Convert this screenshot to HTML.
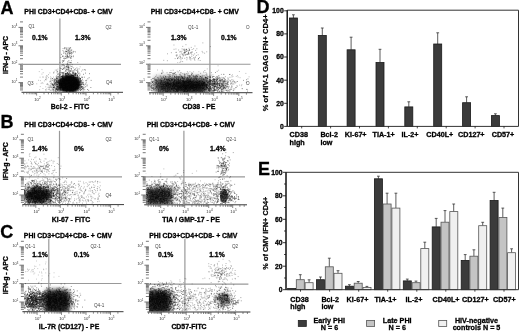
<!DOCTYPE html>
<html><head><meta charset="utf-8"><style>
html,body{margin:0;padding:0;background:#fff;}
svg{display:block;filter:blur(0.3px);}
</style></head><body>
<svg width="520" height="332" viewBox="0 0 520 332">
<defs><filter id="b1" x="-50%" y="-50%" width="200%" height="200%"><feGaussianBlur stdDeviation="1"/></filter>
<filter id="b2" x="-50%" y="-50%" width="200%" height="200%"><feGaussianBlur stdDeviation="2"/></filter>
<filter id="b3" x="-50%" y="-50%" width="200%" height="200%"><feGaussianBlur stdDeviation="3"/></filter></defs>
<g font-family="Liberation Sans, sans-serif">
<text x="68.5" y="13.6" font-size="6.9" font-weight="bold" text-anchor="middle" fill="#000"  stroke="#000" stroke-width="0.3">PHI CD3+CD4+CD8- + CMV</text>
<path d="M20.0 89.9h3M20.0 88.1h3M20.0 86.7h3M20.0 85.5h3M20.0 84.4h3M20.0 83.4h3M20.0 77.1h3M20.0 73.8h3M20.0 71.5h3M20.0 69.7h3M20.0 68.3h3M20.0 67.1h3M20.0 66.0h3M20.0 65.0h3M20.0 58.7h3M20.0 55.4h3M20.0 53.1h3M20.0 51.3h3M20.0 49.9h3M20.0 48.7h3M20.0 47.6h3M20.0 46.6h3M20.0 40.3h3M20.0 37.0h3M20.0 34.7h3M20.0 32.9h3M20.0 31.5h3M20.0 30.3h3M20.0 29.2h3M20.0 28.2h3M20.0 21.9h3M18.5 82.6h4.5M18.5 64.2h4.5M18.5 45.8h4.5M18.5 27.4h4.5" stroke="#555" stroke-width="0.8" fill="none"/>
<text x="17.3" y="82.8" font-size="3.8" font-weight="normal" text-anchor="end" fill="#333" >10<tspan font-size="2.8" dy="-1.7">1</tspan></text>
<text x="17.3" y="64.4" font-size="3.8" font-weight="normal" text-anchor="end" fill="#333" >10<tspan font-size="2.8" dy="-1.7">2</tspan></text>
<text x="17.3" y="46.0" font-size="3.8" font-weight="normal" text-anchor="end" fill="#333" >10<tspan font-size="2.8" dy="-1.7">3</tspan></text>
<text x="17.3" y="27.6" font-size="3.8" font-weight="normal" text-anchor="end" fill="#333" >10<tspan font-size="2.8" dy="-1.7">4</tspan></text>
<line x1="21.5" y1="92.3" x2="123" y2="92.3" stroke="#222" stroke-width="0.9"/>
<path d="M23.7 92.3v2M26.8 92.3v2M29.2 92.3v2M31.1 92.3v2M32.8 92.3v2M34.2 92.3v2M35.5 92.3v2M44.0 92.3v2M48.4 92.3v2M51.5 92.3v2M53.9 92.3v2M55.8 92.3v2M57.5 92.3v2M58.9 92.3v2M60.2 92.3v2M68.7 92.3v2M73.1 92.3v2M76.2 92.3v2M78.6 92.3v2M80.5 92.3v2M82.2 92.3v2M83.6 92.3v2M84.9 92.3v2M93.4 92.3v2M97.8 92.3v2M100.9 92.3v2M103.3 92.3v2M105.2 92.3v2M106.9 92.3v2M108.3 92.3v2M109.6 92.3v2M118.1 92.3v2M36.6 92.3v3.2M61.3 92.3v3.2M86.0 92.3v3.2M110.7 92.3v3.2" stroke="#555" stroke-width="0.7" fill="none"/>
<text x="37.4" y="100.6" font-size="4.2" font-weight="normal" text-anchor="middle" fill="#333" >10<tspan font-size="3" dy="-1.9">2</tspan></text>
<text x="62.1" y="100.6" font-size="4.2" font-weight="normal" text-anchor="middle" fill="#333" >10<tspan font-size="3" dy="-1.9">3</tspan></text>
<text x="86.8" y="100.6" font-size="4.2" font-weight="normal" text-anchor="middle" fill="#333" >10<tspan font-size="3" dy="-1.9">4</tspan></text>
<text x="111.5" y="100.6" font-size="4.2" font-weight="normal" text-anchor="middle" fill="#333" >10<tspan font-size="3" dy="-1.9">5</tspan></text>
<line x1="59.9" y1="18.5" x2="59.9" y2="92.3" stroke="#999" stroke-width="1.2"/>
<line x1="21.5" y1="64.4" x2="121" y2="64.4" stroke="#999" stroke-width="1.1"/>
<clipPath id="cp400"><rect x="23.0" y="18.5" width="98.0" height="73.3"/></clipPath><g clip-path="url(#cp400)">
<ellipse cx="69.5" cy="84" rx="11" ry="9.5" fill="#000" fill-opacity="0.97" filter="url(#b1)"/>
<path d="M67.7 86.8h.9M67.9 82.3h.9M63.0 82.8h.9M77.3 86.3h.9M76.8 85.4h.9M72.3 85.0h.9M57.8 88.7h.9M73.0 86.7h.9M57.7 74.4h.9M63.3 81.4h.9M71.6 83.7h.9M73.1 80.5h.9M71.7 86.2h.9M73.4 90.6h.9M65.2 79.9h.9M67.1 83.4h.9M73.9 85.4h.9M66.4 78.7h.9M65.9 90.7h.9M63.8 85.3h.9M72.5 75.8h.9M69.8 91.2h.9M55.4 82.2h.9M68.8 79.5h.9M73.0 83.7h.9M59.2 88.6h.9M74.2 89.2h.9M79.6 86.0h.9M70.3 76.9h.9M73.8 80.6h.9M66.3 77.0h.9M62.7 81.1h.9M78.5 72.8h.9M59.3 85.3h.9M79.6 87.2h.9M56.2 70.1h.9M72.0 80.0h.9M61.7 89.4h.9M77.2 84.9h.9M71.2 86.4h.9M80.7 87.4h.9M73.1 87.0h.9M58.5 91.0h.9M76.2 86.9h.9M55.7 80.5h.9M75.4 74.0h.9M68.2 89.6h.9M73.4 83.2h.9M71.8 87.6h.9M70.3 90.3h.9M64.9 81.7h.9M76.8 84.1h.9M63.3 89.2h.9M79.8 81.6h.9M59.8 83.3h.9M68.5 82.4h.9M79.3 78.4h.9M78.3 77.0h.9M64.0 87.5h.9M77.4 88.7h.9M71.9 84.8h.9M70.6 87.2h.9M68.3 85.5h.9M73.5 84.0h.9M74.8 87.1h.9M83.6 85.8h.9M66.5 82.0h.9M69.4 89.1h.9M67.1 86.1h.9M82.4 69.9h.9M61.6 85.3h.9M72.3 85.3h.9M66.5 87.6h.9M71.5 81.1h.9M86.5 86.0h.9M65.6 83.5h.9M67.9 83.7h.9M50.4 81.3h.9M76.6 77.6h.9M69.0 89.2h.9M57.6 82.1h.9M67.1 87.4h.9M77.1 69.2h.9M77.1 76.0h.9M74.3 75.8h.9M70.7 90.6h.9M68.5 85.1h.9M75.1 84.8h.9M76.8 82.4h.9M88.7 77.7h.9M75.9 82.5h.9M70.4 87.9h.9M71.1 87.5h.9M58.8 75.7h.9M73.8 78.7h.9M62.3 75.9h.9M78.4 88.1h.9M79.8 78.8h.9M69.5 77.7h.9M76.4 83.0h.9M68.8 80.7h.9M72.3 86.3h.9M80.0 78.4h.9M79.7 83.0h.9M64.3 89.6h.9M70.3 84.7h.9M79.5 82.6h.9M53.4 81.9h.9M56.5 88.5h.9M71.7 80.6h.9M69.4 88.6h.9M70.1 91.3h.9M69.1 89.7h.9M64.8 88.8h.9M56.4 78.0h.9M55.8 89.9h.9M60.9 83.9h.9M68.2 83.8h.9M65.4 85.3h.9M82.0 84.2h.9M73.2 89.5h.9M68.1 77.1h.9M65.6 89.9h.9M58.0 80.7h.9M76.6 88.4h.9M69.6 88.4h.9M70.7 77.5h.9M58.6 80.5h.9M76.0 80.9h.9M63.2 79.8h.9M58.8 83.4h.9M61.2 86.0h.9M53.0 85.8h.9M65.0 73.3h.9M74.6 82.5h.9M53.9 79.2h.9M71.5 81.5h.9M75.0 88.1h.9M74.2 85.8h.9M78.8 87.6h.9M72.7 72.5h.9M75.8 91.2h.9M67.4 81.4h.9M83.1 74.3h.9M63.0 87.8h.9M82.7 83.3h.9M73.4 89.0h.9M63.2 83.5h.9M71.5 88.5h.9M69.3 82.9h.9M62.4 82.0h.9M75.7 84.6h.9M63.5 79.4h.9M88.2 90.3h.9M74.0 69.7h.9M73.9 86.6h.9M81.3 86.4h.9M69.0 86.9h.9M55.9 89.7h.9M71.8 80.1h.9M59.7 80.3h.9M71.5 85.0h.9M66.7 78.6h.9M84.3 89.7h.9M61.1 76.6h.9M81.4 89.4h.9M82.2 88.5h.9M63.4 85.4h.9M54.4 79.9h.9M69.1 86.9h.9M64.4 83.3h.9M72.7 86.1h.9M74.0 85.1h.9M67.2 88.3h.9M69.8 79.5h.9M65.1 84.0h.9M68.7 84.9h.9M69.5 85.0h.9M68.6 77.1h.9M72.4 89.8h.9M72.5 83.0h.9M72.6 78.7h.9M56.2 84.3h.9M63.0 88.1h.9M61.9 69.5h.9M66.8 76.5h.9M64.2 86.9h.9M73.0 85.0h.9M79.9 87.9h.9M69.4 87.3h.9M81.1 89.3h.9M76.7 78.0h.9M68.5 88.0h.9M67.4 89.9h.9M73.7 89.0h.9M78.2 82.8h.9M67.1 88.8h.9M76.4 84.0h.9M61.3 85.0h.9M72.0 90.2h.9M75.0 84.1h.9M75.5 87.0h.9M70.9 84.3h.9M67.8 87.8h.9M62.1 80.5h.9M69.5 75.9h.9M66.4 73.0h.9M64.7 87.1h.9M73.5 83.7h.9M67.9 76.2h.9M82.3 86.8h.9M77.2 79.1h.9M68.2 74.0h.9M75.0 89.1h.9M56.2 83.7h.9M73.9 74.3h.9M56.7 78.1h.9M65.1 76.3h.9M69.7 85.4h.9M73.9 87.9h.9M80.0 90.4h.9M60.3 81.2h.9M62.1 78.1h.9M68.9 84.0h.9M72.9 75.3h.9M60.8 83.9h.9M68.1 82.3h.9M69.1 79.8h.9M74.4 85.9h.9M68.9 80.3h.9M68.3 69.0h.9M62.6 84.2h.9M59.0 85.1h.9M70.5 76.4h.9M67.7 82.3h.9M72.7 87.4h.9M69.2 79.3h.9M68.5 83.6h.9M74.6 85.6h.9M64.4 76.6h.9M66.9 79.9h.9M61.7 83.4h.9M66.1 84.6h.9M73.2 81.7h.9M85.8 82.2h.9M77.2 84.7h.9M77.3 70.9h.9M64.2 85.4h.9M71.8 91.0h.9M74.9 89.2h.9M73.1 83.1h.9M73.1 78.1h.9M77.8 78.4h.9M67.9 84.1h.9M77.6 84.1h.9M63.8 85.4h.9M73.6 87.9h.9M81.2 84.1h.9M71.4 81.6h.9M79.4 80.1h.9M74.2 81.4h.9M64.6 88.0h.9M78.8 83.9h.9M64.8 88.5h.9M69.2 85.7h.9M80.2 90.2h.9M69.5 88.3h.9M65.0 83.8h.9M79.1 77.3h.9M59.0 75.1h.9M77.7 81.5h.9M69.1 82.3h.9M68.7 78.0h.9M69.7 76.1h.9M69.0 85.7h.9M72.8 82.7h.9M63.2 84.9h.9M74.9 83.4h.9M66.2 80.1h.9M62.9 82.1h.9M71.6 86.8h.9M64.6 84.1h.9M89.1 73.7h.9M65.8 84.9h.9M70.6 86.2h.9M67.8 86.0h.9M69.9 88.2h.9M56.3 79.1h.9M69.5 78.3h.9M62.2 87.5h.9M65.0 87.5h.9M74.7 85.7h.9M73.1 83.4h.9M59.6 83.8h.9M72.7 81.1h.9M68.8 88.1h.9M63.4 87.5h.9M82.5 80.9h.9M70.5 83.2h.9M80.3 85.7h.9M75.8 80.2h.9M69.4 83.9h.9M75.8 74.4h.9M74.7 83.3h.9M72.6 86.0h.9M59.0 82.8h.9M79.9 80.8h.9M62.3 76.5h.9M61.0 85.8h.9M81.3 86.4h.9M65.9 80.3h.9M73.2 87.0h.9M62.4 77.6h.9M71.5 85.4h.9M60.4 82.9h.9M65.7 86.5h.9M68.7 83.5h.9M67.0 89.8h.9M79.2 82.0h.9M75.4 79.8h.9M70.0 88.1h.9M80.1 81.9h.9M69.0 85.1h.9M59.0 84.1h.9M64.8 86.0h.9M61.6 73.1h.9M69.8 85.4h.9M65.7 88.9h.9M67.6 80.7h.9M72.8 75.4h.9M64.8 83.9h.9M75.4 83.1h.9M71.7 80.4h.9M65.0 84.1h.9M70.7 89.6h.9M60.8 72.4h.9M73.7 88.4h.9M70.9 85.4h.9M76.0 86.0h.9M81.1 77.2h.9M66.9 65.1h.9M75.2 82.0h.9M69.5 82.6h.9M66.0 79.4h.9M65.1 87.5h.9M69.8 84.4h.9M68.3 89.0h.9M73.0 83.2h.9M74.2 83.2h.9M72.8 78.7h.9M77.1 85.9h.9M71.8 88.9h.9M70.9 83.2h.9M58.7 89.3h.9M69.7 82.4h.9M72.0 84.4h.9M74.2 82.0h.9M69.2 72.2h.9M66.5 87.7h.9M78.9 82.0h.9M67.2 88.0h.9M81.2 84.2h.9M78.1 80.1h.9M71.0 83.6h.9M70.3 90.2h.9M86.2 80.3h.9M65.5 86.7h.9M62.1 86.7h.9M73.5 82.5h.9M73.2 75.5h.9M74.8 75.5h.9M64.6 80.9h.9M66.7 88.7h.9M70.1 81.8h.9M69.5 86.0h.9M78.2 85.5h.9M85.0 73.1h.9M69.2 86.3h.9M76.3 87.7h.9M67.6 78.2h.9M70.2 89.7h.9M61.9 78.4h.9M69.3 73.3h.9M67.7 81.6h.9M72.7 80.1h.9M63.3 81.8h.9M69.2 80.3h.9M69.6 88.1h.9M64.0 81.7h.9M64.4 83.8h.9M73.2 76.5h.9M72.7 83.9h.9M56.7 85.6h.9M77.9 73.7h.9M75.2 85.2h.9M72.8 86.4h.9M78.6 82.8h.9M75.6 81.7h.9M74.6 79.5h.9M72.6 83.1h.9M61.5 79.7h.9M70.9 89.2h.9M72.5 86.9h.9M69.2 91.4h.9M66.8 81.0h.9M75.7 84.3h.9M67.6 80.8h.9M67.7 87.4h.9M72.0 77.3h.9M72.5 85.0h.9M62.5 88.3h.9M67.5 82.2h.9M75.1 91.3h.9M64.7 86.4h.9M66.0 90.6h.9M65.0 88.5h.9M85.0 70.0h.9M66.5 86.8h.9M68.8 80.3h.9M84.6 84.4h.9M58.0 88.7h.9M57.4 90.3h.9M65.5 84.8h.9M78.3 84.6h.9M59.8 74.7h.9M77.8 88.1h.9M63.8 88.7h.9M73.0 87.6h.9M53.7 82.3h.9M75.8 88.0h.9M75.7 70.5h.9M70.7 86.7h.9M87.4 78.8h.9M67.2 84.2h.9M75.7 81.6h.9M77.5 79.7h.9M71.4 81.1h.9M70.6 80.2h.9M58.3 90.0h.9M71.6 80.9h.9M70.9 89.4h.9M62.7 83.4h.9M73.3 86.9h.9M67.2 72.4h.9M78.2 85.8h.9M69.6 82.5h.9M71.3 81.7h.9M62.3 79.9h.9M65.3 80.6h.9M61.4 87.5h.9M60.3 87.6h.9M62.4 85.9h.9M79.1 85.1h.9M64.4 84.3h.9M70.5 74.5h.9M65.2 84.9h.9M66.2 84.4h.9M74.6 88.2h.9M75.8 87.2h.9M67.5 83.9h.9M67.6 82.3h.9M68.2 74.5h.9M67.2 83.9h.9M62.7 83.9h.9M73.1 83.1h.9M84.0 69.7h.9M68.1 74.0h.9M52.0 84.7h.9M73.1 82.3h.9M73.4 71.7h.9M75.5 86.0h.9M69.7 80.8h.9M74.0 81.3h.9M71.1 81.2h.9M53.8 83.8h.9M70.9 88.1h.9M63.4 83.8h.9M73.8 84.8h.9M63.1 73.4h.9M76.0 88.5h.9M65.2 80.1h.9M75.7 79.0h.9M56.8 78.5h.9M64.7 80.0h.9M71.1 79.9h.9M78.7 83.6h.9M61.9 91.2h.9M65.4 85.2h.9M69.4 82.3h.9M71.8 80.2h.9M56.6 71.9h.9M60.6 79.8h.9M69.3 84.3h.9M73.4 84.7h.9M63.9 80.1h.9M54.7 83.1h.9M72.9 86.9h.9M68.7 83.0h.9M76.1 84.1h.9M74.7 87.2h.9M71.0 91.2h.9M65.5 82.0h.9M63.8 79.6h.9M69.7 87.1h.9M77.7 88.4h.9M77.9 77.1h.9M65.0 86.5h.9M79.5 84.6h.9M63.5 82.1h.9M64.9 79.3h.9M80.0 80.6h.9M77.8 85.8h.9M65.2 86.3h.9M80.9 87.4h.9M78.3 84.5h.9M73.1 82.9h.9M72.5 91.2h.9M59.5 83.7h.9M71.2 80.9h.9M67.3 88.3h.9M83.5 87.5h.9M71.8 75.5h.9M83.0 84.4h.9M69.3 77.8h.9M69.1 78.0h.9M70.0 86.6h.9M69.7 85.5h.9M64.9 74.0h.9M68.2 79.8h.9M62.4 82.0h.9M71.5 77.5h.9M74.3 83.2h.9M70.4 83.3h.9M69.2 88.0h.9M68.9 70.8h.9M69.3 79.1h.9M74.1 80.6h.9M62.2 77.8h.9M59.6 70.8h.9M56.4 86.0h.9M65.0 73.7h.9M59.1 87.4h.9M64.1 82.0h.9M71.8 91.5h.9M83.1 89.7h.9M70.5 85.0h.9M67.3 86.5h.9M71.5 84.3h.9M66.0 76.7h.9M65.8 75.5h.9M78.1 87.0h.9M75.7 73.5h.9M82.4 88.5h.9M83.9 77.2h.9M73.2 86.3h.9M70.9 84.9h.9M76.9 75.8h.9M60.8 76.3h.9M65.6 80.7h.9M72.1 85.5h.9M69.7 80.3h.9M66.4 89.2h.9M74.8 84.6h.9M65.3 87.6h.9M77.6 82.5h.9M75.3 77.9h.9M76.6 85.1h.9M58.4 87.7h.9M63.3 91.1h.9M64.7 83.1h.9M71.5 82.2h.9M71.3 81.0h.9M74.2 84.0h.9M71.0 68.9h.9M77.6 84.2h.9M57.0 84.5h.9M72.8 89.9h.9M68.5 87.7h.9M66.9 77.9h.9M77.2 89.0h.9M80.3 88.7h.9M65.5 74.9h.9M64.9 80.3h.9M63.8 87.2h.9M71.8 82.5h.9M70.7 83.2h.9M71.0 88.1h.9M76.2 80.2h.9M70.3 90.1h.9M58.0 82.2h.9M69.7 76.1h.9M65.9 88.0h.9M63.5 76.3h.9M73.1 89.2h.9M70.9 76.8h.9M75.0 88.4h.9M73.4 81.3h.9M71.6 88.3h.9M65.6 73.9h.9M71.8 86.6h.9M69.6 88.9h.9M65.4 83.5h.9M67.4 87.1h.9M80.7 82.6h.9M75.0 87.2h.9M81.9 83.0h.9M68.7 78.2h.9M72.8 91.4h.9M73.2 86.3h.9M68.1 84.9h.9M59.5 89.8h.9M66.6 77.9h.9M64.2 79.5h.9M75.5 89.8h.9M60.0 89.1h.9M75.7 80.8h.9M59.1 79.9h.9M65.1 85.9h.9M67.0 72.8h.9M71.1 75.6h.9M75.8 77.4h.9M64.6 79.3h.9M65.7 91.1h.9M75.5 87.3h.9M71.7 75.5h.9M65.9 81.0h.9M62.7 86.8h.9M64.3 80.1h.9M62.2 72.7h.9M73.7 91.3h.9M70.7 78.6h.9M50.6 85.0h.9M78.0 85.6h.9M77.4 81.6h.9M76.9 88.3h.9M58.7 81.8h.9M59.5 83.4h.9M73.5 78.1h.9M55.1 91.1h.9M60.2 89.8h.9M68.0 85.5h.9M68.4 89.5h.9M76.8 84.5h.9M60.0 88.1h.9M66.2 87.5h.9M77.5 81.5h.9M65.7 86.4h.9M77.8 90.9h.9M73.1 76.7h.9M60.7 85.4h.9M63.5 90.3h.9M74.9 74.8h.9M63.8 84.9h.9M66.0 83.2h.9M72.8 79.5h.9M72.8 80.5h.9M65.7 87.0h.9M65.5 85.6h.9M80.7 84.1h.9M68.5 88.0h.9M66.9 90.0h.9M60.5 87.4h.9M65.9 79.6h.9M81.9 79.3h.9M81.8 87.6h.9M79.7 78.6h.9M68.7 83.3h.9M86.7 85.0h.9M66.5 80.5h.9M72.6 85.8h.9M67.2 86.6h.9M79.7 78.5h.9M60.0 78.0h.9M62.2 73.8h.9M72.7 73.8h.9M58.2 82.3h.9M56.1 88.3h.9M64.3 82.5h.9M69.9 87.0h.9M67.1 84.1h.9M65.7 84.6h.9M61.3 84.3h.9M56.0 81.3h.9M82.9 84.4h.9M60.7 85.4h.9M62.7 74.9h.9M64.3 88.1h.9M72.2 83.5h.9M63.0 78.1h.9M78.9 85.3h.9M62.8 72.4h.9M61.5 83.6h.9M71.0 83.1h.9M67.6 76.4h.9M64.2 88.7h.9M57.6 82.5h.9M71.3 89.7h.9M61.6 87.3h.9M72.2 79.9h.9M72.8 79.1h.9M63.9 83.9h.9M50.5 83.4h.9M62.5 76.0h.9M66.5 88.2h.9M66.7 91.0h.9M61.4 76.8h.9M80.4 86.2h.9M76.1 79.5h.9M75.1 85.4h.9M74.0 84.1h.9M77.9 80.4h.9M62.8 75.9h.9M77.6 79.9h.9M62.2 78.8h.9M66.4 77.0h.9M67.5 80.6h.9M65.6 78.7h.9M69.8 81.5h.9M70.3 85.4h.9M71.9 72.0h.9M65.8 79.6h.9M74.9 75.3h.9M64.5 82.4h.9M67.1 89.5h.9M66.4 89.3h.9M59.2 74.0h.9M78.0 86.4h.9M72.9 84.7h.9M72.9 77.3h.9M76.1 81.1h.9M76.4 84.5h.9M55.7 76.9h.9M77.4 83.2h.9M66.7 85.3h.9M66.5 81.0h.9M70.2 84.8h.9M80.1 84.3h.9M81.5 89.8h.9M70.4 84.8h.9M68.5 80.0h.9M69.0 80.5h.9M81.0 86.9h.9M66.4 73.5h.9M69.1 81.7h.9M61.9 77.7h.9M53.7 87.1h.9M69.3 83.2h.9M79.6 84.7h.9M70.7 82.0h.9M67.1 84.2h.9M63.3 89.3h.9M59.7 87.1h.9M62.9 90.0h.9M64.5 79.8h.9M60.2 90.4h.9M81.0 80.7h.9M64.2 82.1h.9M87.1 89.5h.9M65.7 74.1h.9M64.8 90.5h.9M82.6 82.5h.9M64.7 81.2h.9M56.3 89.0h.9M61.9 89.8h.9M57.5 77.0h.9M71.5 79.8h.9M75.0 84.0h.9M61.3 87.4h.9M75.4 73.5h.9M82.3 86.7h.9M74.8 73.8h.9M64.5 82.1h.9M77.0 76.0h.9M63.3 72.8h.9M67.8 85.9h.9M57.7 80.7h.9M74.1 82.3h.9M61.3 78.8h.9M64.9 84.8h.9M71.5 78.1h.9M80.3 89.2h.9M70.2 80.0h.9M56.4 78.4h.9M75.9 79.6h.9M60.3 85.1h.9M71.2 87.3h.9M63.6 89.4h.9M62.6 87.8h.9M70.8 85.3h.9M76.3 83.9h.9M77.3 88.8h.9M70.4 80.9h.9M64.2 81.1h.9M68.1 83.9h.9M90.4 87.5h.9M74.9 79.3h.9M64.5 82.2h.9M70.8 78.3h.9M80.8 80.9h.9M77.0 71.2h.9M69.5 85.5h.9M70.8 87.3h.9M71.5 84.9h.9M56.3 80.1h.9M53.1 87.5h.9M71.7 82.9h.9M63.8 80.8h.9M69.1 91.1h.9M58.4 73.4h.9M66.1 79.2h.9M65.6 85.0h.9M90.7 80.4h.9M69.8 85.5h.9M69.3 89.1h.9M81.9 77.2h.9M70.6 82.5h.9M72.0 75.6h.9M57.2 71.3h.9M73.2 85.1h.9M70.0 71.0h.9M66.9 79.8h.9M59.6 79.0h.9M74.4 87.0h.9M69.3 86.8h.9M65.3 84.4h.9M69.8 87.0h.9M69.0 83.2h.9M68.6 80.5h.9M85.1 86.8h.9M79.3 75.4h.9M74.4 88.6h.9M82.7 91.2h.9M74.9 77.5h.9M63.4 85.5h.9M73.0 78.4h.9M66.8 81.8h.9M69.9 85.8h.9M67.5 77.2h.9M68.8 89.6h.9M72.6 87.6h.9M72.9 79.8h.9M73.5 89.6h.9M83.4 88.1h.9M67.1 80.7h.9M63.8 84.6h.9M69.3 87.7h.9M85.4 83.8h.9M74.2 86.6h.9M71.4 82.9h.9M68.6 79.5h.9M70.7 83.9h.9M71.7 79.3h.9M69.8 84.3h.9M73.7 78.2h.9M72.4 89.4h.9M73.7 82.0h.9M66.1 82.7h.9M68.4 80.5h.9M72.1 85.1h.9M63.1 79.9h.9M68.8 87.7h.9M61.1 78.4h.9M73.0 77.3h.9M70.3 85.9h.9M68.7 78.4h.9M69.1 82.2h.9M71.9 79.4h.9M77.1 74.8h.9M68.3 84.0h.9M76.2 80.7h.9M73.3 80.9h.9M66.7 86.4h.9M63.0 89.4h.9M78.0 84.2h.9M61.6 86.2h.9M77.5 90.0h.9M75.2 73.9h.9M60.9 90.2h.9M82.7 88.2h.9M77.3 82.2h.9M60.9 83.4h.9M68.1 83.7h.9M74.4 83.2h.9M70.8 86.3h.9M72.6 84.5h.9M68.0 80.6h.9M78.9 84.8h.9M61.9 80.9h.9M68.5 81.5h.9M77.1 77.6h.9M72.9 84.8h.9M61.3 84.3h.9M68.8 86.8h.9M66.3 85.7h.9M57.8 78.0h.9M75.0 89.7h.9M69.4 80.7h.9M77.1 72.5h.9M63.9 87.7h.9M74.1 78.3h.9M70.6 79.1h.9M69.9 89.0h.9M51.4 90.1h.9M74.7 72.6h.9M74.9 74.2h.9M77.5 86.2h.9M85.3 80.6h.9M69.5 89.8h.9M65.0 80.1h.9M66.9 83.6h.9M61.9 86.7h.9M73.3 84.4h.9M81.4 82.2h.9M78.6 81.0h.9M74.8 73.4h.9M70.9 83.0h.9M66.0 80.6h.9M67.1 80.0h.9M54.1 80.7h.9M65.7 81.1h.9M62.1 83.3h.9M75.0 82.6h.9M66.1 91.5h.9M76.3 89.1h.9M77.6 82.2h.9M68.6 90.1h.9M65.6 83.3h.9M72.1 86.1h.9M67.6 89.4h.9M68.3 88.0h.9M77.0 87.6h.9M74.6 77.6h.9M60.3 80.6h.9M60.9 85.7h.9M63.5 80.0h.9M67.6 87.8h.9M71.0 90.5h.9M62.6 88.9h.9M76.0 84.4h.9M72.8 80.9h.9M61.9 81.8h.9M70.9 85.7h.9M74.7 79.7h.9M75.9 86.1h.9M58.9 87.3h.9M73.4 86.5h.9M80.6 81.7h.9M73.1 88.1h.9M63.2 90.6h.9M59.3 76.8h.9M73.2 78.0h.9M68.7 75.0h.9M70.0 77.8h.9M71.9 75.6h.9M72.6 82.5h.9M69.9 83.6h.9M70.4 76.7h.9M51.5 84.2h.9M62.9 81.5h.9M72.5 73.1h.9M64.2 80.6h.9M62.1 85.8h.9M68.5 79.5h.9M62.6 88.4h.9M64.9 87.2h.9M72.6 73.6h.9M61.9 84.0h.9M71.9 88.3h.9M75.1 89.7h.9M66.9 82.8h.9M74.9 81.7h.9M76.9 75.3h.9M74.1 83.0h.9M55.7 89.4h.9M71.7 84.1h.9M62.0 81.4h.9M80.1 79.5h.9M45.2 79.3h.9M61.1 83.3h.9M66.7 79.0h.9M63.6 89.8h.9M65.7 78.0h.9M75.0 87.1h.9M62.2 88.1h.9M56.6 78.9h.9M77.4 82.6h.9M60.4 86.8h.9M75.9 83.9h.9M56.9 82.1h.9M72.4 88.2h.9M82.5 82.6h.9M66.1 83.8h.9M77.9 78.8h.9M78.6 68.9h.9M75.1 80.3h.9M72.7 87.8h.9M61.2 83.5h.9M71.2 87.2h.9M63.0 78.5h.9M68.2 82.8h.9" stroke="#000" stroke-opacity="0.5" stroke-width="0.9" fill="none"/>
<path d="M58.3 86.0h.9M64.5 89.3h.9M73.5 80.1h.9M72.7 72.8h.9M65.9 76.3h.9M59.7 80.1h.9M67.1 89.3h.9M46.2 75.6h.9M62.0 77.0h.9M70.7 82.6h.9M68.2 76.9h.9M71.2 82.3h.9M56.0 78.3h.9M59.1 72.3h.9M69.0 80.4h.9M68.7 74.3h.9M66.7 74.1h.9M70.5 84.5h.9M79.4 88.2h.9M62.8 77.0h.9M61.9 82.0h.9M80.9 84.6h.9M53.7 71.8h.9M59.6 83.3h.9M68.0 81.9h.9M79.6 74.6h.9M70.2 74.9h.9M54.8 70.1h.9M52.1 80.4h.9M68.3 86.5h.9M67.1 75.5h.9M56.5 81.1h.9M68.2 84.0h.9M65.4 83.2h.9M73.3 79.0h.9M65.0 78.8h.9M61.7 78.6h.9M66.0 81.4h.9M76.7 88.5h.9M65.1 83.9h.9M69.9 85.0h.9M68.1 81.7h.9M65.0 74.9h.9M73.7 88.4h.9M72.3 82.8h.9M69.7 77.1h.9M56.4 84.3h.9M69.3 76.4h.9M61.7 88.3h.9M56.3 91.5h.9M63.3 79.9h.9M64.7 81.0h.9M66.6 75.1h.9M75.0 74.9h.9M64.7 83.6h.9M64.5 77.2h.9M70.3 77.6h.9M59.9 79.3h.9M66.6 91.1h.9M60.9 86.3h.9M62.9 77.7h.9M65.9 81.8h.9M73.6 91.4h.9M63.9 88.6h.9M74.5 85.3h.9M63.1 85.9h.9M67.3 82.3h.9M66.3 84.3h.9M75.2 87.4h.9M66.7 86.5h.9M77.4 73.9h.9M77.6 71.3h.9M71.5 83.9h.9M77.6 81.8h.9M64.9 74.8h.9M59.9 85.0h.9M66.5 75.3h.9M71.5 75.0h.9M65.2 77.0h.9M78.8 89.5h.9M67.0 69.8h.9M69.8 80.5h.9M70.3 83.7h.9M65.9 86.0h.9M73.4 81.4h.9M65.4 76.9h.9M72.5 72.9h.9M67.0 75.1h.9M58.9 83.9h.9M67.8 80.2h.9M73.7 70.3h.9M67.6 81.9h.9M73.4 72.9h.9M72.7 81.4h.9M76.8 87.4h.9M68.0 77.2h.9M65.8 73.9h.9M67.8 67.8h.9M67.5 82.8h.9M74.4 77.7h.9M77.0 75.8h.9M67.1 67.8h.9M63.1 74.9h.9M77.5 83.4h.9M61.0 83.4h.9M71.1 78.5h.9M68.1 78.1h.9M64.6 68.7h.9M67.4 88.2h.9M77.1 78.2h.9M63.3 78.7h.9M73.7 82.2h.9M64.3 82.3h.9M66.7 83.3h.9M65.4 70.7h.9M68.4 84.8h.9M61.0 79.3h.9M73.6 77.6h.9M73.3 86.5h.9M62.0 90.3h.9M57.5 76.7h.9M72.7 88.4h.9M62.1 75.8h.9M69.2 67.8h.9M72.0 83.5h.9M65.2 83.4h.9M72.9 82.0h.9M71.3 89.6h.9M65.0 81.0h.9M64.7 86.5h.9M65.4 83.0h.9M68.9 80.4h.9M78.8 79.5h.9M76.9 85.2h.9M76.3 79.0h.9M73.8 84.8h.9M64.1 81.7h.9M67.2 79.8h.9M76.2 75.5h.9M57.4 69.1h.9M65.2 76.0h.9M68.1 83.6h.9M79.0 81.9h.9M70.9 75.4h.9M71.6 88.5h.9M76.4 67.7h.9M73.6 89.9h.9M73.2 70.6h.9M66.1 83.7h.9M70.6 74.9h.9M62.4 86.0h.9M59.6 89.0h.9M68.1 81.9h.9M59.7 76.3h.9M72.3 70.8h.9M81.0 71.2h.9M60.4 80.3h.9M71.0 84.6h.9M65.7 78.7h.9M66.5 76.4h.9M51.9 86.0h.9M69.6 81.0h.9M64.1 81.6h.9M67.9 79.5h.9M74.9 69.2h.9M69.6 73.3h.9M66.0 89.4h.9M61.2 79.4h.9M64.3 85.9h.9M61.9 69.5h.9M71.2 77.8h.9M66.0 86.7h.9M62.5 77.7h.9M68.9 82.6h.9M64.8 86.5h.9M82.0 77.4h.9M79.7 66.8h.9M76.8 77.9h.9M68.9 77.9h.9M64.0 72.0h.9M65.5 88.1h.9M75.1 77.8h.9M64.7 75.6h.9M60.5 91.3h.9M72.1 80.7h.9M64.9 73.6h.9M76.2 84.9h.9M62.1 86.2h.9M61.1 84.0h.9M62.0 77.4h.9M71.1 82.7h.9M74.3 74.8h.9M77.9 88.4h.9M67.9 82.9h.9M63.1 79.0h.9M59.8 80.6h.9M69.2 88.4h.9M73.9 85.1h.9M65.7 78.6h.9M65.9 81.4h.9M56.0 84.8h.9M58.2 76.8h.9M68.1 76.8h.9M78.4 79.4h.9M77.8 87.3h.9M64.9 82.5h.9M76.1 77.9h.9M68.6 76.5h.9M68.4 77.8h.9M68.5 86.3h.9M76.7 80.8h.9M69.3 85.3h.9M66.2 73.4h.9M74.9 74.2h.9M73.8 74.0h.9M79.4 73.5h.9M73.3 89.4h.9M62.0 89.3h.9M62.9 69.0h.9M72.5 84.4h.9M66.7 64.2h.9M67.7 78.1h.9M65.6 78.2h.9M56.8 76.5h.9M79.2 89.7h.9M65.7 75.6h.9M70.5 86.6h.9M72.5 72.7h.9M69.0 80.9h.9M77.0 87.5h.9M71.3 87.6h.9M65.5 89.6h.9M65.3 82.5h.9M73.7 74.3h.9M63.6 69.0h.9M69.0 79.7h.9M66.0 83.1h.9M54.8 79.9h.9M68.5 78.3h.9M73.0 90.9h.9M65.2 74.1h.9M64.2 80.6h.9M71.7 74.6h.9M74.2 73.6h.9M73.2 82.7h.9M66.4 79.0h.9M71.0 85.4h.9M59.6 81.7h.9M63.4 83.9h.9M76.5 80.3h.9" stroke="#000" stroke-opacity="0.3" stroke-width="0.9" fill="none"/>
<path d="M57.5 86.9h.9M45.2 89.7h.9M60.4 86.8h.9M56.3 82.5h.9M46.9 83.8h.9M59.2 85.9h.9M50.8 82.8h.9M63.4 79.8h.9M53.7 80.7h.9M55.6 89.1h.9M60.6 76.3h.9M64.3 83.2h.9M57.6 80.0h.9M55.2 82.5h.9M53.6 84.4h.9M61.8 87.7h.9M53.7 86.6h.9M58.1 89.7h.9M56.6 88.2h.9M67.1 86.5h.9M53.3 87.6h.9M54.5 84.2h.9M58.8 87.6h.9M56.8 90.1h.9M57.2 79.7h.9M61.8 84.3h.9M63.2 82.9h.9M60.5 87.5h.9M46.3 78.8h.9M49.8 90.4h.9M62.7 88.4h.9M60.9 83.6h.9M58.0 87.1h.9M59.8 89.4h.9M57.1 82.6h.9M55.6 88.0h.9M50.8 80.0h.9M56.2 83.3h.9M56.8 73.2h.9M56.5 84.8h.9M61.4 76.5h.9M56.7 88.3h.9M62.6 81.0h.9M60.8 84.4h.9M55.3 81.9h.9M56.2 81.9h.9M62.4 87.8h.9M64.1 88.0h.9M55.3 91.0h.9M55.2 83.8h.9M57.3 86.2h.9M63.2 83.1h.9M59.5 85.9h.9M52.6 80.7h.9M57.0 87.9h.9M59.4 88.3h.9M58.2 83.8h.9M59.8 81.2h.9M52.2 84.4h.9M51.8 83.5h.9M54.8 83.3h.9M57.8 82.1h.9M56.2 77.8h.9M58.6 81.8h.9M59.8 72.4h.9M54.5 87.2h.9M47.4 84.3h.9M58.4 86.5h.9M51.5 87.1h.9M58.6 81.3h.9M61.2 85.8h.9M58.1 83.8h.9M60.4 86.5h.9M62.9 88.2h.9M55.3 84.9h.9M62.0 84.2h.9M59.7 88.5h.9M57.2 74.8h.9M58.6 87.0h.9M58.6 82.3h.9M63.3 85.3h.9M55.3 82.5h.9M59.6 80.7h.9M63.7 91.1h.9M63.9 88.9h.9M63.4 88.4h.9M63.9 83.6h.9M58.6 89.8h.9M57.6 91.3h.9M58.4 89.3h.9M58.4 78.8h.9M60.4 83.1h.9M58.1 76.7h.9M57.2 90.4h.9M48.6 87.0h.9M54.0 82.8h.9M49.8 81.1h.9M59.9 83.6h.9M67.6 73.8h.9M57.7 87.1h.9M67.9 86.7h.9M60.2 87.7h.9M57.2 84.0h.9M56.0 75.9h.9M59.2 85.8h.9M57.5 84.7h.9M54.7 85.9h.9M56.1 87.0h.9M71.7 87.9h.9M61.8 90.0h.9M61.1 90.0h.9M55.8 86.0h.9M54.8 90.7h.9M61.6 83.7h.9M63.4 80.6h.9M57.6 89.1h.9M57.8 87.9h.9M63.2 87.6h.9M53.2 89.5h.9M57.6 86.6h.9M55.5 79.3h.9M52.5 84.3h.9M53.3 72.8h.9M63.0 80.3h.9M54.8 88.6h.9M54.6 89.2h.9M55.9 87.5h.9M58.5 86.0h.9M50.0 78.8h.9M55.6 88.6h.9M58.7 88.4h.9M62.3 78.7h.9M59.2 85.1h.9M56.6 81.8h.9M54.6 81.0h.9M65.5 86.0h.9M61.3 81.2h.9M45.8 77.1h.9M57.8 81.1h.9M56.9 81.1h.9M51.9 84.9h.9M56.2 82.0h.9M54.1 81.5h.9M50.9 87.3h.9M52.9 85.2h.9M58.4 88.7h.9M63.0 83.3h.9M52.6 85.1h.9M59.3 82.6h.9M51.8 87.8h.9M62.5 76.6h.9M58.9 84.9h.9M59.0 83.7h.9M59.9 89.1h.9M61.4 88.8h.9M59.8 80.3h.9M56.2 86.6h.9M56.3 80.9h.9M50.0 87.2h.9M58.1 83.2h.9M56.2 81.7h.9M54.7 85.5h.9M55.2 89.3h.9M57.4 86.6h.9M60.6 87.1h.9M57.3 82.1h.9M56.5 89.3h.9M59.0 84.1h.9M52.2 78.5h.9M59.4 91.0h.9M59.6 79.3h.9M57.1 87.1h.9M54.0 87.7h.9M57.1 81.9h.9M52.6 90.0h.9M59.6 81.7h.9M53.6 90.3h.9M60.6 84.5h.9M65.0 84.6h.9M53.4 91.3h.9M57.2 87.7h.9M58.2 81.1h.9M52.8 85.1h.9M64.2 81.1h.9M64.0 87.1h.9M53.1 87.3h.9M60.5 81.6h.9M48.7 87.7h.9M53.1 88.1h.9M49.6 85.3h.9M54.5 78.8h.9M56.9 86.8h.9M55.6 80.3h.9M58.9 77.5h.9M60.3 88.4h.9M65.3 90.3h.9M59.6 87.3h.9M58.1 79.6h.9M64.4 88.6h.9M56.7 80.4h.9M64.5 88.6h.9M52.8 89.3h.9M66.3 85.9h.9M59.7 84.0h.9M55.3 91.2h.9M71.5 86.6h.9M57.5 89.9h.9M56.7 89.5h.9M61.6 81.1h.9M53.3 85.6h.9M61.6 87.3h.9M63.4 79.3h.9M60.2 83.0h.9M58.4 87.6h.9M53.8 84.9h.9M52.9 87.3h.9M54.3 83.6h.9M59.0 82.8h.9M63.0 82.9h.9M61.7 87.4h.9M53.5 84.9h.9M54.3 84.2h.9M60.0 79.7h.9M47.9 89.3h.9M49.3 89.5h.9M62.5 87.9h.9M57.1 84.8h.9M59.1 84.5h.9M55.7 84.2h.9M63.1 83.0h.9M59.7 80.4h.9M54.9 79.3h.9M57.1 89.3h.9M59.3 83.6h.9M60.7 84.3h.9M59.6 87.3h.9M60.4 74.0h.9M52.3 89.7h.9M57.0 83.3h.9M64.5 88.7h.9M66.3 88.5h.9M57.1 89.5h.9M54.6 83.8h.9M55.6 84.9h.9M61.4 83.7h.9M59.4 83.6h.9M61.8 72.7h.9M57.1 86.8h.9M53.3 90.9h.9M62.2 89.1h.9" stroke="#000" stroke-opacity="0.4" stroke-width="0.9" fill="none"/>
<path d="M66.5 64.3h.9M66.3 66.4h.9M67.8 66.4h.9M77.3 62.6h.9M71.0 66.4h.9M66.2 71.1h.9M67.0 63.9h.9M68.4 67.3h.9M60.0 68.7h.9M63.4 65.5h.9M68.6 69.0h.9M66.0 75.3h.9M68.4 65.9h.9M67.8 67.6h.9M59.6 62.7h.9M62.3 75.0h.9M66.4 67.1h.9M65.1 71.3h.9M67.1 73.8h.9M69.7 73.6h.9M66.6 69.3h.9M65.5 67.4h.9M61.2 66.0h.9M63.8 65.8h.9M71.1 68.9h.9M71.1 70.9h.9M70.1 71.4h.9M65.0 70.7h.9M65.9 66.2h.9M71.0 75.3h.9M63.7 73.9h.9M69.8 65.1h.9M67.9 69.3h.9M68.3 66.8h.9M62.7 68.1h.9M69.9 70.6h.9M69.2 71.7h.9M63.7 67.9h.9M68.1 71.4h.9M67.5 69.7h.9M67.5 75.1h.9M59.6 67.9h.9M75.3 68.8h.9M60.8 68.5h.9M62.2 65.7h.9M67.8 73.8h.9M68.6 70.3h.9M70.4 68.7h.9M64.1 67.7h.9M68.1 67.1h.9M64.7 66.8h.9M61.9 64.5h.9M66.7 66.8h.9M67.1 72.7h.9M68.0 67.9h.9M63.0 64.4h.9M68.3 65.1h.9M68.4 64.4h.9M67.5 67.8h.9M70.4 66.7h.9M65.7 68.8h.9M67.2 73.7h.9M66.1 66.2h.9M65.9 69.6h.9M67.8 70.3h.9M62.3 76.3h.9M73.2 67.9h.9M62.9 68.5h.9M68.4 60.5h.9M67.0 63.0h.9M68.5 72.7h.9M70.5 62.9h.9M71.7 71.1h.9M65.8 69.7h.9M72.1 66.9h.9M66.9 66.1h.9M70.9 60.7h.9M71.8 64.7h.9M70.1 62.5h.9M63.8 66.0h.9" stroke="#000" stroke-opacity="0.4" stroke-width="0.9" fill="none"/>
<path d="M69.9 47.8h.9M69.2 51.6h.9M71.1 52.8h.9M68.9 53.3h.9M72.7 52.6h.9M67.4 61.6h.9M67.7 56.6h.9M65.4 54.8h.9M61.0 54.4h.9M65.6 48.2h.9M63.4 58.4h.9M68.7 48.2h.9M72.7 51.3h.9M66.4 54.9h.9M64.2 47.8h.9M65.3 58.5h.9M70.2 47.9h.9M71.0 54.1h.9M68.9 54.2h.9M68.7 50.1h.9M64.9 51.3h.9M66.4 56.4h.9M64.0 60.1h.9M65.7 51.7h.9M69.5 55.7h.9M66.5 49.9h.9M64.6 47.8h.9M70.8 58.2h.9M72.9 55.9h.9M68.5 56.9h.9M70.2 53.0h.9M68.5 62.3h.9M62.6 48.6h.9M64.7 56.9h.9M70.9 52.7h.9M69.4 53.8h.9M68.4 51.9h.9M67.4 54.0h.9M70.8 62.6h.9M62.3 56.1h.9M67.5 57.7h.9M70.6 57.0h.9M69.8 50.3h.9M62.6 60.4h.9M71.0 50.3h.9M71.2 56.6h.9M60.4 57.5h.9M64.6 58.5h.9M65.5 51.1h.9M63.0 53.2h.9M70.4 51.4h.9M62.1 62.3h.9M72.8 56.7h.9M65.9 49.3h.9M62.8 56.2h.9M71.3 49.9h.9M67.5 52.9h.9M66.8 55.9h.9M73.5 51.5h.9M70.0 58.2h.9M66.7 53.4h.9M63.6 58.2h.9M66.0 51.5h.9M67.7 50.7h.9M64.5 52.9h.9M71.8 53.2h.9M69.0 48.3h.9M61.9 61.0h.9M66.3 48.1h.9M67.2 56.3h.9M62.5 50.6h.9M68.3 50.4h.9M69.8 57.7h.9M68.8 52.3h.9M67.4 51.6h.9M67.1 55.2h.9M66.6 57.8h.9M75.0 51.9h.9M68.5 57.2h.9M69.4 53.1h.9M66.1 57.9h.9M69.3 56.0h.9M65.2 56.4h.9M69.8 53.3h.9M69.4 62.4h.9M62.1 56.3h.9M64.1 48.7h.9M66.8 56.1h.9M67.7 49.5h.9M63.3 51.8h.9M67.5 50.8h.9M63.1 60.8h.9M65.1 53.4h.9M65.9 51.7h.9M67.6 52.8h.9M69.3 49.4h.9M63.2 61.5h.9M67.3 57.0h.9M70.9 56.1h.9M67.6 48.0h.9" stroke="#000" stroke-opacity="0.45" stroke-width="0.9" fill="none"/>
<path d="M39.2 89.7h.9M54.6 87.3h.9M38.8 71.6h.9M42.8 77.1h.9M51.1 78.1h.9M60.7 80.4h.9M46.2 89.0h.9M52.2 78.8h.9M41.7 82.6h.9M42.7 72.7h.9M54.3 88.1h.9M56.6 86.5h.9M36.3 83.8h.9M45.5 77.1h.9M42.5 88.5h.9M53.2 72.9h.9M56.1 91.3h.9M50.2 76.9h.9M62.0 76.3h.9M49.4 72.9h.9M41.5 74.1h.9M57.4 90.9h.9M47.2 76.1h.9M49.6 86.2h.9M39.6 77.2h.9M49.3 88.1h.9M50.5 86.6h.9M41.5 69.4h.9M52.1 78.6h.9M49.2 81.8h.9M53.3 79.5h.9M59.9 84.2h.9M53.6 87.7h.9M57.1 86.4h.9M38.0 80.3h.9M62.7 86.8h.9M53.8 86.7h.9M45.6 80.0h.9M45.6 90.8h.9M53.1 77.1h.9M61.9 86.0h.9M58.2 85.3h.9M47.8 85.0h.9M42.3 77.0h.9M43.9 80.9h.9M40.7 83.4h.9M62.6 83.7h.9M56.1 82.7h.9M52.7 83.8h.9M46.3 84.4h.9M39.8 86.6h.9M48.0 77.6h.9M47.5 87.3h.9M45.3 86.8h.9M42.5 83.3h.9M51.8 88.5h.9M39.9 80.6h.9M61.4 82.3h.9M64.9 79.7h.9M48.1 74.6h.9" stroke="#000" stroke-opacity="0.3" stroke-width="0.9" fill="none"/>
</g>
<text x="28.5" y="27.8" font-size="4.6" font-weight="normal" text-anchor="start" fill="#444" >Q1</text>
<text x="105.5" y="28.5" font-size="4.6" font-weight="normal" text-anchor="start" fill="#444" >Q2</text>
<text x="27.5" y="84.5" font-size="4.6" font-weight="normal" text-anchor="start" fill="#444" >Q3</text>
<text x="106.0" y="84.0" font-size="4.6" font-weight="normal" text-anchor="start" fill="#444" >Q4</text>
<text x="32.0" y="40.0" font-size="6.8" font-weight="bold" text-anchor="start" fill="#000"  stroke="#000" stroke-width="0.3">0.1%</text>
<text x="75.0" y="40.0" font-size="6.8" font-weight="bold" text-anchor="start" fill="#000"  stroke="#000" stroke-width="0.3">1.3%</text>
<text x="70.0" y="108.5" font-size="6.9" font-weight="bold" text-anchor="middle" fill="#000"  stroke="#000" stroke-width="0.3">Bcl-2 - FITC</text>
<text x="8.2" y="55" font-size="6.9" font-weight="bold" text-anchor="middle" stroke="#000" stroke-width="0.3" transform="rotate(-90 8.2 55)">IFN-g - APC</text>
<text x="194.8" y="13.6" font-size="6.9" font-weight="bold" text-anchor="middle" fill="#000"  stroke="#000" stroke-width="0.3">PHI CD3+CD4+CD8- + CMV</text>
<path d="M147.5 89.9h3M147.5 88.1h3M147.5 86.7h3M147.5 85.5h3M147.5 84.4h3M147.5 83.4h3M147.5 77.1h3M147.5 73.8h3M147.5 71.5h3M147.5 69.7h3M147.5 68.3h3M147.5 67.1h3M147.5 66.0h3M147.5 65.0h3M147.5 58.7h3M147.5 55.4h3M147.5 53.1h3M147.5 51.3h3M147.5 49.9h3M147.5 48.7h3M147.5 47.6h3M147.5 46.6h3M147.5 40.3h3M147.5 37.0h3M147.5 34.7h3M147.5 32.9h3M147.5 31.5h3M147.5 30.3h3M147.5 29.2h3M147.5 28.2h3M147.5 21.9h3M146.0 82.6h4.5M146.0 64.2h4.5M146.0 45.8h4.5M146.0 27.4h4.5" stroke="#555" stroke-width="0.8" fill="none"/>
<text x="144.8" y="82.8" font-size="3.8" font-weight="normal" text-anchor="end" fill="#333" >10<tspan font-size="2.8" dy="-1.7">1</tspan></text>
<text x="144.8" y="64.4" font-size="3.8" font-weight="normal" text-anchor="end" fill="#333" >10<tspan font-size="2.8" dy="-1.7">2</tspan></text>
<text x="144.8" y="46.0" font-size="3.8" font-weight="normal" text-anchor="end" fill="#333" >10<tspan font-size="2.8" dy="-1.7">3</tspan></text>
<text x="144.8" y="27.6" font-size="3.8" font-weight="normal" text-anchor="end" fill="#333" >10<tspan font-size="2.8" dy="-1.7">4</tspan></text>
<line x1="149" y1="92.7" x2="252.5" y2="92.7" stroke="#222" stroke-width="0.9"/>
<path d="M150.0 92.7v2M153.2 92.7v2M155.6 92.7v2M157.6 92.7v2M159.3 92.7v2M160.8 92.7v2M162.0 92.7v2M170.8 92.7v2M175.2 92.7v2M178.4 92.7v2M180.8 92.7v2M182.8 92.7v2M184.5 92.7v2M186.0 92.7v2M187.2 92.7v2M196.0 92.7v2M200.4 92.7v2M203.6 92.7v2M206.0 92.7v2M208.0 92.7v2M209.7 92.7v2M211.2 92.7v2M212.4 92.7v2M221.2 92.7v2M225.6 92.7v2M228.8 92.7v2M231.2 92.7v2M233.2 92.7v2M234.9 92.7v2M236.4 92.7v2M237.6 92.7v2M246.4 92.7v2M163.2 92.7v3.2M188.4 92.7v3.2M213.6 92.7v3.2M238.8 92.7v3.2" stroke="#555" stroke-width="0.7" fill="none"/>
<text x="164.0" y="101.0" font-size="4.2" font-weight="normal" text-anchor="middle" fill="#333" >10<tspan font-size="3" dy="-1.9">2</tspan></text>
<text x="189.2" y="101.0" font-size="4.2" font-weight="normal" text-anchor="middle" fill="#333" >10<tspan font-size="3" dy="-1.9">3</tspan></text>
<text x="214.4" y="101.0" font-size="4.2" font-weight="normal" text-anchor="middle" fill="#333" >10<tspan font-size="3" dy="-1.9">4</tspan></text>
<text x="239.6" y="101.0" font-size="4.2" font-weight="normal" text-anchor="middle" fill="#333" >10<tspan font-size="3" dy="-1.9">5</tspan></text>
<line x1="209.9" y1="18.5" x2="209.9" y2="92.7" stroke="#999" stroke-width="1.2"/>
<line x1="149" y1="64.3" x2="250.5" y2="64.3" stroke="#999" stroke-width="1.1"/>
<clipPath id="cp1675"><rect x="150.5" y="18.5" width="100.0" height="73.7"/></clipPath><g clip-path="url(#cp1675)">
<rect x="155" y="78" width="53" height="16" rx="3" fill="#000" fill-opacity="0.8" filter="url(#b3)"/>
<ellipse cx="190" cy="86.5" rx="15" ry="5.5" fill="#000" fill-opacity="0.5" filter="url(#b2)"/>
<path d="M196.9 86.3h.9M222.8 85.8h.9M180.3 78.1h.9M183.5 89.7h.9M198.9 91.1h.9M201.2 84.8h.9M196.3 85.9h.9M192.0 79.8h.9M192.2 86.4h.9M213.7 80.3h.9M150.1 86.4h.9M191.3 86.7h.9M164.1 82.7h.9M188.7 88.7h.9M226.2 86.5h.9M173.7 73.3h.9M205.2 84.3h.9M182.9 80.1h.9M198.8 76.1h.9M187.0 85.6h.9M190.6 91.5h.9M183.1 85.5h.9M201.1 77.3h.9M179.5 85.3h.9M203.0 81.0h.9M200.2 86.9h.9M157.0 77.7h.9M158.0 85.7h.9M188.9 88.6h.9M200.5 82.3h.9M205.2 89.1h.9M193.9 87.4h.9M160.7 86.8h.9M165.5 79.1h.9M178.4 85.7h.9M184.0 83.4h.9M166.1 85.9h.9M171.0 78.0h.9M177.4 79.7h.9M179.4 84.0h.9M187.5 89.9h.9M193.4 75.9h.9M164.2 78.9h.9M193.2 85.5h.9M218.8 83.7h.9M190.8 85.4h.9M209.6 82.0h.9M198.0 83.1h.9M187.1 85.8h.9M185.4 82.7h.9M214.5 83.7h.9M196.9 90.1h.9M211.3 90.4h.9M217.6 77.9h.9M222.1 85.1h.9M151.9 81.8h.9M158.6 84.9h.9M156.8 80.0h.9M190.6 85.8h.9M169.9 83.8h.9M183.1 85.4h.9M184.9 83.9h.9M201.7 77.0h.9M175.6 85.7h.9M177.4 82.2h.9M176.7 86.0h.9M208.6 84.1h.9M179.9 86.8h.9M180.4 75.3h.9M190.1 83.1h.9M174.1 88.1h.9M185.8 82.2h.9M185.3 84.4h.9M193.3 86.1h.9M175.9 78.7h.9M164.2 84.3h.9M163.2 88.8h.9M159.8 76.0h.9M181.3 76.1h.9M215.9 80.0h.9M184.0 83.8h.9M169.4 76.2h.9M157.2 87.8h.9M184.7 89.2h.9M175.2 88.6h.9M202.0 88.0h.9M212.5 84.1h.9M214.3 81.5h.9M216.7 71.3h.9M185.3 81.0h.9M185.0 90.2h.9M198.6 85.5h.9M217.3 77.6h.9M191.2 74.6h.9M191.5 79.1h.9M213.1 90.7h.9M174.6 91.5h.9M169.2 89.6h.9M196.0 84.4h.9M158.0 83.6h.9M166.6 72.8h.9M196.1 86.8h.9M199.7 85.3h.9M172.7 70.2h.9M194.1 89.8h.9M173.8 77.9h.9M184.2 76.6h.9M185.1 88.9h.9M213.7 86.3h.9M188.7 88.7h.9M211.6 83.4h.9M161.7 81.0h.9M161.1 80.6h.9M182.7 86.7h.9M188.0 85.3h.9M178.2 87.1h.9M201.8 88.8h.9M213.5 83.5h.9M188.8 87.1h.9M178.6 89.8h.9M177.4 80.0h.9M183.8 82.8h.9M200.8 83.1h.9M187.3 83.9h.9M191.5 81.8h.9M206.0 77.9h.9M177.7 81.5h.9M197.3 85.2h.9M194.2 83.3h.9M171.4 79.4h.9M178.7 82.3h.9M190.3 86.8h.9M203.6 84.5h.9M170.8 79.7h.9M186.2 86.8h.9M222.0 85.9h.9M165.1 91.1h.9M206.6 91.7h.9M184.8 89.8h.9M175.9 84.6h.9M180.9 89.8h.9M186.3 81.5h.9M189.6 88.3h.9M171.5 88.2h.9M171.5 80.6h.9M189.2 83.8h.9M166.3 76.9h.9M185.4 86.2h.9M176.3 85.9h.9M156.0 87.0h.9M192.9 86.4h.9M173.4 85.4h.9M187.5 90.3h.9M190.2 86.3h.9M171.3 89.3h.9M207.3 82.5h.9M197.1 86.5h.9M184.1 78.6h.9M218.4 75.7h.9M190.8 83.1h.9M206.7 82.9h.9M185.7 88.1h.9M193.7 82.4h.9M197.9 87.0h.9M203.8 82.4h.9M184.1 83.0h.9M169.1 86.3h.9M178.8 86.9h.9M206.7 84.4h.9M186.2 85.7h.9M171.9 80.1h.9M206.2 85.9h.9M183.6 78.8h.9M187.2 90.8h.9M163.2 80.6h.9M214.4 82.2h.9M196.4 81.3h.9M194.9 83.2h.9M188.7 91.7h.9M191.4 83.8h.9M186.1 86.3h.9M175.3 86.0h.9M161.6 89.4h.9M231.1 86.0h.9M187.3 90.7h.9M175.4 82.6h.9M191.4 82.1h.9M206.0 85.0h.9M176.5 89.6h.9M169.4 91.2h.9M203.2 85.7h.9M211.0 85.0h.9M184.0 90.5h.9M157.3 82.0h.9M194.1 87.8h.9M191.1 87.2h.9M160.2 84.1h.9M189.9 83.9h.9M186.1 88.0h.9M167.1 82.2h.9M151.6 90.7h.9M165.1 76.6h.9M199.5 83.9h.9M203.2 83.2h.9M225.0 88.5h.9M187.8 85.6h.9M181.1 89.0h.9M222.6 82.9h.9M164.6 88.0h.9M205.1 77.6h.9M172.0 80.1h.9M195.6 87.5h.9M171.2 79.4h.9M197.8 74.8h.9M197.1 84.2h.9M221.0 89.9h.9M174.1 83.6h.9M179.8 81.4h.9M186.5 89.8h.9M156.7 83.9h.9M213.0 88.7h.9M169.8 81.0h.9M169.0 77.1h.9M206.5 85.3h.9M171.9 77.9h.9M177.8 82.5h.9M217.2 82.7h.9M187.2 90.3h.9M197.5 84.1h.9M196.2 82.9h.9M183.3 80.3h.9M168.2 77.7h.9M194.4 87.5h.9M188.3 88.8h.9M195.0 85.6h.9M168.5 87.9h.9M207.2 88.1h.9M208.3 82.7h.9M166.7 91.1h.9M174.1 86.2h.9M181.4 85.1h.9M180.0 82.4h.9M188.8 75.6h.9M168.1 79.5h.9M171.2 72.5h.9M180.4 88.6h.9M196.2 78.9h.9M207.7 76.7h.9M174.3 83.2h.9M208.4 85.6h.9M182.7 81.1h.9M186.7 85.2h.9M198.6 91.8h.9M198.7 85.1h.9M188.7 84.9h.9M195.6 84.5h.9M173.2 90.2h.9M176.6 89.7h.9M170.4 85.5h.9M192.5 85.7h.9M189.3 86.9h.9M164.1 79.6h.9M182.7 80.5h.9M172.7 85.2h.9M207.0 82.2h.9M195.4 85.9h.9M178.4 80.4h.9M182.2 81.5h.9M195.0 76.4h.9M205.9 88.7h.9M196.2 76.7h.9M186.0 87.2h.9M172.3 79.5h.9M193.0 87.5h.9M177.1 83.8h.9M175.6 82.2h.9M183.9 90.2h.9M155.2 83.3h.9M214.9 86.5h.9M187.9 89.1h.9M166.4 79.1h.9M154.2 77.9h.9M189.6 89.1h.9M177.3 81.7h.9M192.5 88.0h.9M189.8 75.7h.9M174.9 72.7h.9M189.5 80.9h.9M209.5 87.3h.9M190.1 85.8h.9M174.2 84.8h.9M220.4 80.7h.9M172.8 85.8h.9M201.5 89.1h.9M167.1 84.4h.9M180.1 79.0h.9M186.4 82.7h.9M202.0 87.1h.9M170.6 85.4h.9M178.4 81.9h.9M176.0 90.2h.9M177.4 76.7h.9M170.7 88.9h.9M224.8 79.9h.9M178.4 83.4h.9M159.0 87.0h.9M184.1 86.4h.9M226.4 83.7h.9M199.7 89.1h.9M173.3 82.1h.9M213.8 88.5h.9M187.7 79.7h.9M201.3 87.6h.9M199.9 86.3h.9M186.2 82.3h.9M190.7 86.2h.9M197.0 90.3h.9M190.8 82.4h.9M169.6 87.0h.9M195.1 87.6h.9M194.3 84.6h.9M217.0 78.2h.9M172.6 82.5h.9M155.6 86.7h.9M184.0 82.4h.9M212.2 90.7h.9M177.4 88.2h.9M184.3 90.6h.9M195.8 84.8h.9M195.2 81.5h.9M178.3 87.7h.9M154.3 89.6h.9M201.2 80.0h.9M217.2 85.6h.9M153.1 78.4h.9M201.1 83.7h.9M205.4 77.5h.9M183.2 89.7h.9M172.5 88.3h.9M178.4 86.7h.9M162.1 88.8h.9M209.2 79.5h.9M204.4 70.6h.9M180.6 76.7h.9M190.6 81.5h.9M174.6 80.9h.9M190.4 82.7h.9M168.3 83.9h.9M192.5 80.8h.9M205.5 76.9h.9M192.5 83.1h.9M214.0 81.9h.9M172.8 78.5h.9M221.7 88.0h.9M165.0 83.4h.9M192.7 75.1h.9M188.9 89.4h.9M185.0 87.3h.9M183.0 86.0h.9M188.9 81.6h.9M191.4 85.8h.9M184.3 81.7h.9M166.3 86.2h.9M200.2 73.3h.9M175.1 91.6h.9M201.9 81.5h.9M210.0 80.2h.9M176.9 83.9h.9M154.5 80.1h.9M163.3 84.3h.9M151.1 90.2h.9M178.4 82.1h.9M173.3 88.6h.9M213.3 83.0h.9M209.8 86.5h.9M157.5 88.3h.9M177.4 85.9h.9M150.2 83.6h.9M189.3 80.4h.9M189.3 81.7h.9M229.1 74.5h.9M168.0 87.0h.9M174.1 73.8h.9M189.8 89.0h.9M194.2 90.8h.9M156.8 85.0h.9M209.4 85.0h.9M188.4 81.9h.9M205.3 81.6h.9M187.3 74.9h.9M186.1 86.0h.9M223.4 77.7h.9M175.2 84.0h.9M161.7 78.4h.9M162.1 88.1h.9M184.1 89.0h.9M165.0 87.9h.9M176.8 85.4h.9M202.3 85.2h.9M178.5 76.9h.9M186.2 88.8h.9M173.3 84.7h.9M152.2 78.5h.9M192.5 91.3h.9M179.2 76.8h.9M177.9 77.3h.9M190.6 84.3h.9M204.3 83.1h.9M191.2 86.0h.9M193.3 77.8h.9M198.2 89.3h.9M185.4 88.3h.9M195.3 89.4h.9M173.1 82.1h.9M192.0 88.0h.9M195.7 86.7h.9M176.0 90.4h.9M193.8 90.2h.9M172.6 85.6h.9M176.1 83.5h.9M188.6 86.7h.9M170.1 72.5h.9M170.4 87.7h.9M169.2 87.1h.9M178.1 80.4h.9M183.1 84.8h.9M203.0 78.5h.9M168.6 90.6h.9M201.9 82.6h.9M170.4 86.7h.9M158.6 82.5h.9M180.6 72.8h.9M196.1 88.8h.9M205.0 77.9h.9M160.9 81.0h.9M166.6 83.5h.9M188.9 87.3h.9M212.3 79.6h.9M201.6 85.7h.9M162.9 85.7h.9M171.3 90.0h.9M209.5 81.9h.9M168.1 85.6h.9M165.2 89.5h.9M188.3 81.2h.9M172.1 88.6h.9M170.2 84.0h.9M200.5 91.5h.9M197.3 85.4h.9M217.0 88.3h.9M193.2 87.9h.9M198.9 86.4h.9M181.8 77.1h.9M223.9 78.5h.9M221.6 91.1h.9M173.6 86.3h.9M184.5 75.1h.9M178.7 86.5h.9M207.2 79.0h.9M191.3 85.4h.9M187.8 85.7h.9M178.1 78.2h.9M193.6 86.9h.9M196.0 91.2h.9M161.5 73.3h.9M167.7 87.0h.9M184.7 88.6h.9M245.9 82.4h.9M181.8 82.0h.9M189.7 87.6h.9M166.6 91.6h.9M206.8 87.2h.9M182.9 83.8h.9M153.8 88.3h.9M166.5 82.5h.9M203.9 80.4h.9M175.1 89.3h.9M220.3 81.5h.9M206.0 81.7h.9M192.4 87.4h.9M163.4 90.1h.9M219.2 85.3h.9M190.1 79.1h.9M219.0 85.3h.9M160.8 88.8h.9M157.2 81.6h.9M227.0 81.8h.9M172.6 82.1h.9M174.3 87.8h.9M212.7 80.0h.9M193.4 76.0h.9M214.0 84.6h.9M183.0 91.8h.9M169.8 85.3h.9M192.0 84.0h.9M213.9 81.4h.9M204.0 91.8h.9M167.8 82.3h.9M192.4 84.1h.9M186.5 82.7h.9M183.4 87.4h.9M199.2 81.1h.9M182.8 81.2h.9M181.6 77.8h.9M203.1 88.4h.9M182.7 81.6h.9M176.3 81.7h.9M247.5 78.9h.9M162.8 87.9h.9M196.5 77.1h.9M175.6 85.4h.9M184.9 82.2h.9M182.3 83.5h.9M208.6 84.5h.9M184.4 82.4h.9M172.9 81.3h.9M206.2 86.2h.9M216.7 90.1h.9M188.9 84.2h.9M164.1 86.2h.9M179.0 77.1h.9M189.1 87.5h.9M188.8 82.7h.9M193.8 90.4h.9M179.1 87.6h.9M204.5 82.6h.9M188.2 81.3h.9M196.5 83.2h.9M206.8 81.2h.9M217.1 83.4h.9M169.0 80.5h.9M197.6 80.7h.9M219.3 91.4h.9M194.8 77.9h.9M184.5 81.4h.9M150.6 87.1h.9M226.8 82.3h.9M200.4 91.4h.9M166.7 83.3h.9M190.1 87.4h.9M163.2 86.1h.9M183.0 89.8h.9M154.6 82.2h.9M175.4 83.4h.9M198.7 81.9h.9M237.0 81.5h.9M201.0 90.1h.9M203.3 84.0h.9M169.2 83.7h.9M197.6 85.6h.9M196.1 87.9h.9M168.2 80.3h.9M212.4 82.6h.9M169.2 80.3h.9M203.4 79.3h.9M168.5 90.2h.9M187.5 85.3h.9M172.8 83.9h.9M175.5 84.9h.9M199.7 78.6h.9M167.6 74.5h.9M213.6 84.6h.9M184.7 84.7h.9M204.1 86.6h.9M201.2 84.2h.9M182.7 84.7h.9M155.0 80.0h.9M197.7 85.3h.9M168.3 84.6h.9M203.9 83.9h.9M182.7 83.2h.9M210.9 72.7h.9M209.2 90.3h.9M183.6 87.8h.9M166.6 90.5h.9M243.1 80.4h.9M211.5 84.7h.9M178.6 82.6h.9M181.4 78.7h.9M184.7 87.8h.9M190.9 87.4h.9M156.0 80.3h.9M197.0 90.0h.9M163.3 82.1h.9M164.7 88.3h.9M191.5 85.2h.9M172.7 86.7h.9M185.6 81.3h.9M191.3 81.7h.9M203.1 88.1h.9M171.9 87.9h.9M186.3 81.5h.9M167.6 76.7h.9M163.5 86.7h.9M207.9 81.9h.9M188.0 86.7h.9M199.8 87.2h.9M208.3 88.8h.9M170.5 87.0h.9M185.4 87.9h.9M179.3 89.2h.9M210.1 80.8h.9M174.7 86.3h.9M194.3 85.7h.9M200.8 79.1h.9M199.7 90.8h.9M206.1 87.1h.9M180.5 87.0h.9M183.6 77.1h.9M173.5 84.8h.9M175.2 80.3h.9M180.6 83.1h.9M186.3 84.8h.9M188.3 90.0h.9M187.6 87.0h.9M161.8 70.3h.9M177.4 88.4h.9M178.6 81.9h.9M161.4 89.5h.9M175.0 86.2h.9M206.5 87.7h.9M227.6 84.3h.9M203.2 88.5h.9M172.6 85.2h.9M174.3 79.9h.9M190.7 81.1h.9M216.9 81.3h.9M174.7 85.5h.9M175.1 85.3h.9M173.5 77.9h.9M213.9 87.2h.9M187.9 82.7h.9M182.2 86.5h.9M158.6 81.0h.9M168.1 91.3h.9M164.9 90.9h.9M183.5 85.2h.9M210.7 89.4h.9M202.8 79.7h.9M183.1 82.6h.9M164.3 90.1h.9M190.6 85.0h.9M201.6 84.9h.9M213.0 80.2h.9M201.8 80.0h.9M211.8 83.6h.9M208.2 82.9h.9M192.6 90.7h.9M167.9 85.5h.9M169.1 89.3h.9M173.5 83.1h.9M181.1 90.8h.9M165.2 84.9h.9M178.8 82.3h.9M170.0 84.2h.9M188.7 77.3h.9M189.4 79.1h.9M166.6 84.7h.9M180.2 89.9h.9M176.0 76.1h.9M154.4 85.9h.9M189.8 90.3h.9M174.8 88.3h.9M164.8 91.5h.9M183.6 81.6h.9M168.9 78.8h.9M165.7 79.2h.9M184.0 86.8h.9M181.9 86.0h.9M207.5 83.6h.9M161.2 73.6h.9M189.6 81.6h.9M180.3 87.0h.9M193.8 77.2h.9M166.8 85.4h.9M182.3 90.7h.9M175.5 74.7h.9M207.2 76.8h.9M166.6 86.9h.9M189.5 87.7h.9M195.3 81.4h.9M208.8 76.6h.9M173.9 86.4h.9M187.6 80.2h.9M167.2 86.9h.9M172.9 82.8h.9M203.7 85.6h.9M182.9 85.5h.9M162.7 91.1h.9M170.7 91.5h.9M176.3 82.7h.9M213.2 86.0h.9M172.9 82.3h.9M196.7 83.0h.9M163.7 81.6h.9M182.7 86.2h.9M172.5 91.4h.9M166.8 81.4h.9M194.4 87.4h.9M177.6 89.8h.9M186.0 91.6h.9M181.2 86.0h.9M195.0 76.3h.9M202.5 86.6h.9M191.4 75.5h.9M167.1 83.5h.9M187.7 82.8h.9M202.8 88.0h.9M185.3 85.3h.9M191.9 86.2h.9M171.3 88.9h.9M169.3 84.8h.9M178.2 79.2h.9M196.5 84.7h.9M162.9 84.6h.9M174.2 88.5h.9M166.6 80.7h.9M183.3 87.1h.9M202.5 83.7h.9M205.9 89.8h.9M168.4 84.1h.9M174.6 89.4h.9M202.3 83.7h.9M175.8 86.7h.9M170.3 78.7h.9M166.7 86.7h.9M150.4 87.5h.9M163.2 90.8h.9M198.2 85.6h.9M212.9 83.1h.9M175.0 79.8h.9M172.6 85.6h.9M197.7 91.4h.9M179.9 81.4h.9M178.7 82.9h.9M176.2 83.0h.9M168.5 84.7h.9M175.3 84.2h.9M158.8 85.7h.9M195.8 88.2h.9M174.6 79.3h.9M160.4 79.2h.9M172.9 83.5h.9M151.5 88.3h.9M156.0 81.6h.9M171.4 89.1h.9M219.7 83.2h.9M179.8 83.1h.9M181.2 84.2h.9M231.5 79.6h.9M182.9 81.1h.9M191.7 82.4h.9M195.8 79.6h.9M224.7 86.0h.9M151.7 88.5h.9M176.2 79.3h.9M193.3 82.4h.9M198.9 82.3h.9M202.0 85.7h.9M191.7 85.8h.9M178.1 83.2h.9M193.5 88.5h.9M216.8 79.3h.9M205.4 84.7h.9M189.4 81.1h.9M216.0 80.9h.9M183.5 81.4h.9M221.3 91.2h.9M160.2 82.8h.9M191.8 82.9h.9M178.4 79.7h.9M189.7 79.6h.9M192.0 81.7h.9M178.5 80.3h.9M187.2 88.5h.9M202.5 83.6h.9M162.6 84.6h.9M216.4 86.4h.9M183.8 74.8h.9M176.9 87.7h.9M167.3 91.6h.9M174.4 80.7h.9M174.1 84.6h.9M203.7 82.2h.9M151.6 84.6h.9M197.7 87.2h.9M170.6 80.7h.9M167.1 89.6h.9M189.1 90.3h.9M219.0 85.1h.9M160.6 82.8h.9M178.1 83.2h.9M187.7 80.9h.9M206.7 78.3h.9M169.8 76.7h.9M158.8 87.9h.9M196.8 84.1h.9M200.8 88.0h.9M174.2 84.8h.9M176.8 86.8h.9M195.2 91.0h.9M192.9 90.3h.9M165.1 83.7h.9M228.6 86.2h.9M186.7 86.3h.9M187.7 78.5h.9M172.1 84.2h.9M188.2 80.8h.9M183.0 81.4h.9M160.4 81.8h.9M170.0 89.1h.9M210.0 87.9h.9M181.0 82.3h.9M155.7 82.5h.9M214.2 90.7h.9M189.2 83.8h.9M185.1 87.1h.9M184.9 87.1h.9M170.6 85.3h.9M178.5 90.3h.9M161.8 91.4h.9M183.4 82.6h.9M185.4 85.6h.9M180.7 87.1h.9M174.2 76.8h.9M198.0 84.9h.9M216.1 86.9h.9M172.2 87.7h.9M226.5 90.4h.9M164.6 84.6h.9M155.0 88.3h.9M195.5 80.0h.9M193.5 89.6h.9M200.1 81.8h.9M172.1 79.6h.9M160.9 86.6h.9M185.7 91.4h.9M190.1 83.5h.9M188.1 84.9h.9M166.2 79.9h.9M196.8 80.3h.9M195.9 88.1h.9M177.9 77.1h.9M192.7 91.9h.9M169.6 78.9h.9M205.3 85.7h.9M173.4 91.0h.9M179.8 87.2h.9M177.5 81.4h.9M189.1 80.9h.9M151.9 82.4h.9M208.0 90.4h.9M225.6 89.9h.9M215.1 86.3h.9M176.9 87.3h.9M167.3 88.6h.9M176.6 86.3h.9M169.1 84.4h.9M203.3 84.0h.9M172.4 86.4h.9M201.4 84.1h.9M163.2 77.5h.9M160.0 90.2h.9M183.4 87.4h.9M205.0 86.4h.9M194.0 82.6h.9M155.0 88.1h.9M183.2 87.8h.9M165.1 84.4h.9M222.6 81.0h.9M186.8 91.4h.9M180.7 85.7h.9M176.8 91.3h.9M183.3 83.3h.9M193.1 83.9h.9M203.3 85.6h.9M200.1 89.0h.9M195.8 85.3h.9M186.3 87.0h.9M195.5 86.8h.9M174.8 84.7h.9M193.5 80.3h.9M184.8 88.7h.9M188.1 83.7h.9M184.6 82.7h.9M203.3 83.3h.9M154.0 79.3h.9M190.6 86.1h.9M176.2 78.8h.9M182.2 81.0h.9M172.8 85.1h.9M170.7 86.6h.9M171.2 82.8h.9M214.3 89.6h.9M171.3 85.1h.9M202.0 88.9h.9M154.7 84.8h.9M171.2 88.7h.9M196.9 82.5h.9M224.8 83.7h.9M230.4 84.3h.9M175.2 82.8h.9M212.4 84.9h.9M193.9 79.1h.9M218.3 89.8h.9M191.6 88.5h.9M175.7 82.8h.9M155.8 86.8h.9M208.0 89.2h.9M202.1 88.5h.9M167.9 78.8h.9M196.9 85.9h.9M203.3 83.8h.9M168.6 87.2h.9M174.6 77.3h.9M173.7 80.9h.9M164.3 82.5h.9M217.1 83.1h.9M206.2 84.7h.9M192.5 81.9h.9M183.6 77.1h.9M218.3 81.4h.9M195.9 82.3h.9M190.0 79.5h.9M178.0 89.4h.9M196.0 75.8h.9M200.8 78.8h.9M190.3 87.6h.9M173.1 83.6h.9M180.4 87.0h.9M202.0 91.6h.9M180.1 88.7h.9M182.7 85.5h.9M167.9 86.9h.9M222.7 85.8h.9M184.6 85.1h.9M198.3 84.1h.9M184.9 86.1h.9M209.2 89.6h.9M165.4 82.1h.9M185.4 89.1h.9M203.0 84.1h.9M224.6 84.3h.9M211.1 91.8h.9M214.7 86.0h.9M195.7 77.8h.9M151.9 82.2h.9M198.4 90.1h.9M183.1 90.0h.9M155.4 81.1h.9M167.2 80.1h.9M215.7 80.7h.9M169.6 83.2h.9M201.5 82.9h.9M198.7 87.7h.9M173.1 73.9h.9M167.9 79.2h.9M215.4 81.7h.9M165.1 86.9h.9M186.0 80.6h.9M205.4 89.4h.9M190.2 81.5h.9M168.8 75.3h.9M192.1 86.9h.9M167.9 85.2h.9M246.0 79.7h.9M153.2 88.0h.9M177.1 82.7h.9M196.6 84.5h.9M203.5 87.5h.9M206.6 85.6h.9M153.3 90.0h.9M189.7 78.5h.9M186.2 89.3h.9M166.0 85.3h.9M171.2 80.3h.9M173.5 91.1h.9M197.8 84.9h.9M183.5 85.7h.9M190.3 85.9h.9M153.0 89.4h.9M169.1 72.7h.9M198.1 79.3h.9M182.4 84.6h.9M174.0 87.6h.9M179.9 83.7h.9M167.2 83.7h.9M165.7 85.3h.9M209.7 89.9h.9M193.0 78.6h.9M204.2 89.5h.9M223.5 74.4h.9M185.3 83.5h.9M205.3 79.9h.9M203.6 75.6h.9M185.4 91.6h.9M173.5 87.9h.9M186.9 78.1h.9M173.3 90.4h.9M207.1 82.2h.9M206.0 81.7h.9M189.6 84.9h.9M161.7 86.6h.9M177.7 72.0h.9M169.5 81.0h.9M169.4 80.4h.9M172.1 73.4h.9M201.6 85.4h.9M189.8 83.8h.9M186.2 83.8h.9M164.6 77.8h.9M186.4 89.9h.9M159.5 83.8h.9M173.5 90.9h.9M216.7 82.5h.9M198.7 83.9h.9M166.3 84.5h.9M196.0 90.7h.9M191.7 73.4h.9M200.0 85.5h.9M165.9 88.8h.9M191.2 84.2h.9M179.7 87.6h.9M195.8 88.2h.9M177.4 78.7h.9M209.6 91.2h.9M174.4 84.9h.9M200.1 76.6h.9M190.1 81.6h.9M223.2 85.1h.9M189.0 83.0h.9M188.4 76.4h.9M161.0 78.0h.9M201.9 84.6h.9M206.5 75.3h.9M170.2 76.1h.9M171.1 83.4h.9M184.8 91.3h.9M195.9 82.6h.9M175.8 77.9h.9M208.8 91.0h.9M186.7 80.7h.9M197.6 87.4h.9M187.9 79.4h.9M189.5 82.3h.9M198.8 87.9h.9M193.2 83.0h.9M213.4 88.7h.9M208.7 89.0h.9M197.4 86.9h.9M165.0 76.3h.9M167.5 88.0h.9M202.0 85.9h.9M177.6 76.5h.9M156.1 83.5h.9M198.1 88.5h.9M180.9 88.9h.9M184.1 81.5h.9M177.9 88.6h.9M202.8 79.6h.9M166.6 85.6h.9M224.6 79.4h.9M161.6 87.0h.9M194.5 82.1h.9M184.5 87.3h.9M152.5 84.9h.9M196.2 89.4h.9M206.7 84.7h.9M158.1 91.4h.9M199.4 82.0h.9M204.3 90.0h.9M182.4 73.7h.9M176.3 81.4h.9M169.4 84.6h.9M164.9 86.9h.9M220.2 79.3h.9M204.4 82.5h.9M195.1 84.4h.9M208.9 81.6h.9M198.7 81.3h.9M189.3 84.9h.9M205.3 77.4h.9M159.9 91.7h.9M165.8 86.0h.9M184.0 82.9h.9M198.3 84.5h.9M171.1 88.7h.9M210.3 82.6h.9M179.0 86.8h.9M205.9 87.5h.9M167.1 82.3h.9M204.5 84.4h.9M173.3 89.2h.9M165.0 81.6h.9M172.1 86.7h.9M176.1 90.3h.9M173.1 83.7h.9M195.6 86.0h.9M195.7 82.6h.9M188.9 79.7h.9M162.2 83.6h.9M191.8 85.5h.9M170.6 78.4h.9M191.9 81.2h.9M207.0 87.6h.9M177.3 82.1h.9M206.1 86.6h.9M215.3 86.7h.9M174.2 82.1h.9M172.0 86.2h.9M189.7 87.9h.9M193.4 80.0h.9M181.2 80.5h.9M193.9 78.7h.9M174.2 80.9h.9M173.6 83.8h.9M213.0 83.8h.9M158.4 83.6h.9M198.9 87.7h.9M205.5 85.4h.9M207.5 78.6h.9M181.9 80.8h.9M166.1 91.8h.9M153.7 80.9h.9M203.5 84.6h.9M187.7 84.9h.9M188.4 84.1h.9M166.9 83.6h.9M187.1 80.7h.9M154.7 82.4h.9M179.8 85.1h.9M186.8 81.5h.9M184.4 85.0h.9M187.4 77.9h.9M156.1 87.8h.9M178.7 82.0h.9M160.0 83.5h.9M183.3 81.7h.9M178.5 89.3h.9M199.5 87.6h.9M181.8 78.5h.9M208.5 90.6h.9M190.1 86.8h.9M184.8 91.0h.9M199.4 83.5h.9M185.0 77.3h.9M171.5 83.6h.9M230.2 81.1h.9M201.9 85.4h.9M179.5 88.0h.9M220.7 86.4h.9M183.9 85.8h.9M197.2 82.7h.9M187.2 87.4h.9M178.6 86.9h.9M191.2 88.4h.9M166.8 82.4h.9M177.1 90.7h.9M189.6 77.1h.9M191.3 78.8h.9M168.2 85.7h.9M178.3 83.6h.9M220.4 80.3h.9M213.9 86.6h.9M186.7 91.2h.9M193.9 81.0h.9M156.9 85.1h.9M194.5 91.6h.9M199.7 86.0h.9M193.0 86.9h.9M173.4 84.5h.9M187.4 82.8h.9M158.0 78.1h.9M194.3 87.5h.9M187.0 79.4h.9M200.7 83.1h.9M194.8 82.9h.9M212.3 91.5h.9M189.8 76.8h.9M178.0 83.6h.9M193.5 84.4h.9M191.4 77.2h.9M158.2 89.4h.9M227.6 88.1h.9M159.4 91.0h.9M150.8 86.6h.9M177.5 91.0h.9M206.7 85.9h.9M218.1 89.7h.9M176.2 80.3h.9M230.4 83.1h.9M192.6 84.4h.9M176.3 77.3h.9M182.3 84.4h.9M203.1 82.5h.9M156.1 79.8h.9M184.3 86.2h.9M198.4 83.2h.9M195.0 85.7h.9M216.2 84.7h.9M187.7 87.7h.9M207.5 80.6h.9M176.3 83.7h.9M204.8 85.1h.9M247.1 91.1h.9M201.7 78.2h.9M213.3 87.0h.9M162.9 85.3h.9M198.9 89.7h.9M188.2 82.5h.9M199.1 81.3h.9M183.6 88.7h.9M158.4 86.8h.9M162.3 84.6h.9M198.2 84.8h.9M201.9 85.5h.9M181.2 87.4h.9M180.6 85.7h.9M204.2 82.3h.9M206.3 79.7h.9M181.0 76.6h.9M191.6 91.1h.9M157.9 80.1h.9M193.6 89.0h.9M200.4 76.9h.9M194.4 84.7h.9M187.2 87.3h.9M179.8 76.8h.9M165.3 78.0h.9M160.7 84.4h.9M209.2 81.6h.9M170.9 79.5h.9M153.1 85.3h.9M176.0 83.8h.9M167.2 87.3h.9M162.8 87.6h.9M172.8 88.8h.9M168.6 87.1h.9M193.1 84.6h.9M215.2 85.8h.9M168.6 88.3h.9M169.8 82.4h.9M185.2 85.9h.9M216.5 76.6h.9M180.2 90.5h.9M182.1 86.6h.9M213.2 79.1h.9M185.8 88.8h.9M174.2 76.5h.9M166.5 85.9h.9M209.6 77.5h.9M204.2 89.4h.9M215.0 84.3h.9M174.7 85.7h.9M213.6 88.0h.9M216.4 88.8h.9M174.1 80.1h.9M219.3 77.7h.9M178.5 83.5h.9M168.1 82.2h.9M183.8 82.5h.9M187.3 89.5h.9M169.9 83.0h.9M152.7 88.4h.9M201.2 83.7h.9M177.8 83.5h.9M162.5 88.7h.9M173.8 81.5h.9M194.6 85.5h.9M174.2 83.9h.9M175.9 91.5h.9M203.6 81.5h.9M184.3 91.6h.9M193.2 88.2h.9M191.3 87.8h.9M193.9 87.6h.9M175.6 89.4h.9M186.2 79.9h.9M166.1 85.8h.9M191.2 74.3h.9M156.6 83.8h.9M173.9 87.7h.9M166.3 91.0h.9M162.5 86.5h.9M188.2 88.0h.9M170.2 91.5h.9M183.7 84.9h.9M180.1 79.8h.9M198.4 86.6h.9M168.9 83.6h.9M185.1 89.1h.9M181.7 89.5h.9M193.5 76.5h.9M172.3 75.2h.9M179.7 83.0h.9M195.9 85.8h.9M183.8 91.1h.9M196.0 79.0h.9M172.2 86.6h.9M216.6 84.0h.9M181.8 86.3h.9M199.5 84.6h.9M190.5 83.0h.9M174.8 81.1h.9M197.2 82.3h.9M195.2 87.0h.9M203.1 72.0h.9M167.1 79.1h.9M182.0 88.9h.9M210.2 86.9h.9M177.8 87.6h.9M185.2 88.0h.9M165.9 79.7h.9M173.1 84.8h.9M191.5 83.3h.9M191.5 88.3h.9M163.5 84.5h.9M156.1 82.3h.9M201.8 81.5h.9M219.6 87.5h.9M201.5 85.5h.9M201.1 90.3h.9M187.0 82.4h.9M181.6 82.8h.9M171.9 76.8h.9M175.7 86.6h.9M176.0 81.3h.9M192.6 87.2h.9M176.9 86.5h.9M166.9 89.2h.9M166.7 83.4h.9M187.5 83.0h.9M213.2 76.5h.9M187.3 78.8h.9M190.8 78.7h.9M195.8 87.6h.9M216.7 90.9h.9M176.5 89.6h.9M176.5 84.5h.9M175.7 76.4h.9M196.2 75.1h.9M180.6 87.6h.9M187.1 77.3h.9M172.9 88.3h.9M151.3 87.2h.9M176.1 88.7h.9M153.7 84.3h.9M198.1 81.9h.9M178.3 80.2h.9M205.7 78.5h.9M168.0 83.4h.9M190.1 80.9h.9M195.8 86.7h.9M190.2 84.7h.9M193.6 79.3h.9M162.7 82.9h.9M164.5 88.4h.9M221.0 91.0h.9M193.3 86.6h.9M172.3 78.7h.9M195.2 77.8h.9M190.6 84.3h.9M198.9 85.2h.9M187.0 82.2h.9M153.0 83.3h.9M197.9 90.1h.9M210.6 80.2h.9M167.6 88.4h.9M190.8 77.6h.9M151.1 85.7h.9M176.7 80.0h.9M153.3 81.5h.9M225.5 85.5h.9M180.1 79.3h.9M191.3 82.7h.9M169.3 91.7h.9M193.2 80.7h.9M212.5 84.7h.9M194.3 85.7h.9M206.9 88.0h.9M178.5 88.5h.9M177.7 85.7h.9M215.5 79.8h.9M165.8 83.0h.9M175.7 91.3h.9M214.4 82.8h.9M188.5 83.2h.9M197.5 88.2h.9M199.0 88.7h.9M220.9 84.2h.9M198.0 84.1h.9M185.7 86.1h.9M184.0 86.7h.9M169.2 84.3h.9M173.8 79.3h.9M171.9 82.6h.9M182.2 77.4h.9M180.2 79.5h.9M169.8 85.9h.9M205.6 86.4h.9M175.9 82.9h.9M209.9 77.1h.9M206.2 77.7h.9M173.2 85.2h.9M194.2 84.8h.9M202.7 85.2h.9M170.0 90.5h.9M212.9 91.2h.9M177.3 88.7h.9M155.0 80.0h.9M206.9 87.4h.9M179.2 70.7h.9M193.2 84.1h.9M184.9 86.1h.9M199.0 83.7h.9M168.3 83.2h.9M221.8 81.6h.9M204.6 85.6h.9M198.7 83.7h.9M168.1 89.9h.9M180.1 83.2h.9M191.4 84.1h.9M179.2 80.6h.9M189.7 86.6h.9M219.1 84.9h.9M152.3 87.3h.9M227.6 82.8h.9M170.1 84.2h.9M181.5 77.6h.9M195.7 80.7h.9M150.6 81.5h.9M208.3 86.0h.9M175.5 83.7h.9M203.0 82.5h.9M192.8 89.7h.9M168.1 82.1h.9M193.4 85.0h.9M182.7 82.4h.9M210.3 77.1h.9M185.9 85.5h.9M185.7 78.2h.9M182.6 85.7h.9M172.3 86.5h.9M186.9 86.9h.9M181.9 82.8h.9M188.5 90.3h.9M201.8 84.6h.9M176.3 90.2h.9M195.1 89.3h.9M179.8 80.8h.9M188.5 81.9h.9M206.4 89.2h.9M209.8 90.1h.9M176.2 80.8h.9M203.1 90.0h.9M186.1 79.4h.9M156.5 86.3h.9M169.6 81.7h.9M193.3 90.1h.9M209.2 84.8h.9M178.6 88.1h.9M163.8 79.0h.9M203.9 85.0h.9M203.9 83.0h.9M163.0 76.8h.9M190.1 89.4h.9M191.9 84.8h.9M177.5 90.3h.9M184.1 77.9h.9M210.6 81.8h.9M192.3 85.0h.9M204.7 86.2h.9M207.9 86.0h.9M176.4 82.5h.9M197.1 80.9h.9M202.3 83.8h.9M167.7 80.7h.9M199.4 85.1h.9M179.8 85.0h.9M177.1 91.5h.9M188.3 82.8h.9M188.5 80.1h.9M165.4 84.2h.9M222.1 79.6h.9M182.4 77.3h.9M188.2 86.0h.9M198.8 78.5h.9M173.8 81.8h.9M181.3 84.8h.9M175.5 88.9h.9M232.8 90.7h.9M213.6 79.7h.9M204.7 85.1h.9M208.4 90.2h.9M197.2 76.8h.9M187.5 82.5h.9M193.4 85.2h.9M204.6 77.1h.9M171.2 84.6h.9M191.0 83.0h.9M184.5 85.3h.9M204.6 84.4h.9M189.5 76.1h.9M191.7 73.7h.9M192.7 84.5h.9M185.1 81.4h.9M177.2 89.1h.9M191.7 84.9h.9M175.9 86.0h.9M207.2 84.9h.9M178.1 79.2h.9M186.9 80.5h.9M158.1 89.3h.9M173.4 75.0h.9M183.0 78.5h.9M164.4 88.5h.9M192.6 86.0h.9M181.3 87.4h.9M213.8 87.4h.9M181.9 78.1h.9M197.1 78.8h.9M188.5 91.4h.9M173.1 87.4h.9M155.3 76.4h.9M192.0 88.5h.9M178.4 84.9h.9M177.4 90.9h.9M161.1 81.7h.9M156.3 80.5h.9M184.6 85.1h.9M218.4 83.9h.9M191.5 86.7h.9M187.6 85.7h.9M182.9 85.0h.9M184.0 89.9h.9M185.4 85.3h.9M184.1 88.7h.9M176.2 89.6h.9M174.3 88.4h.9M220.9 86.1h.9M183.4 79.2h.9M198.8 85.1h.9M202.0 81.8h.9M192.5 83.4h.9M160.6 85.0h.9M197.3 87.9h.9M164.1 79.9h.9M166.7 80.0h.9M179.8 86.3h.9M221.0 86.0h.9M212.2 76.9h.9M213.9 88.9h.9M193.3 89.1h.9M200.1 76.4h.9M183.4 91.5h.9M178.6 81.8h.9M178.6 86.6h.9M188.5 81.9h.9M195.1 88.0h.9M167.8 79.5h.9M185.2 81.6h.9M173.7 84.3h.9M185.6 87.8h.9M200.6 87.2h.9M206.0 80.2h.9M196.4 86.8h.9M165.4 81.7h.9M193.3 85.4h.9M161.4 82.3h.9M213.6 89.2h.9M186.5 91.7h.9M168.0 84.2h.9M203.0 83.3h.9M164.0 87.9h.9M215.1 72.5h.9M187.9 78.8h.9M179.4 78.0h.9M233.8 81.6h.9M185.8 81.5h.9M166.4 82.8h.9M165.0 85.4h.9M176.8 77.3h.9M189.6 81.3h.9M174.2 79.9h.9M204.3 83.0h.9M182.3 85.9h.9M162.0 86.1h.9M181.8 87.2h.9M177.8 85.2h.9M194.7 89.8h.9M172.1 89.8h.9M166.5 84.1h.9M187.4 85.7h.9M181.5 89.6h.9M151.2 85.4h.9M195.1 85.1h.9M190.0 89.6h.9M169.9 87.9h.9M205.0 83.8h.9M169.0 79.8h.9" stroke="#000" stroke-opacity="0.45" stroke-width="0.9" fill="none"/>
<path d="M219.4 81.4h.9M235.6 87.5h.9M205.7 83.7h.9M228.1 88.0h.9M207.9 89.6h.9M211.6 87.7h.9M220.5 83.0h.9M214.8 90.2h.9M219.9 84.7h.9M223.4 87.1h.9M218.6 78.0h.9M217.1 82.8h.9M221.8 82.3h.9M219.5 80.3h.9M223.1 81.8h.9M215.8 87.6h.9M213.4 85.0h.9M201.7 81.0h.9M221.3 89.2h.9M212.3 85.4h.9M214.4 79.7h.9M203.7 79.3h.9M226.3 83.3h.9M231.4 87.8h.9M219.0 87.9h.9M222.2 89.1h.9M208.3 82.5h.9M211.7 85.5h.9M214.0 79.5h.9M232.8 81.2h.9M219.0 84.8h.9M209.3 88.2h.9M219.6 83.6h.9M195.1 84.5h.9M222.7 81.8h.9M223.0 88.0h.9M202.0 84.1h.9M218.5 88.4h.9M217.2 84.9h.9M213.3 83.7h.9M216.0 80.3h.9M221.1 83.6h.9M220.1 82.7h.9M219.2 85.6h.9M223.0 87.1h.9M223.4 84.3h.9M215.6 83.8h.9M206.1 84.4h.9M224.6 88.4h.9M209.3 86.3h.9M221.9 79.0h.9M218.8 86.5h.9M221.9 86.1h.9M202.2 76.0h.9M231.7 83.2h.9M226.1 90.6h.9M216.7 79.9h.9M226.8 84.8h.9M220.1 87.1h.9M223.5 89.5h.9M204.8 78.7h.9M217.1 85.0h.9M222.1 84.4h.9M226.9 90.1h.9M224.2 81.5h.9M215.3 84.7h.9M207.4 81.1h.9M217.3 79.6h.9M220.3 87.1h.9M214.1 83.5h.9M220.8 87.1h.9M218.9 79.6h.9M210.8 83.4h.9M201.6 81.5h.9M210.2 88.5h.9M195.1 78.8h.9M212.7 82.8h.9M209.9 83.0h.9M203.5 86.2h.9M225.4 85.7h.9M211.8 90.6h.9M219.9 80.4h.9M211.5 82.3h.9M215.6 90.4h.9M210.4 84.4h.9M216.9 79.7h.9M212.2 87.7h.9M224.9 76.7h.9M221.6 83.7h.9M226.2 87.8h.9M231.6 86.4h.9M212.9 81.3h.9M204.7 87.5h.9M220.1 88.6h.9M218.8 78.4h.9M212.8 83.9h.9M217.3 88.4h.9M227.2 86.3h.9M199.7 80.5h.9M199.1 81.6h.9M206.5 86.1h.9M214.3 89.9h.9M224.5 83.0h.9M223.5 85.1h.9M219.6 91.0h.9M206.9 84.7h.9M228.2 81.6h.9M217.7 85.6h.9M212.7 79.2h.9M210.6 80.7h.9M224.5 86.1h.9M221.6 79.8h.9M220.0 85.6h.9M224.3 81.8h.9M222.4 91.1h.9M230.3 80.9h.9M207.1 78.5h.9M223.6 87.6h.9M218.7 81.2h.9M215.7 84.5h.9M225.4 87.2h.9M226.6 83.2h.9M218.7 83.5h.9M211.5 83.7h.9M213.8 87.2h.9M213.6 85.3h.9M209.6 79.6h.9M227.3 80.7h.9M230.3 89.1h.9M197.9 82.2h.9M212.7 85.1h.9M214.6 82.3h.9M225.9 84.4h.9M223.6 82.0h.9M210.6 90.9h.9M213.8 80.2h.9M214.7 89.6h.9M214.7 81.8h.9M221.0 89.3h.9M214.4 83.6h.9M214.8 86.8h.9M199.9 85.8h.9M216.4 83.6h.9M212.8 79.0h.9M204.2 85.7h.9M211.0 84.6h.9M214.6 82.8h.9M207.3 82.8h.9M213.7 79.9h.9M208.4 88.8h.9M223.4 85.6h.9M241.6 88.6h.9M225.8 81.4h.9M209.7 80.0h.9M215.7 81.5h.9M221.1 80.1h.9M216.7 76.4h.9M215.8 89.6h.9M213.9 86.4h.9M224.6 80.2h.9M206.0 85.4h.9M218.2 83.8h.9M208.4 90.3h.9M206.8 83.9h.9M215.7 88.2h.9M212.5 81.4h.9M231.9 81.3h.9M222.3 84.3h.9M212.3 84.8h.9M214.0 86.4h.9M195.9 84.9h.9M216.6 80.7h.9M230.6 87.8h.9M217.9 83.7h.9M227.0 83.0h.9M209.5 88.0h.9M208.4 81.5h.9M227.5 77.9h.9M215.5 85.5h.9M218.1 78.6h.9M214.2 83.5h.9M231.2 89.4h.9M210.1 88.8h.9M221.2 84.5h.9M214.1 83.8h.9M203.8 82.2h.9M223.4 91.4h.9M230.7 83.4h.9M220.9 74.4h.9M213.9 79.5h.9M222.5 77.7h.9M207.8 80.1h.9M219.2 88.7h.9M217.3 81.3h.9M218.8 84.9h.9M222.6 86.5h.9M233.3 90.1h.9M211.0 88.5h.9M222.0 80.6h.9M210.1 81.5h.9M196.5 87.8h.9M214.3 90.4h.9M211.6 85.3h.9M221.8 89.3h.9M218.6 80.4h.9M233.4 88.8h.9M227.1 86.8h.9M219.8 87.8h.9M204.2 88.6h.9M208.4 86.9h.9M208.1 88.1h.9M217.6 87.2h.9M208.9 83.7h.9M215.6 83.7h.9M212.6 81.2h.9M222.1 83.3h.9M209.6 86.6h.9M209.6 84.2h.9M212.0 80.9h.9M214.3 81.4h.9M206.2 86.5h.9M213.7 78.6h.9M212.9 85.8h.9M219.4 86.6h.9M218.1 87.6h.9M212.2 81.5h.9M220.9 83.2h.9M216.1 87.9h.9M223.5 90.4h.9M210.6 83.4h.9M220.4 78.7h.9M206.1 87.7h.9M211.2 81.0h.9M222.4 87.3h.9M223.3 83.6h.9M213.8 83.5h.9M218.4 76.1h.9M210.6 88.1h.9M209.9 84.7h.9M217.0 87.3h.9M212.3 80.0h.9M235.7 81.9h.9M229.5 77.3h.9M216.9 84.1h.9M223.8 80.6h.9M209.7 81.7h.9M212.0 86.1h.9M209.9 83.9h.9M227.7 91.3h.9M201.4 80.8h.9M213.1 90.7h.9M218.9 91.3h.9M209.3 83.6h.9M224.1 87.5h.9M201.4 83.8h.9M217.5 87.8h.9M217.3 91.3h.9M219.2 85.4h.9M213.6 79.9h.9M222.9 88.3h.9M223.4 83.4h.9M208.2 83.4h.9M213.6 85.0h.9M223.8 81.0h.9M212.2 88.0h.9M220.2 81.3h.9M207.9 81.6h.9M216.6 86.1h.9M215.6 82.3h.9M214.6 84.7h.9M220.7 85.4h.9M209.7 79.9h.9M227.7 84.6h.9M214.7 84.9h.9M224.9 83.6h.9M217.5 84.0h.9M220.6 80.6h.9M217.7 89.5h.9M225.4 87.7h.9M218.4 91.9h.9M221.6 91.1h.9M206.7 80.2h.9M222.4 83.8h.9M212.7 80.9h.9M227.7 79.8h.9M216.9 78.9h.9M235.2 82.9h.9M209.4 77.2h.9M218.8 80.3h.9M204.7 89.9h.9M210.4 80.4h.9M217.4 84.2h.9M224.9 85.4h.9M228.6 90.0h.9M230.1 89.9h.9M216.7 87.4h.9M216.3 78.2h.9M206.9 88.2h.9M197.6 81.4h.9M206.0 84.7h.9M208.0 86.1h.9M214.6 83.0h.9M209.5 75.3h.9M216.7 79.4h.9M213.8 86.6h.9M224.3 88.1h.9M227.7 78.8h.9M221.4 91.8h.9M219.2 80.2h.9M219.2 82.8h.9M211.1 89.6h.9M214.7 80.1h.9M209.5 87.9h.9M217.5 90.1h.9M213.9 80.9h.9M211.1 80.5h.9M236.4 85.9h.9M213.6 90.5h.9M221.3 84.2h.9M221.0 86.2h.9M213.7 84.9h.9M214.7 90.3h.9M219.1 88.4h.9M223.2 82.2h.9M217.1 91.0h.9M223.4 88.5h.9M213.9 83.4h.9M209.4 83.8h.9M215.6 78.8h.9M225.2 81.7h.9M218.1 87.6h.9M211.8 77.1h.9M223.7 86.8h.9M214.2 89.9h.9M223.1 80.9h.9M215.5 77.3h.9M214.1 91.2h.9M209.6 88.6h.9M204.4 83.7h.9M219.7 88.3h.9M229.6 74.4h.9M235.4 87.6h.9M216.6 86.1h.9M216.4 82.3h.9M216.0 84.5h.9M221.4 88.0h.9M223.8 87.6h.9M208.6 91.1h.9M195.3 85.5h.9M218.7 82.7h.9" stroke="#000" stroke-opacity="0.4" stroke-width="0.9" fill="none"/>
<path d="M239.6 77.7h.9M156.6 81.1h.9M199.9 88.6h.9M191.5 87.9h.9M169.3 80.5h.9M192.0 76.2h.9M193.6 81.7h.9M207.1 78.1h.9M174.1 80.7h.9M178.5 78.2h.9M181.4 76.2h.9M203.1 87.9h.9M188.1 82.9h.9M164.2 78.4h.9M182.5 78.8h.9M156.5 85.0h.9M187.9 81.7h.9M166.3 83.7h.9M169.6 81.5h.9M193.5 88.2h.9M209.0 80.5h.9M221.3 77.3h.9M183.8 91.6h.9M178.7 81.9h.9M155.5 83.2h.9M176.9 79.6h.9M221.0 79.5h.9M234.4 88.9h.9M205.9 80.6h.9M174.7 72.4h.9M195.9 82.5h.9M199.0 80.1h.9M201.7 75.3h.9M217.6 65.8h.9M223.3 82.0h.9M184.1 75.1h.9M161.3 88.1h.9M168.5 83.8h.9M212.6 76.4h.9M175.4 77.4h.9M150.8 80.1h.9M218.3 84.3h.9M206.7 83.2h.9M177.0 84.5h.9M237.1 86.2h.9M204.7 72.5h.9M166.8 88.7h.9M221.4 81.7h.9M182.3 81.4h.9M209.9 84.1h.9M229.1 90.9h.9M180.0 80.5h.9M182.0 78.9h.9M177.0 83.6h.9M212.5 74.8h.9M150.5 79.5h.9M180.2 86.6h.9M174.1 82.8h.9M189.8 90.8h.9M196.4 84.2h.9M173.7 85.0h.9M199.3 82.0h.9M187.8 73.3h.9M174.0 90.9h.9M226.8 83.6h.9M177.2 89.8h.9M219.6 77.8h.9M182.3 77.0h.9M195.8 81.7h.9M195.0 75.2h.9M217.5 86.6h.9M163.4 88.0h.9M151.7 82.1h.9M205.6 80.9h.9M185.2 87.8h.9M229.4 91.6h.9M200.7 82.5h.9M238.9 71.5h.9M211.8 83.8h.9M207.4 85.8h.9M183.1 84.0h.9M187.3 90.8h.9M181.2 80.8h.9M205.9 87.8h.9M200.0 85.7h.9M228.0 90.5h.9M194.0 82.8h.9M206.1 73.1h.9M174.2 79.9h.9M192.9 81.8h.9M188.2 82.1h.9M221.5 88.8h.9M213.2 91.1h.9M178.5 80.2h.9M168.9 84.6h.9M215.3 77.9h.9M173.9 76.2h.9M242.1 88.7h.9M194.2 76.9h.9M160.5 80.2h.9M189.2 76.6h.9M182.2 91.1h.9M188.6 84.6h.9M184.3 80.0h.9M151.0 83.6h.9M160.7 80.8h.9M212.7 79.1h.9M197.0 75.1h.9M203.8 87.2h.9M177.8 89.2h.9M164.6 84.3h.9M233.6 83.9h.9M158.0 90.7h.9M202.7 82.4h.9M196.1 79.0h.9M165.6 86.8h.9M237.1 75.7h.9M189.8 80.3h.9M185.8 84.5h.9M195.8 89.2h.9M202.1 90.1h.9M215.5 90.4h.9M170.1 86.4h.9M178.2 79.1h.9M240.9 85.7h.9M189.5 71.7h.9M182.0 88.5h.9M182.8 80.8h.9M227.9 82.2h.9M179.3 83.4h.9M181.9 90.2h.9M203.5 83.6h.9M178.6 82.7h.9M233.7 82.2h.9M205.8 74.8h.9M196.9 88.0h.9M222.4 85.9h.9M203.8 85.9h.9M193.7 79.2h.9M204.2 83.4h.9M205.4 88.5h.9M192.4 81.4h.9M196.5 76.7h.9M195.6 78.8h.9M200.3 84.7h.9M182.4 77.0h.9M189.6 80.0h.9M184.5 88.1h.9M213.8 76.5h.9M218.5 85.6h.9M179.7 75.1h.9M190.7 85.7h.9M160.5 76.9h.9M241.4 84.7h.9M209.2 80.6h.9M224.2 80.1h.9M180.8 84.1h.9M160.3 82.2h.9M173.7 89.2h.9M192.4 89.1h.9M186.9 71.5h.9M211.8 89.1h.9M186.3 73.5h.9M175.1 86.4h.9M225.2 82.0h.9M173.2 79.5h.9M215.6 89.1h.9M163.6 75.4h.9M155.0 80.1h.9M192.5 86.4h.9M175.5 74.7h.9M177.3 80.0h.9M228.9 89.5h.9M227.1 84.7h.9M177.3 83.5h.9M151.7 88.3h.9M195.5 82.2h.9M211.8 81.9h.9M192.0 87.3h.9M193.5 90.1h.9M170.5 70.4h.9M151.3 87.9h.9M217.2 84.0h.9M202.8 84.5h.9M193.0 81.2h.9M177.5 91.0h.9M181.1 83.8h.9M220.3 89.8h.9M177.8 85.5h.9M161.2 84.8h.9M196.8 84.0h.9M192.7 86.1h.9M190.4 81.1h.9M162.5 82.6h.9M231.4 82.7h.9M170.9 81.2h.9M156.4 86.8h.9M161.9 89.3h.9M212.7 87.4h.9M216.2 83.5h.9M205.5 74.9h.9M155.6 90.4h.9M206.2 84.4h.9M199.8 89.0h.9M187.6 82.8h.9M196.8 82.2h.9M216.4 81.6h.9M192.6 82.7h.9M195.8 75.5h.9M190.6 80.6h.9M217.5 87.7h.9M154.5 78.3h.9M203.6 91.0h.9M209.0 83.1h.9M218.2 70.2h.9M173.9 78.3h.9M160.6 87.3h.9M195.8 85.7h.9M184.8 87.6h.9M209.4 80.6h.9M213.6 78.6h.9M235.8 76.4h.9M180.6 77.6h.9M189.4 91.7h.9M226.4 86.3h.9M172.5 89.3h.9M214.3 83.8h.9M152.4 82.7h.9M222.5 80.0h.9M176.0 76.9h.9M209.1 88.9h.9M204.3 85.4h.9M215.2 83.3h.9M207.8 88.8h.9M223.6 87.0h.9M190.7 88.2h.9M232.2 84.8h.9M159.9 80.6h.9M184.3 84.4h.9M167.7 89.9h.9M206.5 74.1h.9M155.1 84.4h.9M195.8 81.5h.9M188.7 85.0h.9M157.3 84.4h.9M160.8 87.9h.9M225.0 90.2h.9M171.2 83.6h.9M193.9 82.8h.9M199.3 90.4h.9M203.3 83.9h.9M208.5 84.5h.9M221.6 89.4h.9M245.4 73.4h.9M191.1 82.2h.9M168.5 84.4h.9M203.1 87.1h.9M184.6 76.2h.9M203.7 87.6h.9M246.5 89.5h.9M188.8 77.2h.9M193.8 88.4h.9M202.2 91.9h.9M160.0 79.9h.9M193.2 76.7h.9M196.5 83.4h.9M172.7 84.3h.9M187.5 77.6h.9M210.1 76.4h.9M223.7 82.0h.9M196.3 78.9h.9M246.4 89.3h.9M225.7 80.4h.9M224.3 81.4h.9M187.0 75.9h.9M190.0 86.4h.9M186.7 77.4h.9M213.4 89.4h.9M185.9 88.7h.9M215.7 78.2h.9M187.4 72.9h.9M159.7 86.5h.9M164.0 86.3h.9M198.4 71.7h.9M188.8 84.7h.9M168.8 74.5h.9M183.2 78.8h.9M191.4 72.5h.9M167.5 85.9h.9M163.3 89.1h.9M165.0 83.1h.9M224.7 87.1h.9M179.3 74.9h.9M202.6 84.3h.9M223.4 84.9h.9M168.1 83.4h.9M185.7 83.9h.9M196.0 82.5h.9M169.4 78.1h.9M162.1 71.9h.9M226.7 91.5h.9M206.8 68.9h.9M188.9 78.0h.9M220.6 86.7h.9M167.1 90.9h.9M185.6 78.1h.9M162.8 72.2h.9M164.7 89.4h.9M185.1 88.9h.9M156.2 89.5h.9M182.4 84.7h.9M160.6 89.1h.9M161.5 80.5h.9M208.7 84.8h.9M166.9 91.4h.9M202.8 90.1h.9M183.3 91.7h.9M175.2 77.3h.9M188.0 75.6h.9M223.4 88.4h.9M212.1 81.8h.9M199.9 80.5h.9M186.3 83.5h.9M201.8 78.2h.9M156.5 86.0h.9M173.9 87.1h.9M174.0 76.1h.9M208.9 85.6h.9M208.8 82.0h.9M178.1 91.6h.9M202.6 83.7h.9M190.7 87.6h.9M166.5 85.7h.9M161.3 72.9h.9M193.8 84.6h.9M206.4 87.3h.9M207.9 88.8h.9M158.5 91.3h.9M152.7 88.1h.9M213.9 90.1h.9M231.3 75.7h.9M198.7 86.8h.9M223.3 78.6h.9M188.8 81.8h.9M183.6 83.1h.9M183.9 73.4h.9M187.1 84.4h.9M177.3 62.6h.9M168.6 80.1h.9M214.2 82.9h.9M160.8 86.9h.9M219.3 83.3h.9M205.4 79.2h.9M234.2 82.2h.9M173.3 73.2h.9M248.6 76.8h.9M160.8 82.8h.9M222.2 84.3h.9M187.5 84.1h.9M212.0 83.8h.9M192.5 83.6h.9M168.6 76.1h.9M175.8 84.2h.9M211.2 75.1h.9M152.4 85.1h.9M198.9 77.4h.9M156.1 85.1h.9M184.0 74.3h.9M158.3 90.3h.9M233.2 80.2h.9M168.9 87.8h.9M153.1 87.3h.9M222.4 85.6h.9M197.2 83.1h.9M216.3 79.1h.9M232.9 83.9h.9M178.9 74.2h.9M175.7 85.4h.9M223.1 74.3h.9M184.5 79.9h.9M154.3 84.0h.9M166.7 89.2h.9M202.7 82.0h.9M191.7 78.2h.9M158.5 79.6h.9M186.5 78.9h.9M176.2 78.8h.9M194.6 77.1h.9M187.5 84.6h.9M215.1 79.5h.9M156.0 75.0h.9M209.4 80.2h.9M215.8 83.5h.9M180.3 72.8h.9M169.0 88.8h.9M170.9 88.1h.9M197.0 76.6h.9M173.2 80.1h.9M193.2 71.8h.9M163.7 88.8h.9M192.1 88.5h.9M212.0 77.1h.9M150.1 86.8h.9M189.0 84.5h.9M165.1 90.1h.9M202.0 90.9h.9M178.1 88.2h.9M186.3 78.3h.9M185.8 74.0h.9M183.0 85.1h.9M207.5 77.7h.9M150.7 79.6h.9M166.7 79.9h.9M237.7 77.0h.9M184.8 83.5h.9M167.4 79.7h.9M180.1 88.2h.9M200.9 84.7h.9M184.2 91.3h.9M204.0 82.6h.9M181.4 89.6h.9M171.3 79.7h.9M180.3 81.0h.9M223.5 86.1h.9M185.5 80.8h.9M227.7 86.7h.9M246.5 89.5h.9M182.0 80.7h.9M180.0 85.1h.9M210.2 86.9h.9M232.1 74.8h.9M188.8 75.5h.9M159.1 80.4h.9M169.7 78.2h.9M179.0 89.8h.9M157.0 70.0h.9M171.3 89.3h.9M172.3 86.4h.9M200.1 90.3h.9M180.2 91.7h.9M190.0 81.1h.9M170.0 84.3h.9M162.5 76.8h.9M191.6 88.3h.9M179.8 89.1h.9M232.5 76.4h.9M195.2 78.2h.9M169.9 85.1h.9M211.6 87.3h.9M177.7 90.6h.9M228.6 87.0h.9M179.8 74.3h.9M186.3 88.5h.9M180.7 82.9h.9M229.2 80.3h.9M161.5 84.2h.9M219.5 87.6h.9M190.0 81.0h.9M222.6 89.3h.9M205.2 80.2h.9M151.7 82.2h.9M173.6 73.4h.9M187.4 91.1h.9M152.3 81.9h.9M239.0 85.1h.9M172.4 85.1h.9M209.9 78.0h.9M185.2 74.2h.9M211.7 85.9h.9M208.5 91.3h.9M189.3 85.4h.9M199.4 86.8h.9M158.1 82.3h.9M183.7 84.2h.9M166.9 83.2h.9M196.0 85.1h.9M204.5 88.9h.9M203.6 89.8h.9M205.6 80.3h.9M223.0 88.4h.9M189.3 77.1h.9M200.2 81.9h.9M176.7 71.1h.9M231.5 77.0h.9M157.1 86.8h.9M203.9 79.2h.9M187.8 85.5h.9M192.4 87.2h.9M209.7 81.8h.9M177.2 78.0h.9M209.1 87.5h.9M186.9 85.9h.9M196.9 82.6h.9M196.9 76.2h.9M212.7 81.5h.9M171.7 75.0h.9M184.6 82.9h.9M170.0 74.6h.9M192.3 86.5h.9M220.0 87.1h.9" stroke="#000" stroke-opacity="0.3" stroke-width="0.9" fill="none"/>
<path d="M198.2 58.6h.9M163.3 60.3h.9M185.2 50.0h.9M189.5 57.7h.9M173.6 49.3h.9M191.5 51.9h.9M197.7 54.8h.9M181.6 48.9h.9M190.8 47.4h.9M175.5 49.0h.9M199.7 60.5h.9M184.2 52.5h.9M191.6 58.7h.9M179.5 62.4h.9M184.3 58.3h.9M167.0 53.8h.9M180.4 61.6h.9M184.3 49.1h.9M201.7 51.4h.9M186.0 49.2h.9M191.4 54.7h.9M183.7 52.5h.9M181.4 51.3h.9M174.7 58.6h.9M193.2 48.7h.9M176.6 55.5h.9M204.2 53.2h.9M183.5 53.0h.9M188.0 53.3h.9M194.7 57.7h.9M190.4 60.0h.9M184.1 51.9h.9M209.9 46.6h.9M173.5 45.0h.9M188.9 49.9h.9M194.5 46.0h.9M184.9 52.5h.9M177.3 58.3h.9M182.8 55.7h.9M181.8 54.6h.9M182.4 54.3h.9M185.2 51.4h.9M189.5 53.3h.9M178.2 50.0h.9M189.5 59.1h.9M175.5 52.4h.9M189.6 58.0h.9M191.7 49.5h.9M186.3 57.4h.9M187.9 53.1h.9M176.5 54.6h.9M185.5 54.1h.9M198.1 58.5h.9M179.6 54.9h.9M183.5 54.4h.9M199.1 57.5h.9M186.3 51.5h.9M184.7 55.4h.9M182.0 58.2h.9M186.2 49.5h.9M202.4 42.9h.9M183.8 53.5h.9M193.9 58.2h.9M197.7 59.9h.9M188.5 54.4h.9M194.2 53.9h.9M175.9 52.3h.9M191.3 56.3h.9M177.1 58.6h.9M188.5 48.3h.9M189.8 57.8h.9M190.3 52.8h.9M179.6 58.3h.9M187.8 54.0h.9M182.8 50.1h.9M170.9 52.7h.9M194.9 56.9h.9M180.5 59.8h.9M184.2 50.2h.9M193.9 59.3h.9M182.9 49.3h.9M185.5 44.7h.9M186.4 59.8h.9M188.2 51.2h.9M191.7 52.1h.9M196.2 52.6h.9M202.4 52.7h.9M187.5 50.4h.9M175.7 55.3h.9M188.8 50.3h.9M190.5 52.4h.9M181.6 53.7h.9M189.2 56.8h.9M195.9 55.5h.9M180.2 51.4h.9M189.0 49.4h.9M184.6 52.5h.9M185.2 54.7h.9M194.4 60.2h.9M193.1 57.8h.9M177.4 57.9h.9M196.4 48.8h.9M206.3 51.8h.9M166.9 60.7h.9M186.5 50.9h.9M181.4 58.1h.9M188.1 52.6h.9M195.2 50.4h.9M179.2 51.9h.9M180.0 56.6h.9M184.1 50.0h.9M182.3 46.4h.9M187.3 54.4h.9M190.9 53.1h.9M189.2 50.4h.9M186.2 54.6h.9M176.2 56.2h.9M187.1 54.2h.9M182.2 61.6h.9M186.0 51.1h.9M179.2 56.2h.9M184.3 51.0h.9M180.2 57.6h.9M186.7 58.0h.9M185.9 49.5h.9M193.0 55.2h.9M180.7 52.8h.9M178.2 57.2h.9M182.7 55.8h.9M188.1 53.0h.9" stroke="#000" stroke-opacity="0.38" stroke-width="0.9" fill="none"/>
</g>
<text x="188.0" y="28.5" font-size="4.6" font-weight="normal" text-anchor="start" fill="#444" >Q1-1</text>
<text x="246.0" y="28.5" font-size="4.6" font-weight="normal" text-anchor="start" fill="#444" >O</text>
<text x="246.0" y="84.5" font-size="4.6" font-weight="normal" text-anchor="start" fill="#444" >O</text>
<text x="171.0" y="40.0" font-size="6.8" font-weight="bold" text-anchor="start" fill="#000"  stroke="#000" stroke-width="0.3">1.3%</text>
<text x="221.0" y="40.0" font-size="6.8" font-weight="bold" text-anchor="start" fill="#000"  stroke="#000" stroke-width="0.3">0.1%</text>
<text x="199.0" y="108.5" font-size="6.9" font-weight="bold" text-anchor="middle" fill="#000"  stroke="#000" stroke-width="0.3">CD38 - PE</text>
<text x="68.5" y="127.4" font-size="6.9" font-weight="bold" text-anchor="middle" fill="#000"  stroke="#000" stroke-width="0.3">PHI CD3+CD4+CD8- + CMV</text>
<path d="M20.9 202.3h3M20.9 200.5h3M20.9 199.1h3M20.9 197.9h3M20.9 196.8h3M20.9 195.8h3M20.9 189.5h3M20.9 186.2h3M20.9 183.9h3M20.9 182.1h3M20.9 180.7h3M20.9 179.5h3M20.9 178.4h3M20.9 177.4h3M20.9 171.1h3M20.9 167.8h3M20.9 165.5h3M20.9 163.7h3M20.9 162.3h3M20.9 161.1h3M20.9 160.0h3M20.9 159.0h3M20.9 152.7h3M20.9 149.4h3M20.9 147.1h3M20.9 145.3h3M20.9 143.9h3M20.9 142.7h3M20.9 141.6h3M20.9 140.6h3M20.9 134.3h3M19.4 195.0h4.5M19.4 176.6h4.5M19.4 158.2h4.5M19.4 139.8h4.5" stroke="#555" stroke-width="0.8" fill="none"/>
<text x="18.2" y="195.2" font-size="3.8" font-weight="normal" text-anchor="end" fill="#333" >10<tspan font-size="2.8" dy="-1.7">1</tspan></text>
<text x="18.2" y="176.8" font-size="3.8" font-weight="normal" text-anchor="end" fill="#333" >10<tspan font-size="2.8" dy="-1.7">2</tspan></text>
<text x="18.2" y="158.4" font-size="3.8" font-weight="normal" text-anchor="end" fill="#333" >10<tspan font-size="2.8" dy="-1.7">3</tspan></text>
<text x="18.2" y="140.0" font-size="3.8" font-weight="normal" text-anchor="end" fill="#333" >10<tspan font-size="2.8" dy="-1.7">4</tspan></text>
<line x1="22.4" y1="204.6" x2="124" y2="204.6" stroke="#222" stroke-width="0.9"/>
<path d="M22.8 204.6v2M25.9 204.6v2M28.3 204.6v2M30.3 204.6v2M31.9 204.6v2M33.4 204.6v2M34.7 204.6v2M43.3 204.6v2M47.7 204.6v2M50.8 204.6v2M53.2 204.6v2M55.2 204.6v2M56.9 204.6v2M58.3 204.6v2M59.6 204.6v2M67.8 204.6v2M72.2 204.6v2M75.3 204.6v2M77.7 204.6v2M79.7 204.6v2M81.4 204.6v2M82.8 204.6v2M84.1 204.6v2M93.3 204.6v2M97.7 204.6v2M100.8 204.6v2M103.2 204.6v2M105.2 204.6v2M106.9 204.6v2M108.3 204.6v2M109.6 204.6v2M118.1 204.6v2M35.8 204.6v3.2M60.3 204.6v3.2M85.8 204.6v3.2M110.6 204.6v3.2" stroke="#555" stroke-width="0.7" fill="none"/>
<text x="36.6" y="212.9" font-size="4.2" font-weight="normal" text-anchor="middle" fill="#333" >10<tspan font-size="3" dy="-1.9">2</tspan></text>
<text x="61.1" y="212.9" font-size="4.2" font-weight="normal" text-anchor="middle" fill="#333" >10<tspan font-size="3" dy="-1.9">3</tspan></text>
<text x="86.6" y="212.9" font-size="4.2" font-weight="normal" text-anchor="middle" fill="#333" >10<tspan font-size="3" dy="-1.9">4</tspan></text>
<text x="111.4" y="212.9" font-size="4.2" font-weight="normal" text-anchor="middle" fill="#333" >10<tspan font-size="3" dy="-1.9">5</tspan></text>
<line x1="59.5" y1="130.8" x2="59.5" y2="204.6" stroke="#999" stroke-width="1.2"/>
<line x1="22.4" y1="176.9" x2="122" y2="176.9" stroke="#999" stroke-width="1.1"/>
<clipPath id="cp1532"><rect x="23.9" y="130.8" width="98.1" height="73.29999999999998"/></clipPath><g clip-path="url(#cp1532)">
<ellipse cx="38" cy="195.5" rx="13" ry="8" fill="#000" fill-opacity="0.85" filter="url(#b2)"/>
<path d="M42.5 193.4h.9M23.8 192.3h.9M23.8 199.9h.9M45.8 191.2h.9M45.4 196.6h.9M49.7 188.9h.9M38.3 188.5h.9M43.9 200.0h.9M28.6 181.8h.9M51.2 200.9h.9M29.2 203.8h.9M35.7 199.0h.9M31.8 181.0h.9M34.2 196.2h.9M41.3 190.3h.9M35.2 187.6h.9M35.2 195.6h.9M43.2 187.5h.9M38.8 195.0h.9M26.0 199.7h.9M60.9 199.4h.9M47.3 201.9h.9M36.4 201.3h.9M28.3 196.2h.9M46.5 203.5h.9M34.5 193.1h.9M43.6 194.5h.9M39.6 200.2h.9M28.8 200.7h.9M42.5 193.3h.9M37.5 201.1h.9M40.3 187.7h.9M48.2 197.6h.9M43.2 188.7h.9M24.8 200.9h.9M54.8 197.4h.9M35.7 192.1h.9M36.9 203.0h.9M29.4 201.8h.9M29.5 198.8h.9M54.4 190.4h.9M48.8 195.0h.9M26.8 196.3h.9M45.7 190.4h.9M34.8 191.3h.9M28.8 193.6h.9M47.8 191.8h.9M52.8 192.5h.9M29.8 201.9h.9M54.7 190.8h.9M45.0 187.5h.9M33.2 192.6h.9M46.4 186.9h.9M31.9 190.6h.9M39.2 187.1h.9M40.5 185.3h.9M47.9 186.5h.9M52.9 189.6h.9M25.0 198.1h.9M62.1 198.9h.9M45.8 187.4h.9M50.0 195.9h.9M28.0 202.0h.9M47.9 191.0h.9M39.5 195.7h.9M44.9 188.7h.9M35.2 195.6h.9M38.3 195.1h.9M41.0 193.8h.9M32.1 201.6h.9M30.4 193.0h.9M27.6 187.6h.9M43.3 194.7h.9M36.4 197.9h.9M36.0 199.4h.9M59.4 197.2h.9M46.4 184.3h.9M53.8 196.3h.9M48.1 187.6h.9M28.0 190.8h.9M44.5 187.8h.9M29.6 201.1h.9M30.4 195.7h.9M27.4 184.1h.9M37.0 194.2h.9M47.7 200.7h.9M32.0 187.7h.9M36.9 196.1h.9M35.9 191.2h.9M26.2 190.3h.9M37.0 191.9h.9M57.7 193.2h.9M43.3 192.0h.9M35.8 188.8h.9M32.3 185.4h.9M25.5 197.8h.9M36.5 191.4h.9M46.6 191.4h.9M43.1 192.6h.9M49.4 201.1h.9M38.8 202.0h.9M36.5 185.1h.9M40.5 196.5h.9M33.7 193.7h.9M34.8 187.0h.9M58.2 190.1h.9M25.4 184.9h.9M28.1 194.7h.9M55.3 198.8h.9M29.4 187.1h.9M24.8 194.5h.9M48.2 191.9h.9M39.8 181.2h.9M50.8 194.4h.9M45.8 201.3h.9M26.1 195.4h.9M40.1 190.2h.9M46.1 194.2h.9M36.2 201.6h.9M29.1 195.9h.9M50.7 181.2h.9M44.3 193.3h.9M50.8 196.1h.9M37.1 186.8h.9M72.5 190.3h.9M34.2 190.4h.9M34.4 196.4h.9M34.9 198.8h.9M34.5 192.5h.9M30.1 197.0h.9M42.7 188.7h.9M34.2 201.8h.9M48.2 194.3h.9M29.4 202.9h.9M32.8 197.3h.9M31.0 199.4h.9M58.5 196.0h.9M24.4 193.8h.9M36.7 192.7h.9M51.4 202.3h.9M61.4 198.3h.9M45.8 189.8h.9M30.9 200.8h.9M39.6 187.8h.9M31.1 175.4h.9M37.9 187.2h.9M37.3 187.4h.9M27.1 191.7h.9M70.5 187.4h.9M24.0 191.6h.9M50.4 200.1h.9M46.1 192.9h.9M39.4 190.1h.9M35.8 189.8h.9M60.5 197.5h.9M29.1 194.3h.9M32.6 202.7h.9M37.6 190.9h.9M45.9 197.0h.9M29.9 190.1h.9M39.6 184.6h.9M27.2 201.4h.9M48.0 202.1h.9M32.7 191.2h.9M34.7 191.9h.9M52.9 193.6h.9M53.7 190.5h.9M29.2 190.8h.9M30.9 184.7h.9M34.4 190.9h.9M63.7 191.9h.9M49.0 194.8h.9M41.2 199.5h.9M31.3 195.2h.9M54.4 196.0h.9M37.2 202.4h.9M38.5 196.1h.9M45.5 190.3h.9M27.7 200.9h.9M45.8 200.2h.9M53.9 186.4h.9M49.0 181.9h.9M38.5 197.1h.9M49.9 201.9h.9M27.0 193.2h.9M36.0 190.5h.9M28.3 190.8h.9M51.3 203.6h.9M38.9 188.1h.9M30.2 196.3h.9M49.9 202.7h.9M27.4 201.1h.9M31.6 198.8h.9M31.7 196.5h.9M42.9 192.3h.9M38.9 198.8h.9M64.8 197.9h.9M31.3 183.3h.9M26.7 198.3h.9M45.8 197.8h.9M44.8 191.1h.9M56.5 187.8h.9M43.8 193.3h.9M34.6 199.5h.9M52.7 196.0h.9M30.1 193.6h.9M46.7 190.1h.9M48.7 201.2h.9M36.4 197.9h.9M34.1 186.9h.9M36.8 199.9h.9M33.6 180.7h.9M28.5 201.9h.9M40.5 202.1h.9M29.0 192.3h.9M26.1 190.0h.9M43.8 195.9h.9M32.2 196.9h.9M56.2 203.8h.9M52.5 191.3h.9M45.1 187.7h.9M31.5 196.5h.9M45.0 181.8h.9M36.4 195.9h.9M24.6 198.6h.9M39.3 190.3h.9M57.0 196.6h.9M32.1 193.6h.9M44.4 196.3h.9M39.1 196.9h.9M27.1 193.6h.9M28.4 199.0h.9M45.3 191.4h.9M32.5 187.1h.9M37.6 200.5h.9M34.0 189.2h.9M49.9 200.9h.9M30.1 202.0h.9M37.6 194.7h.9M59.3 198.4h.9M41.5 192.9h.9M40.1 201.8h.9M43.1 190.2h.9M43.0 194.2h.9M41.4 193.8h.9M33.3 180.8h.9M45.9 192.0h.9M41.6 180.6h.9M40.7 201.3h.9M40.0 186.6h.9M49.1 191.6h.9M31.1 196.3h.9M43.1 187.0h.9M37.8 195.3h.9M54.6 203.2h.9M67.7 190.7h.9M27.3 197.3h.9M56.7 188.5h.9M33.7 190.2h.9M44.0 197.6h.9M37.3 199.2h.9M28.6 192.6h.9M37.4 195.4h.9M53.2 195.5h.9M53.1 196.5h.9M51.3 196.2h.9M27.0 189.5h.9M59.7 192.9h.9M67.1 187.8h.9M27.9 201.0h.9M42.2 199.1h.9M23.7 197.5h.9M48.8 194.7h.9M49.9 195.2h.9M41.9 193.0h.9M43.7 190.1h.9M53.2 193.6h.9M28.8 203.0h.9M35.8 185.3h.9M32.6 189.3h.9M35.6 189.1h.9M38.6 198.0h.9M31.1 193.7h.9M36.0 200.4h.9M29.4 199.9h.9M52.5 193.7h.9M26.4 193.0h.9M23.8 193.9h.9M33.4 198.3h.9M39.2 197.7h.9M37.3 196.8h.9M24.5 199.3h.9M53.1 202.2h.9M35.4 192.0h.9M29.0 193.5h.9M37.8 188.7h.9M38.5 196.7h.9M44.0 194.7h.9M49.7 197.1h.9M44.6 177.8h.9M35.9 197.5h.9M38.3 195.6h.9M42.3 193.2h.9M27.7 191.6h.9M41.7 196.0h.9M51.3 197.7h.9M38.3 194.6h.9M35.1 201.5h.9M32.4 188.8h.9M29.2 202.8h.9M31.1 188.6h.9M33.2 202.1h.9M59.7 193.1h.9M28.4 193.2h.9M43.4 201.1h.9M26.6 198.1h.9M37.5 202.4h.9M33.0 193.7h.9M27.8 186.4h.9M41.1 199.6h.9M51.2 196.7h.9M32.4 189.0h.9M24.1 190.3h.9M41.8 195.6h.9M34.4 188.2h.9M37.6 198.5h.9M25.6 186.2h.9M34.0 196.7h.9M39.6 188.5h.9M47.1 190.8h.9M46.0 195.6h.9M52.5 188.5h.9M46.4 197.8h.9M27.1 199.6h.9M64.8 197.3h.9M28.8 194.0h.9M53.3 196.7h.9M55.4 190.8h.9M53.4 184.7h.9M35.9 193.1h.9M32.1 203.0h.9M30.7 197.3h.9M59.9 200.4h.9M33.0 190.2h.9M48.4 202.2h.9M47.1 180.0h.9M27.4 200.2h.9M33.2 200.4h.9M68.4 190.0h.9M64.2 194.5h.9M48.7 191.2h.9M56.7 189.3h.9M35.6 201.0h.9M35.4 191.4h.9M37.7 199.3h.9M60.2 194.8h.9M33.0 188.5h.9M31.8 194.6h.9M38.6 201.0h.9M27.0 202.5h.9M38.5 199.8h.9M52.8 187.0h.9M57.0 190.3h.9M42.7 202.1h.9M48.9 184.8h.9M39.9 202.4h.9M36.5 194.5h.9M31.5 188.9h.9M24.7 191.6h.9M35.1 197.3h.9M37.0 183.8h.9M46.6 186.2h.9M49.2 179.2h.9M65.7 198.8h.9M37.6 192.0h.9M33.6 193.5h.9M36.8 189.1h.9M31.2 198.6h.9M44.3 186.3h.9M33.5 188.2h.9M24.9 190.5h.9M35.7 200.4h.9M44.7 183.6h.9M55.8 192.9h.9M26.0 194.8h.9M33.2 186.0h.9M56.7 191.2h.9M30.8 198.5h.9M58.1 198.2h.9M27.2 197.9h.9M51.3 197.5h.9M45.8 191.9h.9M37.2 184.0h.9M29.4 187.6h.9M26.8 194.4h.9M52.0 189.9h.9M28.6 202.9h.9M42.5 198.4h.9M48.0 190.2h.9M40.7 190.7h.9M29.3 195.9h.9M43.2 186.7h.9M28.7 199.0h.9M40.0 199.3h.9M34.2 189.8h.9M47.4 198.9h.9M28.8 199.4h.9M56.9 193.2h.9M26.3 196.7h.9M39.1 198.7h.9M48.7 199.6h.9M45.6 202.8h.9M28.1 203.0h.9M40.5 188.5h.9M34.4 196.8h.9M40.3 191.7h.9M64.3 192.8h.9M28.1 201.0h.9M33.0 189.9h.9M25.2 202.7h.9M25.2 195.7h.9M32.5 193.8h.9M28.1 196.0h.9M45.3 201.9h.9M33.7 187.4h.9M38.3 195.8h.9M29.0 199.4h.9M33.1 199.0h.9M44.2 182.5h.9M35.2 203.2h.9M31.8 195.9h.9M36.5 187.0h.9M64.3 194.2h.9M45.7 192.1h.9M54.9 202.5h.9M52.2 201.2h.9M42.8 195.9h.9M47.7 189.2h.9M39.8 190.5h.9M34.8 188.8h.9M27.9 196.3h.9M39.5 200.5h.9M36.9 199.2h.9M46.2 190.5h.9M34.9 191.6h.9M64.6 190.6h.9M43.7 190.1h.9M46.3 186.8h.9M49.5 196.2h.9M33.2 187.3h.9M58.1 191.3h.9M55.4 179.4h.9M59.5 195.2h.9M50.0 199.0h.9M33.7 195.9h.9M24.2 186.3h.9M39.5 199.8h.9M39.9 187.1h.9M48.2 195.6h.9M47.0 193.2h.9M34.8 201.9h.9M54.5 187.3h.9M24.7 201.4h.9M42.3 195.4h.9M26.2 201.6h.9M40.3 196.5h.9M42.7 191.7h.9M42.8 195.9h.9M46.7 197.5h.9M34.8 202.6h.9M30.2 202.4h.9M51.0 200.8h.9M65.2 195.0h.9M41.9 203.0h.9M42.9 201.5h.9M42.2 182.7h.9M51.1 193.8h.9M27.4 193.1h.9M34.6 202.5h.9M42.0 194.6h.9M37.8 189.3h.9M30.3 192.1h.9M35.3 187.5h.9M33.2 201.6h.9M43.5 195.1h.9M42.2 193.5h.9M23.7 200.8h.9M65.0 198.4h.9M23.4 198.5h.9M33.9 193.3h.9M42.8 184.7h.9M35.3 191.9h.9M26.0 199.2h.9M57.8 197.8h.9M50.4 200.0h.9M37.2 198.9h.9M54.0 192.3h.9M36.2 186.2h.9M48.8 197.5h.9M41.1 203.6h.9M39.0 200.1h.9M54.6 189.8h.9M27.5 197.7h.9M37.3 191.3h.9M36.5 190.4h.9M39.6 192.6h.9M58.5 188.4h.9M45.0 195.6h.9M57.1 188.8h.9M30.1 192.6h.9M33.3 188.8h.9M36.2 190.2h.9M31.6 198.6h.9M45.6 197.8h.9M39.6 195.0h.9M33.9 192.2h.9M39.7 198.4h.9M49.2 193.7h.9M52.7 189.1h.9M61.0 201.3h.9M23.6 194.4h.9M43.7 201.9h.9M38.9 186.7h.9M52.7 194.0h.9M43.3 193.0h.9M36.6 186.2h.9M46.0 191.1h.9M37.6 201.3h.9M47.9 187.3h.9M35.9 195.1h.9M39.1 188.3h.9M38.9 201.4h.9M47.1 178.8h.9M34.7 191.6h.9M49.0 195.0h.9M42.3 198.2h.9M60.0 200.4h.9M31.3 196.7h.9M49.8 199.7h.9M29.7 201.2h.9M46.8 198.8h.9M33.0 194.9h.9M32.7 193.2h.9M34.6 193.0h.9M39.0 195.7h.9M30.6 194.2h.9M36.9 198.2h.9M43.3 192.8h.9M28.1 184.5h.9M36.1 192.6h.9M36.1 191.6h.9M30.4 195.5h.9M36.9 189.3h.9M50.4 197.4h.9M51.1 190.8h.9M56.9 192.0h.9M40.3 191.6h.9M39.6 189.2h.9M46.3 203.4h.9M48.8 199.9h.9M36.0 201.5h.9M28.4 187.4h.9M34.9 193.5h.9M52.7 188.7h.9M51.8 190.1h.9M37.6 185.8h.9M40.6 195.4h.9M33.2 182.7h.9M31.8 197.9h.9M38.2 191.6h.9M40.5 199.2h.9M37.7 190.1h.9M47.5 190.7h.9M42.4 201.3h.9M50.3 196.0h.9M35.6 196.3h.9M45.9 189.7h.9M56.3 184.8h.9M50.1 186.8h.9M24.9 191.8h.9M34.6 186.4h.9M45.5 194.3h.9M54.2 188.5h.9M35.3 201.3h.9M57.0 186.3h.9M30.7 183.2h.9M27.9 188.8h.9M43.1 202.3h.9M66.7 192.7h.9M47.9 196.4h.9M41.6 200.6h.9M44.1 194.4h.9M29.6 192.4h.9M38.2 192.6h.9M33.9 190.5h.9M48.3 193.5h.9M36.6 193.6h.9M53.8 191.6h.9M55.0 189.5h.9M56.4 199.0h.9M32.1 198.0h.9M51.7 188.9h.9M35.3 197.0h.9M35.5 193.2h.9M38.3 197.0h.9M36.5 185.7h.9M32.8 192.8h.9M50.9 182.1h.9M30.4 194.2h.9M45.9 197.6h.9M48.3 194.0h.9M35.2 202.8h.9M58.7 197.5h.9M39.9 189.5h.9M63.3 197.6h.9M45.5 184.7h.9M36.1 193.7h.9M56.5 193.8h.9M24.0 189.7h.9M46.2 195.8h.9M38.5 194.0h.9M39.6 197.3h.9M32.3 193.2h.9M40.8 188.0h.9M43.3 180.9h.9M45.7 194.3h.9M24.0 203.7h.9M29.3 202.8h.9M35.4 201.7h.9M34.2 183.0h.9M42.7 198.1h.9M29.2 185.8h.9M41.1 190.6h.9M36.8 195.0h.9M28.3 202.1h.9M41.0 201.8h.9M34.6 190.8h.9M31.7 189.4h.9M43.4 195.9h.9M25.1 185.1h.9M27.8 183.3h.9M27.5 185.3h.9M46.5 187.6h.9M31.0 194.2h.9M38.4 197.7h.9M47.2 199.2h.9M33.9 203.1h.9M42.5 190.5h.9M55.9 187.4h.9M43.7 203.1h.9M39.4 197.3h.9M39.5 199.3h.9M40.7 195.1h.9M46.5 182.8h.9M41.1 193.1h.9M61.4 196.9h.9M30.2 199.2h.9M33.5 187.4h.9M34.7 198.3h.9M52.2 201.8h.9M40.8 194.0h.9M40.4 202.8h.9M36.6 202.5h.9M28.6 194.9h.9M47.3 199.5h.9M40.5 191.7h.9M28.0 192.4h.9M56.8 190.1h.9M48.1 194.9h.9M24.9 195.7h.9M47.0 187.4h.9M24.3 192.6h.9M46.7 191.2h.9M43.1 198.0h.9M38.2 197.9h.9M53.1 193.8h.9M41.9 188.2h.9M29.5 194.4h.9M47.7 190.7h.9M66.2 178.5h.9M25.5 195.8h.9M43.8 188.9h.9M42.0 202.1h.9M34.8 199.7h.9M39.6 189.0h.9M30.8 191.1h.9M53.8 202.4h.9M40.9 185.0h.9M32.3 192.4h.9M41.4 186.5h.9M33.0 192.1h.9M59.8 199.3h.9M47.1 195.6h.9M30.1 182.7h.9M46.6 192.8h.9M38.0 198.3h.9M35.3 197.7h.9M53.2 192.9h.9M33.9 195.1h.9M45.7 192.4h.9M39.0 190.6h.9M37.2 198.5h.9M28.4 193.8h.9M39.0 198.4h.9M25.9 194.4h.9M27.1 197.0h.9M41.1 197.9h.9M35.6 185.9h.9M31.5 186.4h.9M30.1 194.6h.9M50.7 190.9h.9M29.0 196.3h.9M49.5 201.2h.9M36.8 199.7h.9M34.0 201.2h.9M30.4 189.8h.9M42.5 192.1h.9M45.9 189.5h.9M41.2 188.7h.9M25.4 187.1h.9M57.0 192.1h.9M48.9 193.8h.9M50.6 183.2h.9M26.6 197.6h.9M45.6 193.6h.9M41.7 198.5h.9M33.9 201.4h.9M28.1 199.8h.9M48.7 196.3h.9M34.0 194.9h.9M46.9 189.2h.9M42.2 195.3h.9M34.9 198.0h.9M38.8 186.9h.9M31.9 195.7h.9M31.7 181.4h.9M58.1 200.6h.9M32.6 201.1h.9M33.7 195.9h.9M31.3 195.6h.9M41.9 195.2h.9M28.4 199.9h.9M44.5 195.0h.9M50.3 190.3h.9M52.9 194.0h.9M55.6 192.2h.9M35.1 196.4h.9M32.7 190.3h.9M46.9 202.9h.9M46.2 192.9h.9M52.8 194.8h.9M40.0 199.0h.9M31.4 180.5h.9M40.6 199.6h.9M43.1 198.5h.9M39.9 201.7h.9M38.6 200.1h.9M31.6 196.9h.9M43.0 195.9h.9M56.0 195.3h.9M51.1 197.3h.9M50.7 189.2h.9M33.8 201.2h.9M28.5 197.5h.9M44.6 196.3h.9M43.1 198.5h.9M35.3 197.6h.9M32.0 192.1h.9M40.5 188.0h.9M38.8 196.9h.9M34.0 189.2h.9M36.7 197.6h.9M43.1 190.9h.9M39.3 203.7h.9M50.4 192.2h.9M55.9 183.7h.9M35.7 190.5h.9M40.4 195.4h.9M51.3 191.2h.9M60.4 184.1h.9M36.9 199.0h.9M48.4 192.8h.9M46.5 181.9h.9M32.3 198.6h.9M42.7 202.3h.9M51.5 190.8h.9M43.9 183.6h.9M33.4 188.5h.9M64.0 182.1h.9M25.9 202.2h.9M38.8 202.3h.9M37.7 194.3h.9M43.2 197.3h.9M35.3 197.2h.9M23.8 190.4h.9M29.4 197.2h.9M33.0 198.9h.9M42.5 189.1h.9M34.6 187.0h.9M39.3 200.2h.9M26.5 183.6h.9M44.0 193.1h.9M37.7 198.0h.9M42.4 201.0h.9M32.7 180.8h.9M32.3 193.0h.9M33.2 197.5h.9M35.1 203.4h.9M30.6 195.0h.9M26.9 188.6h.9M33.6 199.9h.9M38.2 193.9h.9M35.5 193.5h.9M58.6 197.4h.9M43.0 201.2h.9M27.6 187.1h.9M49.6 191.2h.9M23.5 201.0h.9M50.8 187.9h.9M56.8 190.0h.9M46.8 193.7h.9M34.2 191.1h.9M46.1 199.0h.9M47.4 193.2h.9M58.1 193.8h.9M39.6 195.4h.9M48.0 197.3h.9M26.5 195.5h.9M36.0 196.7h.9M65.4 192.3h.9M48.6 199.0h.9M41.5 191.8h.9M45.5 196.8h.9M55.0 200.4h.9M29.7 176.1h.9M55.8 198.2h.9M40.0 191.1h.9M67.5 203.7h.9M39.1 192.6h.9M44.8 203.8h.9M44.1 201.1h.9M41.1 197.3h.9M38.6 194.5h.9M35.2 197.0h.9M31.2 193.7h.9M27.5 187.2h.9M31.7 192.3h.9M25.3 179.2h.9M57.4 201.6h.9M33.5 198.6h.9M24.9 184.5h.9M42.0 198.7h.9M29.9 195.0h.9M50.5 196.1h.9M40.1 198.7h.9M30.6 182.8h.9M48.6 193.8h.9M42.7 197.3h.9M46.2 199.2h.9M49.8 192.4h.9M27.1 191.8h.9M31.0 198.4h.9M47.2 195.2h.9M34.4 183.5h.9M32.9 188.5h.9M31.4 197.2h.9M27.6 191.5h.9M24.4 193.3h.9M34.6 201.5h.9M45.7 191.6h.9M29.8 196.3h.9M44.2 194.0h.9M36.1 195.1h.9M25.1 196.8h.9M44.9 195.3h.9M24.4 195.0h.9M36.7 197.0h.9M33.0 200.4h.9M50.9 200.3h.9M40.8 202.9h.9M37.5 193.9h.9M52.5 188.9h.9M47.3 186.8h.9M38.5 187.5h.9M41.4 194.1h.9M47.4 191.7h.9M45.0 201.6h.9M41.2 195.2h.9M46.1 193.8h.9M32.6 196.5h.9M51.0 191.8h.9M43.9 190.9h.9M29.2 196.1h.9M23.8 191.2h.9M45.2 195.5h.9M43.2 191.0h.9M50.4 192.5h.9M46.4 191.6h.9M46.1 191.4h.9M35.2 191.5h.9M31.4 190.8h.9M55.7 194.7h.9M52.9 202.2h.9M36.7 194.0h.9M32.2 195.8h.9M43.5 195.0h.9M28.1 188.9h.9M37.4 198.7h.9M36.5 196.5h.9M42.2 202.3h.9M43.1 198.4h.9M34.8 199.1h.9M46.1 199.4h.9M38.7 200.9h.9M37.8 190.6h.9M69.2 199.2h.9M47.0 192.1h.9M35.2 202.1h.9M52.2 188.2h.9M45.0 193.4h.9M34.4 191.5h.9M59.3 194.0h.9M36.8 197.3h.9M33.3 194.8h.9M29.6 192.6h.9M41.6 203.1h.9M44.4 201.4h.9M27.0 197.0h.9M42.6 200.9h.9M30.4 193.9h.9M31.7 202.2h.9M50.8 192.3h.9M36.2 196.4h.9M27.0 194.3h.9M48.2 199.9h.9M29.7 191.0h.9M36.4 185.9h.9M41.5 195.8h.9M29.9 193.4h.9M27.3 203.6h.9M26.3 199.8h.9M37.1 195.1h.9M38.6 183.3h.9M66.6 193.7h.9M34.0 188.0h.9M28.7 197.8h.9M50.1 200.9h.9M33.0 184.2h.9M42.7 198.6h.9M33.9 192.4h.9M58.8 185.2h.9M31.6 191.3h.9M28.2 202.8h.9M40.9 185.5h.9M35.9 197.9h.9M30.0 193.4h.9M46.3 194.1h.9M46.6 191.4h.9M43.6 203.0h.9M33.9 193.0h.9M35.8 197.9h.9M34.0 190.5h.9M39.4 193.6h.9M38.3 196.6h.9M52.2 192.6h.9M57.8 178.4h.9M59.6 202.6h.9M56.5 196.3h.9M41.2 188.8h.9M53.8 187.9h.9M28.3 195.1h.9M40.6 197.2h.9M23.9 193.0h.9M43.6 202.4h.9M46.9 197.6h.9M34.7 191.7h.9M31.6 194.5h.9M44.1 192.0h.9M62.4 188.9h.9M47.5 193.8h.9M36.1 192.7h.9M56.1 193.3h.9M44.4 195.8h.9M46.7 198.7h.9M57.5 190.6h.9M53.0 195.5h.9M34.3 196.7h.9M53.4 190.4h.9M55.1 194.7h.9M33.5 192.7h.9M27.1 196.5h.9M46.4 195.3h.9M40.0 197.6h.9M57.0 198.6h.9M56.6 194.7h.9M42.0 191.1h.9M44.9 189.8h.9M43.4 191.2h.9M33.6 202.6h.9M39.5 200.0h.9M34.9 183.7h.9M55.4 194.0h.9M30.0 200.9h.9M24.2 190.5h.9M51.5 190.8h.9M51.3 193.2h.9M35.3 195.5h.9M31.8 201.7h.9M50.9 195.5h.9M45.1 198.4h.9M57.9 185.4h.9M50.0 200.7h.9M34.0 195.2h.9M33.6 202.7h.9M24.1 198.8h.9M53.1 198.6h.9M32.0 192.3h.9M50.9 189.3h.9M27.4 200.9h.9M36.4 186.4h.9M28.6 191.1h.9M27.7 202.7h.9M25.8 197.3h.9M30.8 198.7h.9M31.7 189.4h.9M49.4 195.4h.9M53.7 190.8h.9M31.6 190.0h.9M39.7 191.7h.9M48.5 190.0h.9M41.2 196.6h.9M30.9 192.4h.9M28.2 194.0h.9M32.3 198.5h.9M37.9 198.5h.9M57.3 193.4h.9M34.3 197.4h.9M62.9 192.9h.9M58.0 202.4h.9M26.1 197.5h.9M53.7 195.4h.9M31.7 180.3h.9M27.9 192.2h.9M37.3 199.7h.9M46.1 198.3h.9M52.2 195.3h.9M31.0 194.8h.9M35.2 190.8h.9M37.7 191.0h.9M45.5 191.1h.9M43.7 197.1h.9M39.8 198.3h.9M29.5 199.6h.9M38.1 192.5h.9M58.7 201.9h.9M34.5 198.6h.9M50.0 194.1h.9M34.8 188.0h.9M41.0 200.4h.9M33.2 199.2h.9M39.4 192.3h.9M68.2 198.5h.9M24.9 188.8h.9M40.9 199.1h.9M56.1 180.3h.9M60.0 196.1h.9M39.5 197.5h.9M33.6 193.3h.9M50.5 184.5h.9M36.5 198.5h.9M56.2 197.4h.9M46.3 199.4h.9M40.5 197.3h.9M28.1 193.8h.9M60.0 187.5h.9M35.9 187.3h.9M31.5 190.3h.9M26.6 198.4h.9M59.6 179.3h.9M35.9 182.2h.9M36.4 197.4h.9M40.4 202.5h.9M39.8 184.5h.9M55.9 189.3h.9M36.8 197.1h.9M27.3 195.6h.9M55.8 184.7h.9M35.9 187.2h.9M42.6 186.9h.9M44.8 194.7h.9M39.8 186.8h.9M35.3 198.1h.9M45.9 194.6h.9M24.9 192.6h.9M34.9 197.8h.9M53.8 181.5h.9M23.9 195.1h.9M49.7 197.6h.9M54.1 198.7h.9M68.7 200.0h.9M32.6 191.7h.9M25.8 196.6h.9M43.2 200.9h.9M55.3 199.0h.9M52.7 193.5h.9M26.4 199.6h.9M50.1 203.4h.9M36.0 192.2h.9M33.6 197.3h.9M37.4 193.9h.9M41.0 193.3h.9M42.0 191.4h.9M60.7 190.0h.9M49.0 203.4h.9M31.4 196.7h.9M56.5 196.2h.9M29.0 195.8h.9M41.4 192.5h.9M34.2 190.0h.9M44.9 196.3h.9M42.1 191.9h.9M43.9 193.2h.9M41.5 194.1h.9M30.0 188.2h.9M35.5 187.8h.9M52.9 187.8h.9M36.7 191.1h.9M47.2 186.0h.9M41.7 196.4h.9M44.8 197.7h.9M39.8 183.9h.9M34.1 189.1h.9M44.4 193.6h.9M39.8 201.9h.9M48.0 185.8h.9M31.0 202.7h.9M32.0 202.5h.9M31.2 194.3h.9M50.4 185.2h.9M38.9 192.2h.9M43.9 186.6h.9M49.5 192.2h.9M40.0 202.3h.9M34.3 201.0h.9M40.1 189.4h.9M34.3 186.5h.9M52.2 196.1h.9M49.6 188.0h.9M48.2 187.5h.9M41.4 194.9h.9M30.9 197.0h.9M38.4 189.6h.9M29.1 186.8h.9M54.5 196.0h.9M33.6 199.4h.9M27.6 187.7h.9M41.6 196.0h.9M59.0 185.3h.9M74.7 188.1h.9M37.1 186.6h.9M23.4 193.5h.9M67.4 189.1h.9M30.6 196.7h.9M25.8 193.4h.9M47.8 181.3h.9M34.4 193.2h.9M31.8 194.3h.9M31.7 188.5h.9M47.6 189.6h.9M55.1 198.1h.9M28.2 198.8h.9M31.1 198.6h.9M49.1 202.3h.9M25.3 194.2h.9M38.0 187.3h.9M43.0 199.4h.9M24.7 187.0h.9M25.2 203.7h.9M30.0 192.5h.9M49.9 201.5h.9M54.9 181.9h.9M47.1 183.9h.9M30.4 192.4h.9M36.0 202.4h.9M35.8 194.6h.9M44.1 197.8h.9M44.0 184.1h.9M44.1 197.0h.9M45.2 194.7h.9M42.9 186.8h.9M51.6 187.3h.9M54.8 201.4h.9M37.2 193.1h.9M47.3 193.1h.9M23.7 196.8h.9M59.5 200.1h.9M32.6 194.6h.9M30.2 194.9h.9M38.2 191.1h.9M32.7 192.0h.9" stroke="#000" stroke-opacity="0.5" stroke-width="0.9" fill="none"/>
<path d="M34.4 188.2h.9M59.0 197.3h.9M47.4 194.8h.9M27.2 173.2h.9M61.6 197.6h.9M44.8 194.2h.9M44.6 192.2h.9M38.6 174.7h.9M49.4 192.4h.9M54.7 194.4h.9M38.3 196.7h.9M44.4 188.6h.9M37.1 188.7h.9M38.1 188.5h.9M40.5 200.7h.9M35.8 190.8h.9M32.4 181.4h.9M30.9 188.0h.9M44.0 189.4h.9M26.4 189.1h.9M61.7 185.1h.9M42.8 199.8h.9M31.5 187.6h.9M79.6 201.6h.9M35.1 193.2h.9M43.3 193.1h.9M48.0 189.7h.9M44.0 181.4h.9M37.8 203.7h.9M45.1 186.9h.9M43.8 200.2h.9M33.4 188.6h.9M40.9 187.5h.9M43.4 192.7h.9M26.8 187.1h.9M25.9 194.2h.9M45.4 197.1h.9M30.6 187.9h.9M56.0 195.5h.9M50.2 193.8h.9M46.8 199.3h.9M38.5 198.5h.9M53.3 195.3h.9M45.5 182.2h.9M56.1 185.1h.9M33.5 185.4h.9M49.3 184.5h.9M47.9 196.4h.9M43.3 189.4h.9M49.7 202.2h.9M36.0 183.8h.9M34.2 185.2h.9M38.9 190.8h.9M31.4 188.7h.9M28.8 193.8h.9M53.0 177.9h.9M44.9 203.8h.9M38.3 199.1h.9M46.0 184.8h.9M54.9 187.3h.9M46.6 188.9h.9M39.2 193.2h.9M59.1 178.9h.9M27.5 192.8h.9M54.6 190.5h.9M39.6 196.1h.9M62.4 185.0h.9M51.9 181.8h.9M56.6 199.3h.9M52.2 185.4h.9M25.2 197.1h.9M45.4 197.3h.9M24.5 169.1h.9M56.5 199.8h.9M38.4 192.0h.9M47.9 197.8h.9M39.5 188.0h.9M29.3 200.0h.9M43.3 165.6h.9M46.4 187.6h.9M25.5 188.0h.9M25.4 188.5h.9M34.9 196.0h.9M28.9 177.9h.9M34.1 181.3h.9M51.6 190.4h.9M41.6 191.7h.9M45.8 199.7h.9M56.2 191.0h.9M25.1 189.1h.9M50.4 184.9h.9M58.3 184.6h.9M27.4 198.4h.9M40.7 194.5h.9M38.0 192.2h.9M50.5 191.0h.9M48.1 198.5h.9M35.2 193.4h.9M44.7 187.6h.9M32.0 190.4h.9M38.1 188.8h.9M50.5 192.6h.9M64.2 198.7h.9M37.4 186.8h.9M48.5 189.1h.9M38.1 190.2h.9M49.9 193.5h.9M68.2 186.3h.9M40.7 194.4h.9M36.3 188.0h.9M64.7 180.8h.9M46.5 178.4h.9M46.4 177.1h.9M26.9 200.8h.9M62.0 193.0h.9M45.2 183.4h.9M37.4 181.8h.9M40.8 191.3h.9M43.6 198.1h.9M33.6 174.9h.9M26.8 182.3h.9M37.2 188.6h.9M41.4 202.6h.9M42.3 183.7h.9M38.0 185.2h.9M38.9 196.5h.9M27.3 197.4h.9M65.1 203.7h.9M63.0 192.7h.9M41.3 193.8h.9M37.4 184.7h.9M50.0 181.2h.9M24.2 196.3h.9M37.1 185.5h.9M48.4 203.0h.9M38.3 190.9h.9M49.3 199.2h.9M55.4 197.2h.9M33.4 196.1h.9M42.1 178.9h.9M58.0 196.4h.9M59.7 191.5h.9M51.4 191.4h.9M44.1 199.0h.9M42.7 196.7h.9M41.5 201.4h.9M50.4 179.3h.9M63.5 195.4h.9M35.4 187.2h.9M67.7 192.7h.9M48.6 196.6h.9M69.2 186.0h.9M56.7 179.5h.9M37.7 192.5h.9M42.7 196.4h.9M47.2 194.9h.9M40.2 194.3h.9M42.8 201.5h.9M43.4 190.9h.9M39.7 182.1h.9M68.9 195.2h.9M43.7 188.4h.9M58.6 189.5h.9M36.1 187.9h.9M61.9 194.4h.9M40.1 187.1h.9M58.6 194.2h.9M37.7 198.9h.9M53.3 184.4h.9M56.9 200.4h.9M38.9 181.8h.9M56.2 189.4h.9M39.4 189.8h.9M38.5 198.4h.9M27.9 196.1h.9M57.0 200.1h.9M51.3 194.0h.9M39.5 191.1h.9M40.5 184.3h.9M52.8 203.6h.9M45.6 189.6h.9M27.7 196.9h.9M38.9 187.0h.9M49.8 182.1h.9M51.5 173.4h.9M34.1 181.1h.9M38.9 198.1h.9M25.4 202.4h.9M33.3 188.3h.9M54.8 186.5h.9M60.7 190.5h.9M40.9 184.7h.9M56.8 191.5h.9M35.9 184.8h.9M34.0 191.3h.9M32.9 198.1h.9M41.7 187.3h.9M48.0 202.9h.9M55.9 193.1h.9M52.7 180.3h.9M32.6 199.7h.9M41.0 192.5h.9M50.2 194.8h.9M47.9 188.2h.9M38.3 202.0h.9M35.9 181.1h.9M37.7 198.8h.9M65.0 193.2h.9M34.3 196.6h.9M46.0 201.0h.9M48.8 197.7h.9M48.7 195.2h.9M30.6 190.8h.9M62.6 202.1h.9M54.5 195.0h.9M40.8 194.7h.9M38.0 200.3h.9M38.2 186.3h.9M32.6 185.5h.9M50.7 189.5h.9M49.4 185.8h.9M39.1 192.2h.9M42.4 197.9h.9M52.9 189.9h.9M45.5 185.6h.9M34.5 189.4h.9M55.2 186.8h.9M27.1 190.6h.9M38.5 183.2h.9M32.3 188.9h.9M47.3 196.7h.9M59.1 190.1h.9M50.3 192.6h.9M28.5 187.2h.9M70.0 190.8h.9M63.2 198.3h.9M63.4 190.6h.9M54.2 189.7h.9M28.4 183.2h.9M48.0 179.8h.9M47.0 185.4h.9M46.9 181.6h.9M53.2 190.3h.9M43.3 179.7h.9M46.6 195.7h.9M34.2 202.6h.9M60.7 194.4h.9M48.2 195.6h.9M39.2 201.9h.9M35.7 173.0h.9M42.7 195.4h.9M52.9 183.7h.9M60.0 185.8h.9M50.4 197.5h.9M44.7 200.6h.9M48.7 188.8h.9M75.3 192.0h.9M62.0 187.7h.9M30.1 200.5h.9M43.2 184.8h.9M36.5 192.5h.9M34.7 203.6h.9M23.5 197.4h.9M40.8 195.3h.9M37.0 186.6h.9M46.1 200.6h.9M37.5 183.9h.9M25.6 195.9h.9M49.5 196.9h.9M34.8 188.7h.9M64.7 189.1h.9M44.1 199.6h.9M63.5 194.8h.9M37.5 178.4h.9M33.1 189.6h.9M59.0 194.4h.9M57.7 192.8h.9M43.1 187.7h.9M27.0 195.9h.9M47.1 196.4h.9M35.8 188.8h.9M47.3 196.6h.9M67.6 185.4h.9M55.0 198.7h.9M39.2 193.1h.9M41.8 203.6h.9M74.5 194.5h.9M39.3 199.2h.9M48.8 190.6h.9M52.0 198.6h.9M37.6 198.5h.9M38.6 193.2h.9M24.2 203.2h.9M37.8 193.2h.9M42.0 197.7h.9M35.3 197.6h.9M32.1 180.8h.9M49.0 193.2h.9M53.6 177.3h.9M43.9 187.1h.9M40.2 189.0h.9M37.8 187.0h.9M55.4 179.0h.9M67.8 186.2h.9M31.2 183.2h.9M29.7 201.5h.9M51.1 198.8h.9M46.9 193.8h.9M35.2 184.7h.9M37.9 201.6h.9M33.7 192.3h.9M63.9 191.5h.9M50.5 187.8h.9M66.2 182.7h.9M49.6 190.2h.9M45.0 194.8h.9M59.1 198.7h.9M55.8 194.8h.9M29.1 202.2h.9M61.9 195.7h.9M52.5 190.3h.9M24.4 199.5h.9M51.2 191.9h.9M34.8 192.8h.9M29.8 189.2h.9M62.6 189.8h.9M65.7 191.3h.9M47.8 185.0h.9M38.8 188.6h.9M50.0 191.4h.9M28.8 192.3h.9M29.3 184.6h.9M35.6 169.9h.9M24.7 191.0h.9M43.3 186.3h.9M64.9 196.1h.9M34.6 179.5h.9M44.7 186.9h.9M55.4 184.1h.9M57.6 188.5h.9M45.0 190.0h.9M50.4 200.8h.9M35.6 185.1h.9M66.4 199.3h.9M66.5 199.3h.9M34.0 188.8h.9M37.4 197.2h.9M31.7 190.7h.9M31.8 190.2h.9M56.6 200.5h.9M33.6 195.5h.9M36.4 175.1h.9M27.5 201.5h.9M40.9 194.1h.9M58.3 192.2h.9M34.4 187.4h.9M30.6 196.2h.9M36.5 195.9h.9M23.5 188.7h.9M68.4 194.8h.9M41.1 201.1h.9M45.9 203.7h.9M27.8 197.9h.9M29.0 197.2h.9M73.4 203.7h.9M31.6 195.2h.9M48.2 186.5h.9M45.5 183.9h.9M54.6 199.0h.9M40.4 197.3h.9M72.5 190.8h.9M36.7 186.0h.9M53.8 199.7h.9M34.4 188.8h.9M47.7 171.3h.9M39.7 192.5h.9M30.2 193.8h.9M55.7 187.2h.9M49.5 190.8h.9M40.4 192.9h.9M61.4 196.0h.9M51.0 193.2h.9M42.1 192.8h.9M35.9 180.2h.9M62.2 177.9h.9M49.3 183.0h.9M40.0 188.1h.9M34.5 186.1h.9M36.2 198.0h.9M62.7 199.1h.9M42.2 190.9h.9M39.2 191.9h.9M34.5 190.6h.9M53.0 190.3h.9M32.0 191.1h.9M43.4 191.4h.9M39.0 197.4h.9M41.7 184.3h.9M49.5 186.6h.9M52.1 198.3h.9" stroke="#000" stroke-opacity="0.3" stroke-width="0.9" fill="none"/>
<path d="M42.9 168.5h.9M25.1 166.1h.9M39.4 170.1h.9M27.2 166.3h.9M39.0 167.6h.9M54.3 170.5h.9M36.3 164.2h.9M33.8 170.8h.9M47.1 164.6h.9M37.1 164.9h.9M44.9 167.9h.9M31.1 162.8h.9M50.9 160.3h.9M58.1 164.4h.9M46.6 169.7h.9M46.4 172.4h.9M33.6 166.9h.9M47.8 169.7h.9M30.8 163.4h.9M24.0 168.3h.9M33.0 159.6h.9M32.7 168.6h.9M40.0 165.9h.9M39.8 170.1h.9M26.4 163.1h.9M47.7 170.5h.9M24.4 163.5h.9M52.4 170.6h.9M36.8 171.9h.9M51.6 173.8h.9M24.5 160.8h.9M33.2 166.8h.9M34.7 168.2h.9M52.7 172.3h.9M47.9 167.0h.9M54.4 169.2h.9M40.6 166.9h.9M38.0 171.3h.9M60.5 166.1h.9M26.7 171.9h.9M40.6 162.5h.9M47.7 167.1h.9M28.9 154.9h.9M28.4 168.8h.9M28.0 171.7h.9M59.9 168.5h.9M40.4 166.6h.9M46.7 167.2h.9M48.4 173.8h.9M46.6 162.4h.9M44.8 165.8h.9M41.3 171.6h.9M31.7 168.0h.9M52.7 163.0h.9M36.3 170.5h.9M35.9 171.9h.9M28.2 159.9h.9M41.9 166.4h.9M41.3 171.6h.9M48.6 165.4h.9M34.4 157.8h.9M28.6 168.2h.9M40.3 159.9h.9M45.9 166.8h.9M49.1 165.3h.9M47.7 161.7h.9M45.1 169.0h.9M44.8 175.0h.9M45.9 169.4h.9M34.5 162.4h.9M28.2 166.3h.9M43.9 163.9h.9M41.2 170.4h.9M37.9 176.1h.9M35.1 163.5h.9M44.9 166.1h.9M41.3 166.4h.9M46.8 167.0h.9M40.4 166.6h.9M29.4 156.5h.9M43.6 161.1h.9M42.1 170.1h.9M56.8 163.5h.9M39.7 171.5h.9M31.6 164.2h.9M42.6 176.8h.9M48.8 171.6h.9M28.6 170.1h.9M49.4 161.0h.9M38.3 166.1h.9M44.6 158.8h.9M45.2 167.0h.9M35.5 157.0h.9M44.6 169.0h.9M45.6 159.0h.9M40.2 173.4h.9M31.0 169.6h.9M39.2 159.3h.9M27.8 173.0h.9M37.1 172.9h.9M41.5 171.2h.9M34.3 168.1h.9M34.5 171.3h.9M32.5 172.3h.9M53.7 161.3h.9M36.5 169.6h.9M55.7 172.5h.9M39.0 158.8h.9M46.5 164.2h.9M40.1 168.9h.9M24.2 172.1h.9M47.2 169.7h.9M44.1 168.7h.9M24.3 164.6h.9M46.2 165.4h.9M38.4 168.8h.9M39.0 168.2h.9M42.9 167.0h.9M27.2 165.7h.9M47.6 163.8h.9M42.8 168.5h.9M29.4 153.7h.9M38.0 163.3h.9M31.9 171.4h.9M30.6 168.7h.9M39.3 168.0h.9M57.8 157.7h.9M47.7 166.3h.9M35.4 163.9h.9M38.5 167.2h.9M29.1 174.7h.9M30.8 166.4h.9M25.6 167.7h.9M41.7 172.1h.9M47.8 164.7h.9M54.0 166.5h.9M53.5 175.1h.9M34.2 161.9h.9M43.5 173.8h.9M42.1 172.2h.9M44.0 171.2h.9M51.2 165.6h.9M24.2 166.4h.9M30.3 161.4h.9M36.5 170.4h.9M46.0 162.8h.9M34.3 173.4h.9M49.2 168.7h.9M43.5 154.2h.9M43.6 168.8h.9M24.4 167.9h.9M42.6 166.5h.9M45.9 171.2h.9M38.6 165.8h.9M26.5 172.4h.9M32.5 168.5h.9M53.3 170.7h.9M25.6 166.6h.9M31.1 159.3h.9M30.2 169.8h.9M41.5 166.0h.9M39.9 161.5h.9M30.6 166.2h.9M46.0 165.5h.9M36.5 168.6h.9M52.6 161.1h.9M43.4 167.9h.9M37.4 168.2h.9M35.8 161.2h.9M46.4 166.4h.9" stroke="#000" stroke-opacity="0.35" stroke-width="0.9" fill="none"/>
<path d="M72.7 187.1h.9M84.1 191.7h.9M65.0 192.3h.9M98.7 201.2h.9M84.9 200.8h.9M79.5 192.4h.9M87.8 185.6h.9M83.7 192.5h.9M71.9 192.4h.9M67.1 195.8h.9M64.6 191.3h.9M62.2 193.4h.9M63.9 200.0h.9M60.7 199.6h.9M72.0 203.0h.9M73.1 184.3h.9M86.8 186.6h.9M92.5 192.0h.9M70.7 194.6h.9M68.9 187.1h.9M63.3 186.5h.9M68.8 184.7h.9M76.6 191.3h.9M83.8 193.7h.9M87.3 195.1h.9M78.8 200.7h.9M65.7 187.3h.9M60.5 201.9h.9M95.2 190.4h.9M93.7 193.9h.9M97.2 201.7h.9M73.3 187.4h.9M76.6 203.0h.9M78.7 189.3h.9M61.0 189.8h.9M97.0 190.6h.9M91.8 201.6h.9M97.5 197.9h.9M79.9 187.9h.9M97.6 199.5h.9M89.7 182.3h.9M85.9 196.9h.9M65.4 188.5h.9M78.2 186.8h.9M64.3 184.5h.9M78.3 181.3h.9M91.7 190.6h.9M71.1 186.8h.9M72.7 194.8h.9M88.6 190.9h.9M88.6 194.2h.9M92.5 197.8h.9M90.6 181.6h.9M74.1 183.7h.9M93.2 184.8h.9M97.0 188.9h.9M66.1 197.0h.9M67.4 189.4h.9M77.6 195.6h.9M80.7 196.3h.9M91.7 203.2h.9M84.8 190.8h.9M79.9 189.0h.9M93.4 193.6h.9M87.9 199.8h.9M87.9 201.4h.9M78.2 197.0h.9M95.4 192.2h.9M92.8 187.4h.9M66.4 200.6h.9M82.1 203.1h.9M83.9 186.9h.9M64.9 201.7h.9M70.1 184.8h.9M81.1 197.5h.9M83.0 182.1h.9M91.3 196.5h.9M73.0 202.2h.9M79.8 198.7h.9M63.6 188.1h.9M90.2 196.7h.9M88.1 196.9h.9M61.1 200.7h.9M61.7 186.6h.9M72.1 192.5h.9M63.8 190.9h.9M65.6 188.7h.9M73.8 183.6h.9M92.1 181.7h.9M68.0 201.5h.9M76.2 202.8h.9M72.3 192.9h.9M81.1 190.3h.9M99.6 190.2h.9M91.9 192.7h.9M74.0 200.5h.9M97.0 181.4h.9M84.0 198.3h.9M80.3 190.3h.9M88.8 184.6h.9M79.0 185.6h.9M94.6 199.1h.9M75.9 199.1h.9M81.7 196.1h.9M69.6 198.8h.9M86.0 203.9h.9M70.5 190.3h.9M91.2 187.0h.9M90.6 200.5h.9M66.6 197.7h.9M71.6 187.3h.9M74.1 198.9h.9M85.5 189.8h.9M87.3 199.7h.9M67.8 200.9h.9M80.8 195.6h.9M94.4 185.9h.9M78.7 197.3h.9M60.6 190.0h.9M81.7 191.3h.9M80.2 200.2h.9M64.6 197.6h.9M71.3 182.9h.9M78.5 184.0h.9M78.4 184.9h.9M77.8 184.1h.9M99.8 185.8h.9M77.7 194.9h.9M87.0 184.0h.9M93.9 189.6h.9M63.3 190.9h.9M84.9 189.3h.9M89.1 188.2h.9M92.6 202.5h.9M92.7 182.4h.9M76.8 193.2h.9M75.3 185.3h.9M83.5 183.7h.9M66.7 190.6h.9M99.9 189.8h.9M98.6 196.5h.9M85.9 202.0h.9M83.3 198.0h.9M78.9 199.3h.9M95.0 181.0h.9M97.4 181.7h.9M85.6 182.7h.9M90.2 191.0h.9M65.5 200.4h.9M69.9 201.7h.9M75.4 193.8h.9M77.8 198.5h.9M74.2 192.8h.9M69.2 188.8h.9M64.4 187.0h.9M71.1 196.9h.9M65.8 184.5h.9M98.9 195.8h.9M63.4 200.9h.9M90.4 195.0h.9M98.5 193.3h.9M65.6 181.3h.9M63.6 191.7h.9M82.1 200.2h.9M62.8 182.6h.9M63.8 189.4h.9M97.4 199.0h.9M61.8 194.6h.9M67.2 186.2h.9M72.9 186.7h.9M71.8 186.2h.9M73.8 194.6h.9M82.5 197.8h.9M71.2 181.6h.9M82.9 188.2h.9M68.4 190.4h.9M97.9 194.8h.9M88.7 182.0h.9M81.7 197.1h.9M94.6 198.5h.9M62.0 203.7h.9M60.7 198.7h.9M78.8 202.4h.9M97.9 198.2h.9M63.3 195.9h.9M64.7 190.8h.9M65.2 187.9h.9M62.1 193.4h.9M63.7 186.6h.9M91.1 187.7h.9M83.2 200.9h.9M85.4 199.8h.9M97.3 186.6h.9M67.4 203.9h.9M96.7 188.4h.9M97.0 183.0h.9M69.1 200.9h.9M64.2 200.8h.9M68.9 198.7h.9M65.1 192.5h.9M83.0 193.8h.9M94.5 181.8h.9M88.3 200.6h.9M80.9 186.4h.9M91.9 190.9h.9M70.5 198.8h.9M90.6 200.0h.9M79.8 181.3h.9M60.9 193.7h.9M61.5 195.3h.9M65.3 198.8h.9M60.8 196.9h.9M68.9 204.0h.9M79.0 192.9h.9M94.0 187.5h.9M98.9 187.8h.9M61.5 187.4h.9M74.7 194.7h.9M62.7 201.8h.9M91.1 198.2h.9M99.5 182.2h.9M87.5 200.7h.9M67.1 190.5h.9M68.0 202.3h.9M78.8 200.1h.9M70.1 194.8h.9M89.8 188.9h.9M70.7 182.9h.9M85.1 190.4h.9M68.0 188.4h.9" stroke="#000" stroke-opacity="0.35" stroke-width="0.9" fill="none"/>
</g>
<text x="27.5" y="140.7" font-size="4.6" font-weight="normal" text-anchor="start" fill="#444" >Q1</text>
<text x="105.5" y="141.2" font-size="4.6" font-weight="normal" text-anchor="start" fill="#444" >Q2</text>
<text x="105.5" y="197.2" font-size="4.6" font-weight="normal" text-anchor="start" fill="#444" >Q4</text>
<text x="32.0" y="151.0" font-size="6.8" font-weight="bold" text-anchor="start" fill="#000"  stroke="#000" stroke-width="0.3">1.4%</text>
<text x="74.0" y="151.0" font-size="6.8" font-weight="bold" text-anchor="start" fill="#000"  stroke="#000" stroke-width="0.3">0%</text>
<text x="71.0" y="222.0" font-size="6.9" font-weight="bold" text-anchor="middle" fill="#000"  stroke="#000" stroke-width="0.3">Ki-67 - FITC</text>
<text x="8.2" y="161.2" font-size="6.9" font-weight="bold" text-anchor="middle" stroke="#000" stroke-width="0.3" transform="rotate(-90 8.2 161.2)">IFN-g - APC</text>
<text x="190.8" y="127.4" font-size="6.9" font-weight="bold" text-anchor="middle" fill="#000"  stroke="#000" stroke-width="0.3">PHI CD3+CD4+CD8- + CMV</text>
<path d="M142.7 202.3h3M142.7 200.5h3M142.7 199.1h3M142.7 197.9h3M142.7 196.8h3M142.7 195.8h3M142.7 189.5h3M142.7 186.2h3M142.7 183.9h3M142.7 182.1h3M142.7 180.7h3M142.7 179.5h3M142.7 178.4h3M142.7 177.4h3M142.7 171.1h3M142.7 167.8h3M142.7 165.5h3M142.7 163.7h3M142.7 162.3h3M142.7 161.1h3M142.7 160.0h3M142.7 159.0h3M142.7 152.7h3M142.7 149.4h3M142.7 147.1h3M142.7 145.3h3M142.7 143.9h3M142.7 142.7h3M142.7 141.6h3M142.7 140.6h3M142.7 134.3h3M141.2 195.0h4.5M141.2 176.6h4.5M141.2 158.2h4.5M141.2 139.8h4.5" stroke="#555" stroke-width="0.8" fill="none"/>
<text x="140.0" y="195.2" font-size="3.8" font-weight="normal" text-anchor="end" fill="#333" >10<tspan font-size="2.8" dy="-1.7">1</tspan></text>
<text x="140.0" y="176.8" font-size="3.8" font-weight="normal" text-anchor="end" fill="#333" >10<tspan font-size="2.8" dy="-1.7">2</tspan></text>
<text x="140.0" y="158.4" font-size="3.8" font-weight="normal" text-anchor="end" fill="#333" >10<tspan font-size="2.8" dy="-1.7">3</tspan></text>
<text x="140.0" y="140.0" font-size="3.8" font-weight="normal" text-anchor="end" fill="#333" >10<tspan font-size="2.8" dy="-1.7">4</tspan></text>
<line x1="144.2" y1="204.8" x2="247" y2="204.8" stroke="#222" stroke-width="0.9"/>
<path d="M148.2 204.8v2M151.1 204.8v2M153.5 204.8v2M155.4 204.8v2M157.0 204.8v2M158.4 204.8v2M159.6 204.8v2M167.9 204.8v2M172.2 204.8v2M175.1 204.8v2M177.5 204.8v2M179.4 204.8v2M181.0 204.8v2M182.4 204.8v2M183.6 204.8v2M191.9 204.8v2M196.2 204.8v2M199.1 204.8v2M201.5 204.8v2M203.4 204.8v2M205.0 204.8v2M206.4 204.8v2M207.6 204.8v2M215.9 204.8v2M220.2 204.8v2M223.1 204.8v2M225.5 204.8v2M227.4 204.8v2M229.0 204.8v2M230.4 204.8v2M231.6 204.8v2M239.9 204.8v2M244.2 204.8v2M160.7 204.8v3.2M184.7 204.8v3.2M208.7 204.8v3.2M232.7 204.8v3.2" stroke="#555" stroke-width="0.7" fill="none"/>
<text x="161.5" y="213.1" font-size="4.2" font-weight="normal" text-anchor="middle" fill="#333" >10<tspan font-size="3" dy="-1.9">2</tspan></text>
<text x="185.5" y="213.1" font-size="4.2" font-weight="normal" text-anchor="middle" fill="#333" >10<tspan font-size="3" dy="-1.9">3</tspan></text>
<text x="209.5" y="213.1" font-size="4.2" font-weight="normal" text-anchor="middle" fill="#333" >10<tspan font-size="3" dy="-1.9">4</tspan></text>
<text x="233.5" y="213.1" font-size="4.2" font-weight="normal" text-anchor="middle" fill="#333" >10<tspan font-size="3" dy="-1.9">5</tspan></text>
<line x1="183.9" y1="130.8" x2="183.9" y2="204.8" stroke="#999" stroke-width="1.2"/>
<line x1="144.2" y1="176.9" x2="245" y2="176.9" stroke="#999" stroke-width="1.1"/>
<clipPath id="cp2750"><rect x="145.7" y="130.8" width="99.30000000000001" height="73.5"/></clipPath><g clip-path="url(#cp2750)">
<rect x="146" y="188" width="26" height="17" rx="3" fill="#000" fill-opacity="0.75" filter="url(#b2)"/>
<path d="M155.4 197.8h.9M152.2 193.1h.9M160.4 200.6h.9M176.8 194.3h.9M168.0 193.0h.9M163.0 186.9h.9M149.7 187.4h.9M170.2 192.4h.9M159.2 195.4h.9M155.7 188.3h.9M180.9 183.7h.9M157.8 199.0h.9M155.8 194.4h.9M161.8 196.4h.9M154.2 201.2h.9M164.1 203.6h.9M159.3 183.7h.9M163.5 185.7h.9M151.5 202.2h.9M162.1 191.0h.9M156.9 195.7h.9M153.2 193.2h.9M150.7 196.3h.9M176.8 203.3h.9M156.8 187.0h.9M160.9 191.4h.9M148.8 193.8h.9M161.2 198.9h.9M164.7 181.4h.9M151.2 196.5h.9M162.6 199.6h.9M152.7 192.3h.9M149.1 199.7h.9M167.4 197.0h.9M157.5 197.3h.9M151.7 193.5h.9M188.9 195.4h.9M154.7 181.0h.9M168.1 188.2h.9M167.4 196.0h.9M148.9 199.6h.9M151.1 193.3h.9M158.4 196.2h.9M153.1 196.7h.9M158.2 196.2h.9M162.7 191.4h.9M172.6 196.9h.9M160.8 190.8h.9M147.5 192.9h.9M157.9 185.0h.9M151.8 196.4h.9M162.6 199.5h.9M154.1 194.2h.9M155.5 198.1h.9M150.2 194.1h.9M159.9 193.1h.9M145.6 202.8h.9M164.0 189.8h.9M181.1 190.7h.9M148.1 192.9h.9M164.4 203.6h.9M174.2 198.2h.9M159.0 198.8h.9M149.1 191.0h.9M164.4 196.2h.9M160.9 189.2h.9M161.1 186.8h.9M169.0 195.1h.9M150.7 192.4h.9M150.1 202.9h.9M158.4 196.5h.9M147.1 187.6h.9M161.0 192.5h.9M164.1 201.1h.9M156.9 198.1h.9M160.3 196.4h.9M152.2 196.4h.9M163.3 195.5h.9M153.0 186.7h.9M145.8 204.0h.9M170.0 196.7h.9M161.6 194.2h.9M166.1 200.5h.9M155.3 196.8h.9M169.3 186.0h.9M147.3 191.8h.9M148.4 192.8h.9M163.8 188.3h.9M159.4 202.9h.9M160.4 188.1h.9M151.2 201.7h.9M155.2 191.5h.9M167.3 191.0h.9M145.3 198.5h.9M158.4 191.3h.9M163.6 201.3h.9M170.8 195.6h.9M163.5 197.9h.9M150.6 191.9h.9M148.7 189.5h.9M170.9 195.1h.9M151.6 184.6h.9M160.2 194.8h.9M146.3 194.5h.9M159.4 182.9h.9M145.3 191.3h.9M167.4 198.5h.9M154.9 192.1h.9M164.7 190.2h.9M148.1 200.5h.9M173.2 184.8h.9M163.7 195.0h.9M168.7 193.1h.9M156.8 203.1h.9M151.4 197.4h.9M165.5 194.4h.9M168.4 198.0h.9M167.8 185.3h.9M146.3 196.7h.9M171.7 203.2h.9M158.4 190.8h.9M145.6 183.9h.9M152.5 198.4h.9M157.4 186.6h.9M157.1 195.3h.9M149.6 203.4h.9M163.3 201.3h.9M159.4 189.5h.9M170.7 201.4h.9M151.5 187.5h.9M167.7 191.8h.9M164.6 190.8h.9M158.7 200.7h.9M166.9 186.2h.9M168.8 194.6h.9M162.5 186.1h.9M151.5 192.1h.9M182.2 195.1h.9M172.4 185.6h.9M155.9 185.4h.9M170.2 182.0h.9M179.6 189.0h.9M164.4 197.1h.9M168.1 189.4h.9M168.3 193.5h.9M164.3 196.4h.9M174.2 187.7h.9M185.5 198.2h.9M156.3 198.9h.9M152.5 200.4h.9M173.7 189.1h.9M155.1 184.4h.9M148.2 197.6h.9M166.6 203.3h.9M151.2 181.9h.9M146.6 198.5h.9M158.0 199.1h.9M154.8 198.8h.9M147.1 189.5h.9M156.4 185.0h.9M172.4 193.6h.9M147.0 190.1h.9M147.2 195.8h.9M154.0 200.0h.9M173.8 194.4h.9M168.5 194.7h.9M145.7 190.0h.9M145.3 197.0h.9M177.4 199.9h.9M147.0 195.7h.9M149.9 201.8h.9M160.2 195.9h.9M157.5 194.7h.9M148.4 194.4h.9M157.4 189.7h.9M164.7 196.1h.9M149.6 202.5h.9M151.7 184.1h.9M172.7 192.9h.9M175.0 197.6h.9M148.0 201.5h.9M163.5 200.4h.9M168.9 193.1h.9M159.0 189.4h.9M156.0 203.7h.9M152.8 201.5h.9M147.5 189.5h.9M169.0 194.1h.9M160.7 201.0h.9M176.9 187.9h.9M164.9 196.4h.9M155.4 191.6h.9M164.0 183.4h.9M162.4 189.9h.9M161.9 190.8h.9M164.0 193.6h.9M150.0 198.2h.9M166.8 185.8h.9M153.8 202.7h.9M176.4 197.8h.9M170.7 193.2h.9M161.1 201.8h.9M150.8 185.7h.9M155.9 197.9h.9M155.7 192.1h.9M159.1 193.9h.9M174.1 187.5h.9M161.3 186.2h.9M157.7 197.6h.9M162.0 196.8h.9M149.5 186.7h.9M169.1 193.0h.9M166.6 178.8h.9M187.8 195.9h.9M161.9 202.2h.9M158.3 185.4h.9M156.2 192.6h.9M161.5 194.0h.9M164.6 188.0h.9M151.9 192.1h.9M162.9 185.2h.9M159.3 200.8h.9M158.7 196.5h.9M162.3 197.7h.9M179.1 203.2h.9M148.4 189.6h.9M156.1 201.2h.9M168.7 191.6h.9M175.1 198.9h.9M164.9 198.3h.9M179.3 201.3h.9M174.7 188.4h.9M152.2 195.0h.9M157.9 194.7h.9M187.1 193.9h.9M155.8 194.3h.9M154.2 186.8h.9M171.0 195.2h.9M162.3 195.2h.9M149.2 185.8h.9M154.8 198.1h.9M156.7 199.3h.9M149.0 193.3h.9M159.8 194.4h.9M160.1 203.3h.9M153.3 195.8h.9M150.6 198.2h.9M160.7 190.8h.9M146.5 188.1h.9M154.8 195.9h.9M152.4 194.4h.9M159.6 196.3h.9M180.5 197.2h.9M165.6 192.1h.9M151.8 199.5h.9M151.2 191.2h.9M157.0 198.2h.9M148.1 187.8h.9M170.8 195.2h.9M167.2 188.4h.9M161.5 200.8h.9M152.0 190.4h.9M155.6 190.4h.9M159.5 190.6h.9M158.4 187.5h.9M154.3 193.1h.9M152.8 194.6h.9M148.5 199.3h.9M147.1 189.6h.9M180.9 193.5h.9M153.6 189.9h.9M175.0 198.1h.9M170.8 197.5h.9M152.1 199.6h.9M169.3 200.2h.9M153.9 192.7h.9M153.0 199.0h.9M153.4 194.2h.9M169.8 194.4h.9M160.8 194.3h.9M158.1 182.1h.9M147.2 197.1h.9M150.6 191.4h.9M149.3 189.5h.9M157.4 190.1h.9M153.3 200.7h.9M169.8 197.1h.9M171.3 200.9h.9M152.7 199.6h.9M159.8 199.5h.9M152.0 192.9h.9M157.8 194.7h.9M177.7 194.7h.9M160.9 201.2h.9M175.4 189.4h.9M161.5 187.3h.9M163.7 203.2h.9M152.0 193.4h.9M171.7 197.6h.9M167.3 192.3h.9M154.4 192.9h.9M176.1 186.3h.9M157.2 188.6h.9M160.7 193.7h.9M156.6 197.9h.9M167.1 186.3h.9M160.3 203.7h.9M148.2 193.1h.9M153.2 197.7h.9M160.2 202.9h.9M152.2 197.4h.9M161.0 195.6h.9M157.7 191.8h.9M155.2 202.0h.9M163.1 202.5h.9M149.6 195.7h.9M150.6 187.3h.9M168.3 193.4h.9M160.8 186.7h.9M155.1 194.3h.9M153.5 200.9h.9M163.3 195.8h.9M160.6 192.4h.9M149.8 193.4h.9M146.2 194.0h.9M156.7 201.6h.9M151.9 195.8h.9M157.6 191.4h.9M157.2 184.6h.9M170.8 191.6h.9M157.6 184.4h.9M164.5 187.5h.9M173.6 188.9h.9M149.5 198.9h.9M172.7 183.4h.9M163.0 186.1h.9M152.9 199.1h.9M153.5 203.8h.9M149.7 196.0h.9M171.2 203.7h.9M160.7 198.4h.9M154.1 194.6h.9M151.3 197.3h.9M167.6 189.1h.9M181.0 196.3h.9M159.4 194.7h.9M175.3 182.6h.9M178.6 187.9h.9M175.2 194.2h.9M164.7 191.8h.9M152.7 196.2h.9M154.3 188.6h.9M154.7 198.8h.9M149.0 197.1h.9M145.9 198.6h.9M170.6 190.1h.9M158.5 189.9h.9M163.4 199.5h.9M171.1 202.8h.9M172.9 190.7h.9M159.2 198.1h.9M160.1 187.2h.9M158.6 179.6h.9M178.9 193.9h.9M183.9 188.8h.9M164.0 199.7h.9M163.5 198.9h.9M162.4 179.5h.9M176.3 185.9h.9M162.4 200.5h.9M146.7 185.6h.9M161.0 192.4h.9M156.8 193.8h.9M156.5 196.8h.9M151.8 194.8h.9M151.4 189.8h.9M161.9 190.1h.9M164.0 194.8h.9M170.3 198.5h.9M165.5 195.6h.9M158.4 201.4h.9M165.7 187.0h.9M159.0 200.9h.9M159.7 187.4h.9M166.8 198.6h.9M171.1 196.0h.9M159.2 200.0h.9M162.5 196.3h.9M166.6 199.7h.9M156.6 190.3h.9M168.3 200.6h.9M162.2 191.3h.9M159.1 189.3h.9M186.9 191.0h.9M148.0 191.8h.9M155.3 195.0h.9M158.3 192.2h.9M159.2 194.6h.9M149.6 193.1h.9M151.3 187.3h.9M157.5 183.9h.9M164.0 194.8h.9M159.8 201.9h.9M168.8 192.4h.9M161.9 202.1h.9M156.1 197.2h.9M162.7 188.8h.9M161.1 192.6h.9M154.9 197.6h.9M165.4 189.6h.9M154.9 193.8h.9M146.9 197.2h.9M155.5 190.8h.9M168.7 194.5h.9M155.7 196.7h.9M183.8 198.2h.9M174.4 193.9h.9M163.3 197.9h.9M156.7 196.4h.9M152.7 199.1h.9M156.4 197.1h.9M159.5 185.3h.9M162.7 189.7h.9M160.2 192.5h.9M154.7 185.9h.9M145.6 196.4h.9M164.2 190.5h.9M146.8 192.9h.9M166.9 203.2h.9M182.6 195.5h.9M165.0 196.1h.9M157.6 188.6h.9M153.8 201.6h.9M173.7 191.4h.9M158.2 197.7h.9M155.9 184.2h.9M161.4 189.2h.9M154.6 191.3h.9M175.2 183.4h.9M150.2 199.6h.9M175.8 190.6h.9M164.4 193.7h.9M177.9 190.1h.9M165.1 191.9h.9M156.7 192.2h.9M156.2 195.2h.9M150.8 196.6h.9M146.9 183.9h.9M167.4 192.9h.9M151.7 200.4h.9M162.7 186.5h.9M152.0 191.0h.9M163.0 198.2h.9M159.7 181.8h.9M151.8 194.8h.9M149.7 193.8h.9M147.9 188.2h.9M171.7 183.4h.9M169.7 188.2h.9M154.9 183.0h.9M165.3 189.0h.9M186.5 189.4h.9M160.7 198.9h.9M146.6 190.0h.9M145.5 198.3h.9M161.2 201.0h.9M156.5 192.3h.9M161.4 201.7h.9M159.4 190.2h.9M157.4 190.7h.9M155.4 194.6h.9M166.2 199.1h.9M168.4 192.2h.9M165.9 192.0h.9M157.8 191.5h.9M159.8 193.3h.9M157.7 191.5h.9M168.0 193.9h.9M162.4 192.1h.9M172.9 194.4h.9M162.8 185.7h.9M150.2 196.9h.9M156.5 185.6h.9M170.4 197.6h.9M154.2 202.2h.9M150.0 187.9h.9M168.3 195.1h.9M155.2 201.1h.9M156.3 198.8h.9M160.4 201.9h.9M164.2 192.2h.9M175.2 192.9h.9M177.8 187.4h.9M158.5 181.7h.9M163.9 203.0h.9M153.4 197.8h.9M155.3 203.5h.9M161.8 197.1h.9M170.5 185.9h.9M165.9 195.8h.9M172.8 195.2h.9M164.9 194.7h.9M146.6 192.0h.9M155.8 187.1h.9M157.4 192.2h.9M178.8 193.5h.9M159.3 195.5h.9M165.9 185.4h.9M148.3 189.7h.9M171.4 196.8h.9M148.7 199.4h.9M154.3 197.0h.9M146.9 194.4h.9M182.6 182.9h.9M152.3 196.6h.9M155.5 197.6h.9M171.3 188.2h.9M150.5 202.8h.9M180.3 179.1h.9M164.1 200.9h.9M150.2 189.8h.9M150.0 198.1h.9M165.7 200.6h.9M169.1 195.3h.9M176.4 192.9h.9M152.7 195.0h.9M160.9 196.1h.9M155.3 201.0h.9M182.8 192.7h.9M146.1 201.3h.9M159.8 199.2h.9M156.7 201.1h.9M153.3 202.8h.9M168.1 196.3h.9M161.0 188.8h.9M156.0 194.0h.9M173.8 190.9h.9M159.5 192.3h.9M149.3 197.6h.9M169.1 186.5h.9M159.8 198.1h.9M146.0 192.6h.9M161.5 194.5h.9M173.8 189.8h.9M155.2 198.1h.9M157.2 193.5h.9M156.7 197.4h.9M166.6 188.7h.9M147.6 188.3h.9M163.0 184.0h.9M186.2 191.7h.9M158.0 197.9h.9M155.8 193.5h.9M181.6 183.3h.9M161.0 190.6h.9M154.1 194.6h.9M160.3 198.3h.9M151.2 199.4h.9M152.7 199.6h.9M173.5 198.7h.9M160.3 187.5h.9M146.5 197.4h.9M154.3 194.2h.9M153.0 195.1h.9M176.5 189.8h.9M164.0 197.9h.9M150.3 188.5h.9M147.8 198.4h.9M159.9 201.1h.9M162.2 195.7h.9M158.2 196.4h.9M158.6 199.0h.9M148.2 201.4h.9M176.7 194.5h.9M164.6 188.1h.9M159.2 186.5h.9M169.4 195.3h.9M170.4 201.7h.9M149.6 199.8h.9M156.9 198.2h.9M150.7 198.8h.9M164.9 203.6h.9M156.3 195.4h.9M163.8 194.0h.9M181.8 181.9h.9M166.0 195.1h.9M162.9 186.1h.9M164.9 198.2h.9M176.9 199.9h.9M151.0 190.7h.9M156.9 202.4h.9M177.1 195.5h.9M164.9 194.1h.9M149.7 185.5h.9M148.4 203.8h.9M163.9 192.7h.9M146.9 195.1h.9M177.3 198.9h.9M160.4 198.4h.9M171.7 202.8h.9M155.0 189.9h.9M146.8 195.4h.9M154.6 195.1h.9M150.1 203.4h.9M148.2 190.4h.9M155.3 199.1h.9M156.7 195.0h.9M165.8 201.8h.9M154.7 202.3h.9M158.9 189.7h.9M164.1 200.8h.9M160.8 194.9h.9M155.2 199.0h.9M160.4 202.3h.9M157.9 189.6h.9M189.5 196.9h.9M149.6 191.5h.9M159.2 187.2h.9M168.1 195.6h.9M153.3 196.2h.9M162.2 202.0h.9M181.3 191.4h.9M162.4 190.4h.9M159.5 201.8h.9M165.6 193.3h.9M178.9 200.3h.9M172.3 195.5h.9M173.6 194.2h.9M168.2 195.3h.9M158.0 186.0h.9M169.5 198.4h.9M150.9 195.4h.9M165.1 198.8h.9M171.4 195.9h.9M160.5 196.7h.9M153.3 203.9h.9M150.3 191.9h.9M155.4 185.7h.9M170.1 188.1h.9M175.7 200.6h.9M181.6 191.6h.9M154.6 192.4h.9M167.3 189.8h.9M154.3 181.4h.9M158.6 196.3h.9M181.3 190.1h.9M169.4 198.4h.9M168.4 188.5h.9M169.4 196.1h.9M149.9 192.6h.9M176.0 185.2h.9M162.0 204.0h.9M166.7 194.8h.9M151.4 184.2h.9M164.2 191.4h.9M153.6 197.0h.9M156.7 201.7h.9M146.5 185.7h.9M168.5 193.0h.9M164.1 184.8h.9M159.4 187.0h.9M148.2 203.3h.9M175.9 199.1h.9M148.4 192.0h.9M152.2 201.5h.9M164.1 198.5h.9M152.9 192.0h.9M170.8 191.4h.9M154.8 198.4h.9M156.0 200.9h.9M164.8 198.9h.9M185.5 191.8h.9M182.9 187.4h.9M148.8 180.1h.9M150.1 190.3h.9M166.5 202.6h.9M185.6 191.9h.9M170.8 193.9h.9M153.9 183.4h.9M168.4 189.4h.9M165.9 191.0h.9M163.9 189.3h.9M162.6 186.8h.9M148.8 195.9h.9M167.7 187.6h.9M147.3 185.3h.9M179.1 196.8h.9M162.0 192.4h.9M181.0 198.5h.9M156.9 202.4h.9M165.1 193.3h.9M153.8 195.1h.9M174.6 186.4h.9M170.7 203.8h.9M165.0 185.9h.9M167.9 196.1h.9M146.1 185.3h.9M156.3 198.9h.9M168.5 189.5h.9M153.7 199.5h.9M150.5 201.2h.9M165.2 200.5h.9M151.0 199.8h.9M155.6 196.4h.9M165.6 191.6h.9M157.6 180.6h.9M149.9 198.8h.9M145.2 182.1h.9M166.1 198.3h.9M162.8 191.1h.9M152.5 194.5h.9M151.2 202.1h.9M161.7 191.5h.9M163.5 186.6h.9M160.0 193.0h.9M151.3 194.6h.9M160.8 186.1h.9M167.5 191.4h.9M148.3 201.4h.9M151.4 202.7h.9M168.6 197.1h.9M148.3 201.4h.9M162.5 188.4h.9M164.6 194.0h.9M156.7 189.0h.9M160.5 200.3h.9M148.2 199.9h.9M161.2 189.2h.9M159.9 187.0h.9M180.0 197.4h.9M170.8 189.3h.9M173.7 194.0h.9M171.6 197.4h.9M161.9 201.4h.9M151.2 192.5h.9M170.9 197.8h.9M151.8 188.4h.9M175.4 175.2h.9M168.7 194.1h.9M161.5 179.6h.9M147.3 199.7h.9M152.5 194.6h.9M157.1 203.8h.9M161.9 194.0h.9M150.7 201.2h.9M150.1 197.5h.9M162.9 199.6h.9M167.1 196.7h.9M180.8 199.8h.9M149.4 189.4h.9M150.1 203.1h.9M163.0 191.4h.9M146.7 194.4h.9M166.7 194.5h.9M166.3 196.0h.9M173.6 192.0h.9M156.6 188.1h.9M154.4 188.9h.9M165.8 181.3h.9M162.3 198.4h.9M161.8 193.9h.9M149.3 196.1h.9M148.2 193.6h.9M162.6 193.4h.9M171.7 181.7h.9M151.6 192.1h.9M151.8 194.6h.9M156.3 197.2h.9M148.0 196.3h.9M146.7 195.4h.9M161.2 194.7h.9M160.7 199.0h.9M146.1 194.7h.9M169.9 200.7h.9M169.1 189.9h.9M150.6 201.0h.9M158.1 196.8h.9M154.1 200.6h.9M160.0 188.9h.9M162.2 192.9h.9M155.1 198.4h.9M159.7 191.5h.9M156.5 187.7h.9M150.9 195.4h.9M160.9 196.0h.9M147.0 201.6h.9M162.1 187.9h.9M168.8 192.0h.9M156.8 195.6h.9M159.8 188.7h.9M171.7 197.5h.9M161.6 192.4h.9M170.4 198.3h.9M149.0 191.3h.9M191.8 194.3h.9M163.0 199.6h.9M146.6 189.9h.9M176.3 200.6h.9M166.6 194.4h.9M157.5 195.9h.9M162.9 191.3h.9M152.1 189.2h.9M147.2 203.2h.9M150.4 190.4h.9M170.3 194.0h.9M157.6 199.3h.9M170.8 196.5h.9M175.6 190.9h.9M152.2 199.2h.9M165.4 184.5h.9M154.5 199.2h.9M148.5 185.4h.9M155.4 194.7h.9M153.3 191.2h.9M167.7 188.7h.9M151.0 186.5h.9M171.2 186.1h.9M177.5 189.5h.9M146.0 203.0h.9M164.3 197.1h.9M161.8 197.0h.9M175.8 185.3h.9M150.2 200.4h.9M185.6 203.2h.9M163.8 195.6h.9M156.2 189.7h.9M148.2 189.1h.9M162.8 189.4h.9M159.5 187.0h.9M162.3 193.1h.9M157.2 196.3h.9M172.8 196.4h.9M150.7 196.0h.9M162.5 198.3h.9M169.9 190.1h.9M145.2 197.8h.9M188.8 202.7h.9M162.5 193.4h.9M165.9 196.6h.9M161.8 198.5h.9M162.6 192.8h.9M164.4 188.1h.9M153.9 196.6h.9M157.3 197.6h.9M176.8 199.4h.9M146.5 194.9h.9M155.4 189.9h.9M165.5 192.8h.9M160.7 199.0h.9M181.9 191.4h.9M176.2 197.0h.9M149.7 196.1h.9M151.0 192.6h.9M164.0 192.7h.9M158.4 195.9h.9M155.2 196.9h.9M156.0 197.9h.9M148.8 195.6h.9M177.2 190.2h.9M148.9 200.9h.9M161.7 196.1h.9M160.2 192.7h.9M152.0 198.3h.9M160.1 199.1h.9M159.1 203.7h.9M169.3 190.6h.9M176.2 191.7h.9M169.6 190.6h.9M162.2 196.1h.9M174.4 182.1h.9M166.7 192.1h.9M159.2 184.6h.9M153.7 191.2h.9M168.2 196.7h.9M156.3 202.2h.9M150.7 199.8h.9M155.4 198.0h.9M154.7 203.7h.9M167.2 190.2h.9M153.0 203.4h.9M174.9 187.9h.9M160.0 199.0h.9M185.3 199.3h.9M155.8 200.9h.9M159.0 190.0h.9M157.6 193.9h.9M155.7 195.8h.9M162.2 190.5h.9M165.9 185.7h.9M165.8 198.3h.9M163.0 186.2h.9M152.4 196.5h.9M163.5 199.8h.9M170.5 188.3h.9M155.0 193.7h.9M172.5 197.0h.9M159.2 200.5h.9M157.8 203.7h.9M159.8 192.4h.9M156.5 184.7h.9" stroke="#000" stroke-opacity="0.45" stroke-width="0.9" fill="none"/>
<path d="M193.6 188.5h.9M178.9 200.5h.9M179.7 201.3h.9M153.2 201.2h.9M169.3 192.0h.9M170.9 197.3h.9M177.2 181.5h.9M183.1 194.5h.9M150.3 185.6h.9M146.7 201.7h.9M153.5 196.1h.9M161.8 201.8h.9M194.6 202.0h.9M182.9 203.2h.9M202.9 187.5h.9M175.3 189.3h.9M171.1 192.8h.9M172.4 200.3h.9M145.3 173.6h.9M175.4 203.1h.9M213.4 195.2h.9M166.1 198.8h.9M184.8 182.5h.9M179.8 178.0h.9M149.7 196.4h.9M176.2 185.0h.9M194.5 183.8h.9M193.0 198.2h.9M164.2 194.8h.9M169.4 194.9h.9M166.2 188.7h.9M155.4 184.3h.9M182.4 196.6h.9M178.9 186.9h.9M162.6 202.9h.9M200.8 196.7h.9M177.5 173.4h.9M206.7 188.0h.9M158.6 191.7h.9M151.6 200.0h.9M175.9 184.0h.9M181.0 196.4h.9M150.2 195.7h.9M176.4 188.8h.9M172.5 191.0h.9M158.1 190.4h.9M161.7 195.6h.9M165.7 181.0h.9M168.6 193.0h.9M154.1 200.8h.9M177.7 192.2h.9M153.1 197.1h.9M154.5 187.8h.9M160.4 202.4h.9M164.4 193.4h.9M163.5 199.5h.9M166.8 201.4h.9M166.9 201.5h.9M164.1 188.7h.9M177.7 193.1h.9M160.3 188.4h.9M179.6 191.5h.9M163.3 188.8h.9M161.3 199.5h.9M151.8 192.0h.9M154.9 193.1h.9M181.0 197.8h.9M195.8 200.6h.9M178.8 199.4h.9M185.1 186.4h.9M152.5 195.5h.9M163.0 197.3h.9M157.5 198.2h.9M166.4 187.1h.9M173.9 202.6h.9M162.5 195.5h.9M190.1 193.2h.9M163.2 197.2h.9M177.7 198.1h.9M192.7 198.4h.9M146.4 181.6h.9M169.9 191.2h.9M174.4 199.1h.9M192.8 184.4h.9M183.7 196.3h.9M184.8 203.6h.9M178.6 188.4h.9M166.7 203.3h.9M153.0 189.8h.9M188.1 192.5h.9M176.8 173.6h.9M214.6 179.7h.9M178.5 188.2h.9M173.4 187.3h.9M171.5 190.1h.9M149.5 200.5h.9M169.0 195.1h.9M145.4 189.0h.9M163.7 189.9h.9M175.5 195.0h.9M164.7 193.4h.9M176.7 203.0h.9M148.4 202.5h.9M186.0 201.2h.9M158.3 196.5h.9M209.0 183.9h.9M184.8 192.7h.9M200.6 195.9h.9M185.1 189.7h.9M164.1 184.6h.9M180.8 184.8h.9M169.8 192.8h.9M184.5 197.0h.9M182.9 193.2h.9M166.6 199.9h.9M145.2 186.3h.9M147.6 196.8h.9M155.4 200.6h.9M175.5 194.5h.9M186.2 192.7h.9M166.8 197.3h.9M183.8 188.1h.9M160.0 188.6h.9M179.8 198.0h.9M172.6 184.1h.9M153.2 182.9h.9M174.4 198.8h.9M185.2 182.5h.9M178.2 196.6h.9M175.1 188.7h.9M196.2 195.5h.9M157.8 179.9h.9M164.0 183.5h.9M167.6 202.7h.9M190.0 200.7h.9M160.7 185.1h.9M165.7 195.7h.9M166.1 192.2h.9M171.6 182.9h.9M189.1 185.0h.9M171.2 187.5h.9M194.7 190.1h.9M151.2 191.7h.9M185.7 184.6h.9M183.3 170.6h.9M165.5 202.4h.9M166.4 179.4h.9M160.6 199.8h.9M147.5 192.3h.9M156.2 197.9h.9M216.3 195.4h.9M163.3 191.2h.9M178.4 201.0h.9M173.1 197.6h.9M172.3 184.7h.9M183.9 201.9h.9M153.9 180.2h.9M157.3 196.2h.9M196.0 196.5h.9M170.1 196.7h.9M171.6 200.4h.9M155.7 191.1h.9M160.3 198.7h.9M207.3 196.2h.9M172.0 187.1h.9M184.7 190.6h.9M173.7 187.2h.9M181.1 193.4h.9M157.6 201.3h.9M177.3 190.3h.9M172.1 202.7h.9M166.4 191.9h.9M181.2 175.7h.9M200.1 190.5h.9M154.4 197.9h.9M198.5 188.8h.9M185.7 190.4h.9M189.9 198.5h.9M196.9 193.9h.9M185.1 184.1h.9M150.3 198.9h.9M171.1 201.9h.9M213.6 189.5h.9M146.2 185.9h.9M176.5 192.2h.9M182.2 193.2h.9M174.1 194.5h.9M171.1 189.6h.9M172.6 188.6h.9M168.5 191.5h.9M175.7 186.9h.9M167.1 191.2h.9M150.2 194.0h.9M182.7 200.7h.9M175.3 193.6h.9M187.7 192.2h.9M182.4 180.2h.9M145.9 188.5h.9M191.3 192.4h.9M178.2 185.4h.9M169.5 189.0h.9M174.4 192.5h.9M160.2 173.9h.9M173.7 176.1h.9M159.4 181.8h.9M208.3 183.8h.9M161.6 197.6h.9M163.2 196.6h.9M187.5 189.2h.9M179.5 193.4h.9M148.4 203.2h.9M169.6 196.0h.9M188.9 187.6h.9M183.6 198.1h.9M150.9 189.4h.9M160.9 197.6h.9M159.6 193.0h.9M158.1 195.5h.9M223.6 194.2h.9M185.6 184.5h.9M148.7 190.7h.9M229.9 189.2h.9M197.3 190.2h.9M172.8 203.3h.9M153.9 191.1h.9M147.7 188.3h.9M189.8 189.9h.9M148.9 199.5h.9M174.9 194.0h.9M210.4 196.9h.9M192.6 184.0h.9M184.6 202.1h.9M196.9 201.1h.9M196.2 171.0h.9M171.5 201.1h.9M194.2 186.3h.9M190.9 201.0h.9M195.3 201.9h.9M160.5 196.7h.9M219.1 187.2h.9M210.1 198.1h.9M156.1 188.3h.9M200.8 197.1h.9M156.4 192.8h.9M162.0 193.3h.9M206.3 188.6h.9M163.4 168.9h.9M180.0 202.3h.9M211.5 189.2h.9M163.8 191.0h.9M154.0 192.5h.9M173.0 200.7h.9M176.6 198.7h.9M180.4 193.5h.9M189.5 195.6h.9M200.1 180.9h.9M205.8 195.3h.9M174.6 190.4h.9M146.0 200.2h.9M172.0 186.4h.9M193.9 201.7h.9M215.4 196.6h.9M185.5 201.7h.9M183.7 197.6h.9M167.6 192.4h.9M188.7 191.1h.9M179.8 187.5h.9M169.1 203.5h.9M159.3 194.0h.9M182.0 204.0h.9M156.6 192.7h.9M176.8 190.6h.9M171.5 190.9h.9M182.3 189.9h.9M160.3 182.8h.9M154.2 181.8h.9M167.1 202.5h.9M154.3 198.1h.9M163.8 191.5h.9M150.4 192.0h.9M162.8 187.5h.9M199.0 198.3h.9M166.7 196.8h.9M217.1 199.3h.9M159.0 193.9h.9M193.5 198.0h.9M164.4 195.0h.9M147.0 191.5h.9M161.6 192.1h.9M197.9 194.4h.9M193.9 194.1h.9M158.9 193.2h.9M159.9 199.5h.9M151.4 202.3h.9M158.4 199.6h.9M203.5 192.0h.9M171.4 186.2h.9M166.0 182.2h.9M184.8 193.5h.9M194.0 194.1h.9M165.3 187.3h.9M183.1 193.1h.9M145.5 181.8h.9M189.7 193.3h.9M168.6 189.6h.9M159.2 194.0h.9M174.1 184.2h.9M220.8 201.7h.9M193.1 188.7h.9M157.3 194.1h.9M204.0 194.1h.9M197.4 187.6h.9M162.1 199.7h.9M179.1 177.8h.9M147.1 190.5h.9M155.1 188.8h.9M163.2 195.4h.9M151.3 203.9h.9M166.5 181.9h.9M180.0 201.7h.9M179.2 194.5h.9M183.7 202.3h.9M155.7 196.8h.9M186.1 186.5h.9M160.4 176.3h.9M162.9 183.3h.9M171.2 190.1h.9M156.0 191.3h.9M161.5 194.0h.9M164.6 203.4h.9M191.8 173.4h.9M197.6 192.3h.9M177.3 186.6h.9M182.4 198.7h.9M158.5 184.8h.9M180.6 197.6h.9M151.5 176.5h.9M147.3 197.3h.9M196.1 186.0h.9M158.4 185.1h.9M177.3 187.5h.9M204.4 198.8h.9M166.0 190.7h.9M190.8 190.7h.9M162.2 194.9h.9M163.1 184.0h.9M151.6 192.6h.9M183.2 172.5h.9M183.4 197.3h.9M174.3 181.9h.9M172.2 189.8h.9M151.0 198.9h.9M195.6 195.5h.9M182.0 202.1h.9M170.9 190.5h.9M200.6 188.9h.9M164.2 196.7h.9M161.8 186.2h.9M192.5 193.8h.9M156.3 189.2h.9M182.3 200.6h.9M174.5 203.3h.9M188.8 184.6h.9M168.6 196.6h.9M170.1 185.9h.9M180.0 193.4h.9M162.7 201.4h.9M169.8 195.4h.9M189.7 192.1h.9M170.9 193.3h.9M188.8 188.6h.9M178.3 188.0h.9M172.3 202.8h.9M154.8 197.8h.9M172.1 195.7h.9M181.1 194.6h.9M156.9 185.2h.9M185.6 197.1h.9M210.4 188.9h.9M185.1 189.5h.9M161.1 189.1h.9M154.6 186.3h.9M164.3 192.6h.9M171.8 200.5h.9M152.9 193.2h.9M153.4 200.6h.9M152.6 191.1h.9M155.2 202.6h.9M146.8 184.7h.9M163.0 191.1h.9M152.5 203.0h.9M159.9 177.1h.9M166.8 183.3h.9M157.8 189.9h.9M153.0 190.5h.9M162.9 198.9h.9M220.4 188.3h.9M161.7 203.0h.9M204.2 200.2h.9M172.4 203.6h.9" stroke="#000" stroke-opacity="0.3" stroke-width="0.9" fill="none"/>
<path d="M207.5 195.5h.9M214.8 198.4h.9M200.3 191.2h.9M197.5 192.5h.9M212.1 183.6h.9M194.3 197.7h.9M187.7 199.8h.9M196.0 201.6h.9M192.1 199.2h.9M213.2 189.8h.9M203.2 199.3h.9M216.0 195.0h.9M214.4 201.7h.9M217.0 187.3h.9M199.5 195.9h.9M204.8 185.1h.9M203.5 202.3h.9M202.4 186.8h.9M194.5 202.1h.9M198.3 184.7h.9M193.7 195.0h.9M189.6 193.3h.9M200.4 196.9h.9M193.4 187.0h.9M199.8 186.8h.9M203.0 191.3h.9M212.9 186.9h.9M202.0 188.8h.9M188.7 185.8h.9M203.0 193.9h.9M205.0 197.3h.9M186.6 203.4h.9M215.9 188.5h.9M189.8 199.7h.9M186.9 196.5h.9M194.5 203.3h.9M188.6 193.3h.9M188.3 185.7h.9M208.4 199.5h.9M189.3 203.9h.9M189.1 189.2h.9M192.5 188.3h.9M204.3 183.2h.9M211.4 200.1h.9M216.5 196.6h.9M188.5 189.1h.9M188.4 202.6h.9M204.6 198.0h.9M210.1 198.8h.9M216.9 186.8h.9M196.4 192.9h.9M204.8 193.5h.9M192.5 189.6h.9M206.9 184.6h.9M212.1 184.8h.9M198.4 201.3h.9M190.3 193.9h.9M191.1 185.4h.9M204.8 201.9h.9M198.0 202.3h.9M195.0 197.3h.9M213.5 186.7h.9M208.8 188.9h.9M197.5 186.0h.9M214.5 189.1h.9M197.6 200.8h.9M197.8 195.1h.9M204.0 199.6h.9M199.3 201.6h.9M191.8 203.9h.9M184.4 200.1h.9M201.6 201.4h.9M189.4 184.9h.9M210.2 191.7h.9M193.4 200.8h.9M204.4 187.4h.9M203.6 195.6h.9M185.7 194.0h.9M204.3 186.9h.9M214.5 190.9h.9M203.0 189.7h.9M198.7 203.6h.9M197.0 192.8h.9M192.7 191.5h.9M193.7 203.2h.9M215.8 186.0h.9M210.2 201.8h.9M206.8 202.7h.9M193.2 202.2h.9M210.6 197.3h.9M199.7 198.2h.9M216.1 186.7h.9M184.9 196.4h.9M186.2 201.9h.9M213.0 203.9h.9M188.5 192.0h.9M186.1 197.8h.9M187.9 185.3h.9M191.0 186.4h.9M213.6 202.3h.9M207.8 197.7h.9M198.7 187.3h.9M190.5 184.7h.9M187.1 188.9h.9M202.8 184.5h.9M203.1 193.5h.9M194.4 184.7h.9M197.7 200.9h.9M209.1 197.9h.9M194.3 186.6h.9M210.2 184.8h.9M199.7 190.6h.9M190.5 184.1h.9M194.3 195.0h.9M201.0 200.1h.9M205.7 203.2h.9M191.7 189.4h.9M196.0 186.0h.9M193.5 193.5h.9M197.2 189.1h.9M210.4 198.3h.9M215.3 194.4h.9M203.8 195.5h.9M215.4 189.9h.9M213.0 193.6h.9M210.1 199.5h.9M193.9 195.5h.9M199.4 186.5h.9M197.0 203.0h.9M195.5 185.7h.9M207.4 192.9h.9M204.8 185.7h.9M201.8 192.4h.9M203.5 193.0h.9M202.8 203.8h.9M187.9 184.1h.9M195.9 185.5h.9M185.1 198.7h.9M212.4 183.1h.9M190.3 187.4h.9M196.9 203.8h.9M186.7 191.2h.9M201.9 187.2h.9M195.5 197.8h.9M207.2 199.7h.9M207.8 190.0h.9M188.6 183.3h.9M206.6 199.7h.9M207.9 195.7h.9M197.9 184.0h.9M199.3 185.3h.9M194.0 199.1h.9M203.9 201.8h.9M213.3 198.2h.9M215.8 186.2h.9M209.2 196.3h.9M202.7 185.5h.9M201.0 202.0h.9M208.3 202.5h.9M210.5 184.4h.9M197.6 200.7h.9M208.5 193.3h.9M199.5 191.3h.9M196.5 190.4h.9M200.0 195.4h.9M189.2 186.6h.9M205.5 195.1h.9M200.7 193.9h.9M196.0 203.9h.9M194.1 194.2h.9M194.2 195.6h.9M194.4 191.9h.9M185.6 190.1h.9M199.4 195.9h.9M210.3 184.1h.9M195.0 188.1h.9M199.7 202.0h.9M215.6 198.2h.9M215.8 193.5h.9M205.0 185.8h.9M208.6 188.6h.9M202.8 187.9h.9M201.4 191.3h.9M213.9 194.0h.9M210.1 188.4h.9M201.1 194.1h.9M194.6 191.7h.9M184.7 186.2h.9M195.3 197.3h.9M203.8 198.0h.9M187.1 187.6h.9M215.5 185.9h.9M189.9 194.7h.9M199.7 201.3h.9M213.1 195.3h.9M199.3 192.3h.9M217.6 185.3h.9M200.4 199.0h.9M206.8 185.0h.9M211.6 202.5h.9M209.4 186.6h.9M214.5 186.0h.9M184.5 197.7h.9M207.5 199.4h.9M202.0 184.5h.9M185.3 196.6h.9M209.9 190.3h.9M210.0 191.0h.9M199.5 197.4h.9M207.4 196.6h.9M188.7 197.5h.9M210.5 198.8h.9M205.4 195.5h.9M192.3 203.9h.9M217.1 188.4h.9M206.3 198.8h.9M200.1 189.1h.9M196.0 186.3h.9M211.3 193.9h.9M218.0 187.5h.9M217.4 196.6h.9M202.7 185.2h.9M186.3 193.4h.9M188.1 196.3h.9M192.0 202.3h.9M206.0 184.0h.9M213.3 197.3h.9M191.3 190.9h.9M207.0 201.8h.9M197.6 200.0h.9M216.0 203.0h.9M205.0 200.2h.9M186.5 198.0h.9M213.0 190.3h.9M212.9 190.4h.9M212.4 189.9h.9M202.9 196.1h.9M188.1 184.8h.9M195.9 192.1h.9M205.7 203.2h.9M216.0 185.7h.9M208.1 185.5h.9M186.2 185.1h.9M214.4 197.9h.9M201.7 195.1h.9M205.3 185.2h.9M200.2 202.1h.9M185.1 197.9h.9M186.5 194.2h.9M190.0 184.6h.9M186.2 192.0h.9M217.1 186.1h.9M199.0 189.4h.9M196.4 187.6h.9M197.5 203.6h.9M188.8 200.4h.9M211.0 192.7h.9M207.5 194.6h.9M217.7 184.1h.9M209.8 200.2h.9M206.2 203.4h.9M185.8 195.9h.9M209.4 184.5h.9M202.2 200.2h.9M206.8 191.0h.9M211.8 202.2h.9M191.8 188.2h.9M211.9 198.9h.9M198.6 203.8h.9M217.2 195.5h.9M196.9 184.9h.9M184.4 191.2h.9M198.7 184.8h.9M191.6 201.2h.9M209.4 190.5h.9M187.6 202.6h.9M214.7 199.0h.9M207.2 197.4h.9M193.2 194.7h.9M184.1 189.8h.9M190.3 185.3h.9M208.6 192.3h.9M194.8 199.4h.9M205.8 197.2h.9M214.7 186.9h.9M199.3 184.5h.9M209.0 198.8h.9M185.1 190.2h.9M186.4 200.2h.9M204.6 188.2h.9M207.8 202.6h.9M213.8 191.1h.9M184.8 190.7h.9M193.0 197.8h.9M195.3 200.8h.9M193.5 201.8h.9M215.6 194.4h.9M185.2 199.6h.9M213.1 185.8h.9M208.8 184.9h.9M194.8 189.1h.9M189.3 196.5h.9M217.5 193.6h.9M216.1 188.6h.9M188.4 188.9h.9M211.8 189.9h.9M195.8 201.3h.9M204.7 191.3h.9M213.6 186.0h.9M190.8 196.0h.9M200.8 197.4h.9M211.7 197.4h.9M190.0 198.2h.9M192.0 185.0h.9M194.1 191.1h.9M201.2 185.5h.9M205.5 191.0h.9M217.6 193.1h.9M212.3 200.0h.9M204.6 196.9h.9M186.9 202.1h.9M216.9 202.3h.9M186.8 187.5h.9M194.7 186.7h.9M192.7 185.0h.9M203.9 201.3h.9M195.4 200.5h.9M213.5 195.1h.9M213.4 188.3h.9M204.8 196.5h.9M184.1 203.7h.9M192.9 193.9h.9M210.9 193.1h.9M188.3 203.8h.9M213.6 193.4h.9M195.0 183.1h.9M194.6 203.6h.9M209.7 186.1h.9M206.1 184.8h.9M200.7 203.0h.9M184.9 193.5h.9M216.9 185.1h.9M199.3 199.8h.9M212.7 194.2h.9M203.7 194.4h.9M206.9 203.6h.9M206.4 187.7h.9M191.9 193.3h.9M206.7 199.7h.9M193.3 187.0h.9" stroke="#000" stroke-opacity="0.35" stroke-width="0.9" fill="none"/>
<ellipse cx="224" cy="196" rx="4" ry="7" fill="#000" fill-opacity="0.6" filter="url(#b1.5)"/>
<path d="M230.4 200.9h.9M224.6 195.2h.9M216.4 199.3h.9M227.5 194.4h.9M222.7 197.5h.9M226.0 198.2h.9M225.9 185.2h.9M221.6 184.3h.9M220.5 194.0h.9M225.2 190.4h.9M231.6 196.2h.9M226.2 190.1h.9M229.9 193.2h.9M220.5 193.5h.9M229.0 189.8h.9M223.0 200.4h.9M222.8 200.5h.9M229.5 191.7h.9M218.8 187.3h.9M229.7 198.4h.9M224.4 192.4h.9M228.8 191.8h.9M236.1 196.9h.9M216.9 201.6h.9M225.2 194.8h.9M223.2 202.5h.9M220.7 200.6h.9M217.4 201.0h.9M219.7 193.3h.9M227.4 189.9h.9M226.4 194.8h.9M229.8 200.6h.9M225.1 193.6h.9M220.0 203.8h.9M223.0 186.9h.9M220.5 182.9h.9M220.1 192.0h.9M225.1 200.6h.9M227.6 183.3h.9M221.9 198.6h.9M225.5 194.7h.9M220.5 199.3h.9M223.6 193.2h.9M223.5 193.4h.9M225.3 201.8h.9M224.3 190.8h.9M223.4 193.8h.9M226.1 199.6h.9M231.2 200.5h.9M216.5 189.4h.9M218.4 196.7h.9M234.3 197.7h.9M221.5 203.6h.9M226.7 189.6h.9M227.3 181.6h.9M220.6 198.3h.9M218.0 194.7h.9M220.1 184.2h.9M221.6 191.4h.9M225.2 183.9h.9M225.1 192.5h.9M216.8 202.4h.9M221.9 197.4h.9M230.8 197.4h.9M228.1 196.1h.9M221.3 196.0h.9M216.9 197.8h.9M227.6 197.5h.9M220.9 187.1h.9M220.6 193.0h.9M220.3 195.6h.9M221.8 195.6h.9M214.3 188.3h.9M223.8 194.5h.9M225.6 191.4h.9M227.5 196.2h.9M223.7 194.9h.9M228.6 194.6h.9M230.8 195.6h.9M225.0 194.8h.9M225.2 197.7h.9M221.1 199.8h.9M235.3 198.2h.9M224.4 189.7h.9M220.5 189.6h.9M225.0 190.4h.9M231.0 192.1h.9M219.9 189.0h.9M223.4 193.9h.9M228.0 190.2h.9M225.4 200.8h.9M222.6 183.8h.9M224.9 201.3h.9M225.6 194.8h.9M223.0 187.3h.9M222.4 195.8h.9M224.1 189.1h.9M234.6 202.7h.9M228.3 198.8h.9M222.1 187.4h.9M218.2 201.6h.9M213.8 203.2h.9M225.9 191.3h.9M227.8 190.6h.9M222.6 198.1h.9M224.6 196.6h.9M224.8 201.3h.9M220.1 182.1h.9M219.8 179.5h.9M232.5 190.6h.9M223.7 196.9h.9M220.4 191.6h.9M225.0 194.8h.9M227.5 193.2h.9M220.9 185.5h.9M216.3 196.4h.9M225.2 192.2h.9M229.3 177.7h.9M226.7 187.2h.9M222.3 193.3h.9M220.5 193.0h.9M223.8 199.3h.9M227.5 188.8h.9M226.0 192.2h.9M227.8 191.1h.9M228.6 189.1h.9M221.7 200.1h.9M228.4 200.3h.9M232.7 201.3h.9M223.8 200.7h.9M220.1 199.9h.9M225.6 193.8h.9M220.6 201.5h.9M214.9 193.7h.9M217.5 192.6h.9M221.9 189.5h.9M221.1 196.6h.9M223.0 192.1h.9M226.6 189.5h.9M217.2 200.9h.9M225.3 185.5h.9M225.1 197.9h.9M224.1 186.1h.9M211.3 188.7h.9M226.7 194.6h.9M225.5 202.0h.9M221.5 202.8h.9M225.0 196.1h.9M225.8 196.8h.9M221.7 193.1h.9M213.3 184.3h.9M226.4 194.2h.9M223.4 192.4h.9M226.6 190.6h.9M217.2 184.4h.9M220.3 196.8h.9M230.3 198.4h.9M220.8 186.3h.9M227.5 198.0h.9M223.6 198.7h.9M226.5 198.0h.9M229.8 185.0h.9M220.9 191.4h.9M225.4 197.5h.9M227.4 193.3h.9M227.6 193.5h.9M227.2 198.3h.9M229.7 185.1h.9M219.7 189.9h.9M220.2 197.2h.9M228.2 192.5h.9M228.6 200.4h.9M221.2 199.0h.9M230.3 191.7h.9M214.1 198.3h.9M225.1 198.7h.9M226.2 194.5h.9M223.8 189.7h.9M223.2 189.4h.9M224.1 189.6h.9M228.1 196.4h.9M220.3 193.4h.9M224.6 187.7h.9M225.2 203.0h.9M228.6 202.8h.9M227.2 194.3h.9M226.6 202.7h.9M224.1 198.2h.9M221.1 194.9h.9M221.7 188.0h.9M216.4 191.8h.9M224.8 190.1h.9M224.6 200.3h.9M216.7 194.2h.9M226.5 198.5h.9M232.0 196.2h.9M229.4 191.3h.9M219.9 191.5h.9M222.0 200.6h.9M227.3 195.0h.9M219.9 195.8h.9M222.1 192.5h.9M235.9 195.2h.9M233.8 192.3h.9M236.3 194.6h.9M215.8 194.9h.9M224.8 185.2h.9M224.7 189.3h.9M227.7 181.3h.9M219.6 187.5h.9M224.4 201.6h.9M222.6 186.6h.9M221.7 193.9h.9M229.1 195.7h.9M230.1 176.7h.9M217.0 201.0h.9M218.2 191.0h.9M226.2 196.4h.9M225.3 193.8h.9M215.7 184.5h.9M220.2 188.5h.9M221.9 184.0h.9M223.4 198.1h.9M221.7 203.6h.9M224.9 200.9h.9M220.0 196.3h.9M217.6 182.7h.9M216.1 192.3h.9M225.4 192.5h.9M228.7 195.7h.9M224.0 195.8h.9M217.6 195.6h.9M221.9 195.1h.9M234.6 193.5h.9M213.0 200.5h.9M221.8 189.0h.9M228.6 196.6h.9M222.9 196.4h.9M223.2 196.0h.9M215.1 187.1h.9M218.2 180.8h.9M218.7 191.7h.9M223.1 194.4h.9M222.0 201.7h.9M214.7 191.5h.9M222.9 189.3h.9M230.1 194.2h.9M228.9 198.5h.9M222.7 201.3h.9M217.4 187.0h.9M222.2 179.4h.9M222.0 193.6h.9M216.1 188.2h.9M229.6 198.8h.9M224.9 203.5h.9M224.4 203.0h.9M228.7 191.3h.9M226.7 202.2h.9M225.3 192.2h.9M227.9 202.4h.9M223.9 198.3h.9M224.6 196.6h.9M225.6 192.3h.9M227.3 197.3h.9M231.8 196.9h.9M224.5 187.0h.9M234.1 193.4h.9M221.7 193.1h.9M224.0 194.3h.9M231.6 191.8h.9M222.9 192.0h.9M226.7 184.3h.9M228.5 192.5h.9M218.0 199.5h.9M224.1 190.6h.9M216.5 190.3h.9M227.4 194.4h.9M221.4 201.2h.9M224.1 195.4h.9M220.1 185.9h.9M221.9 196.8h.9M222.1 196.9h.9M222.8 193.3h.9M223.8 197.1h.9M213.9 194.8h.9M223.1 192.0h.9M228.4 202.3h.9M229.1 199.6h.9M226.0 195.7h.9M227.4 190.6h.9M223.4 196.9h.9M223.3 186.8h.9M223.5 192.1h.9M221.1 198.8h.9M228.8 195.4h.9M218.8 193.7h.9M223.1 188.0h.9M221.2 195.7h.9M221.3 197.6h.9M218.1 199.0h.9M220.8 195.6h.9M224.0 191.5h.9M228.6 183.3h.9M224.8 198.9h.9M222.8 194.4h.9M218.8 194.5h.9M224.7 190.9h.9M224.0 192.4h.9M219.3 194.2h.9M220.4 200.4h.9M220.4 203.7h.9M223.8 194.6h.9M220.6 197.5h.9M219.3 184.8h.9M225.9 181.3h.9M229.1 191.3h.9M231.0 196.2h.9M231.3 185.3h.9M221.9 196.4h.9M221.4 195.1h.9M223.2 198.9h.9M230.4 180.8h.9M226.7 187.3h.9M231.3 185.2h.9M220.1 198.0h.9M223.1 199.1h.9M225.6 189.8h.9M216.5 202.1h.9M222.9 194.0h.9M222.5 193.0h.9M220.6 195.0h.9M225.0 186.7h.9M216.8 198.2h.9M227.9 191.2h.9M223.2 191.5h.9M225.7 194.2h.9M221.4 189.8h.9M225.9 197.0h.9M222.0 197.2h.9M209.9 191.9h.9M224.7 181.7h.9M221.3 196.2h.9M229.6 197.1h.9M218.3 200.3h.9M222.6 199.9h.9M217.6 184.2h.9M216.7 198.4h.9M229.3 196.2h.9M224.7 193.9h.9M224.8 188.1h.9M229.5 199.8h.9M228.3 194.1h.9M227.7 200.9h.9M235.3 201.5h.9M220.5 189.6h.9M227.9 197.8h.9M226.4 195.0h.9M220.2 195.6h.9M217.3 196.4h.9M234.3 199.3h.9M220.0 189.1h.9M234.9 198.8h.9M221.6 198.3h.9M222.4 187.9h.9M224.6 197.9h.9M229.8 186.7h.9M230.7 193.1h.9M214.9 201.0h.9M228.5 198.1h.9M227.7 189.0h.9M226.3 184.2h.9M231.5 197.2h.9M226.2 195.2h.9M226.8 196.0h.9M219.7 192.4h.9M215.2 189.1h.9M223.2 197.1h.9M234.2 184.3h.9M233.6 192.0h.9M222.0 194.2h.9" stroke="#000" stroke-opacity="0.45" stroke-width="0.9" fill="none"/>
<path d="M229.7 159.9h.9M221.8 168.7h.9M225.9 167.8h.9M223.3 171.0h.9M220.0 174.2h.9M221.5 167.8h.9M220.1 162.4h.9M226.0 168.8h.9M222.4 170.1h.9M232.8 152.6h.9M216.7 166.7h.9M217.7 171.2h.9M220.4 165.7h.9M220.4 176.8h.9M227.7 156.6h.9M225.0 164.1h.9M227.5 167.5h.9M220.7 163.4h.9M223.1 174.9h.9M223.3 162.9h.9M221.8 170.3h.9M222.0 175.2h.9M225.7 166.6h.9M223.3 164.0h.9M215.7 172.1h.9M227.6 164.7h.9M223.8 158.5h.9M222.4 166.7h.9M222.7 166.0h.9M226.0 169.6h.9M225.4 162.7h.9M221.4 165.8h.9M218.1 158.0h.9M224.0 165.8h.9M223.2 172.2h.9M216.4 168.0h.9M222.3 158.7h.9M225.0 173.3h.9M218.4 166.0h.9M226.0 166.0h.9M221.6 171.0h.9M217.7 165.5h.9M221.0 165.4h.9M219.1 166.7h.9M226.8 168.2h.9M219.0 163.0h.9M220.7 157.8h.9M225.2 168.5h.9M222.4 173.7h.9M225.2 162.6h.9M223.1 165.0h.9M223.0 172.9h.9M226.9 160.6h.9M229.0 157.2h.9M222.2 178.9h.9M225.1 172.1h.9M223.4 168.5h.9M221.0 173.7h.9M222.4 163.0h.9M218.4 177.6h.9M218.4 160.3h.9M224.5 166.0h.9M228.3 169.2h.9M224.0 161.6h.9M224.7 158.1h.9M220.7 173.3h.9M223.8 159.6h.9M221.0 165.1h.9M224.0 166.9h.9M225.5 149.9h.9M225.2 155.8h.9M221.6 166.5h.9M226.2 162.5h.9M218.9 161.4h.9M223.8 178.8h.9M219.2 163.1h.9M220.8 171.9h.9M224.7 165.0h.9M223.9 174.4h.9M222.1 159.8h.9M223.1 159.2h.9M223.7 170.5h.9M221.9 170.9h.9M226.7 175.8h.9M221.9 169.0h.9M225.5 170.2h.9M225.9 168.5h.9M225.2 170.8h.9M224.5 169.0h.9M223.9 165.6h.9M217.4 165.5h.9M223.1 163.0h.9M221.7 172.7h.9M222.2 153.8h.9M221.4 165.3h.9M226.8 167.5h.9M224.6 163.0h.9M221.3 157.4h.9M225.0 166.1h.9M220.9 166.2h.9M226.4 170.9h.9M225.5 172.1h.9M223.8 166.0h.9M223.0 168.5h.9M217.8 167.5h.9M223.1 161.2h.9M221.3 172.2h.9M221.8 165.4h.9M227.6 160.8h.9M222.9 163.7h.9M221.5 165.0h.9M224.7 164.5h.9M225.9 169.9h.9M219.8 166.2h.9M222.5 159.0h.9M217.6 171.3h.9M223.9 172.5h.9M227.8 170.1h.9M224.2 172.8h.9M222.6 163.8h.9M226.0 169.4h.9M221.5 163.7h.9M219.2 177.1h.9M221.9 163.3h.9M221.2 163.2h.9M223.4 166.2h.9M225.4 152.6h.9M223.4 174.9h.9M223.2 162.8h.9M229.1 163.2h.9M225.1 167.2h.9M222.6 160.6h.9M223.5 167.0h.9M228.6 157.8h.9M218.3 168.9h.9M218.5 150.8h.9M222.0 172.0h.9M217.5 157.9h.9M227.5 161.2h.9M220.3 165.0h.9M227.9 164.9h.9M225.4 165.0h.9M219.8 167.3h.9M217.5 171.4h.9M218.1 166.7h.9M216.5 165.4h.9M224.3 161.9h.9M228.9 165.9h.9M224.3 158.0h.9M221.5 167.1h.9" stroke="#000" stroke-opacity="0.45" stroke-width="0.9" fill="none"/>
</g>
<text x="149.0" y="140.7" font-size="4.6" font-weight="normal" text-anchor="start" fill="#444" >Q1-1</text>
<text x="226.0" y="140.7" font-size="4.6" font-weight="normal" text-anchor="start" fill="#444" >Q2-1</text>
<text x="229.5" y="199.5" font-size="4.6" font-weight="normal" text-anchor="start" fill="#444" >Q4-1</text>
<text x="159.0" y="151.0" font-size="6.8" font-weight="bold" text-anchor="start" fill="#000"  stroke="#000" stroke-width="0.3">0%</text>
<text x="210.0" y="151.0" font-size="6.8" font-weight="bold" text-anchor="start" fill="#000"  stroke="#000" stroke-width="0.3">1.4%</text>
<text x="191.0" y="222.0" font-size="6.9" font-weight="bold" text-anchor="middle" fill="#000"  stroke="#000" stroke-width="0.3">TIA / GMP-17 - PE</text>
<text x="68.0" y="237.5" font-size="6.9" font-weight="bold" text-anchor="middle" fill="#000"  stroke="#000" stroke-width="0.3">PHI CD3+CD4+CD8- + CMV</text>
<path d="M20.9 309.3h3M20.9 307.5h3M20.9 306.1h3M20.9 304.9h3M20.9 303.8h3M20.9 302.8h3M20.9 296.5h3M20.9 293.2h3M20.9 290.9h3M20.9 289.1h3M20.9 287.7h3M20.9 286.5h3M20.9 285.4h3M20.9 284.4h3M20.9 278.1h3M20.9 274.8h3M20.9 272.5h3M20.9 270.7h3M20.9 269.3h3M20.9 268.1h3M20.9 267.0h3M20.9 266.0h3M20.9 259.7h3M20.9 256.4h3M20.9 254.1h3M20.9 252.3h3M20.9 250.9h3M20.9 249.7h3M20.9 248.6h3M20.9 247.6h3M20.9 241.3h3M19.4 302.0h4.5M19.4 283.6h4.5M19.4 265.2h4.5M19.4 246.8h4.5" stroke="#555" stroke-width="0.8" fill="none"/>
<text x="18.2" y="302.2" font-size="3.8" font-weight="normal" text-anchor="end" fill="#333" >10<tspan font-size="2.8" dy="-1.7">1</tspan></text>
<text x="18.2" y="283.8" font-size="3.8" font-weight="normal" text-anchor="end" fill="#333" >10<tspan font-size="2.8" dy="-1.7">2</tspan></text>
<text x="18.2" y="265.4" font-size="3.8" font-weight="normal" text-anchor="end" fill="#333" >10<tspan font-size="2.8" dy="-1.7">3</tspan></text>
<text x="18.2" y="247.0" font-size="3.8" font-weight="normal" text-anchor="end" fill="#333" >10<tspan font-size="2.8" dy="-1.7">4</tspan></text>
<line x1="22.4" y1="311.7" x2="123.5" y2="311.7" stroke="#222" stroke-width="0.9"/>
<path d="M24.3 311.7v2M27.4 311.7v2M29.7 311.7v2M31.7 311.7v2M33.3 311.7v2M34.7 311.7v2M36.0 311.7v2M44.5 311.7v2M48.8 311.7v2M51.8 311.7v2M54.2 311.7v2M56.1 311.7v2M57.8 311.7v2M59.2 311.7v2M60.4 311.7v2M68.9 311.7v2M73.2 311.7v2M76.2 311.7v2M78.6 311.7v2M80.5 311.7v2M82.2 311.7v2M83.6 311.7v2M84.8 311.7v2M93.4 311.7v2M97.7 311.7v2M100.7 311.7v2M103.1 311.7v2M105.0 311.7v2M106.7 311.7v2M108.1 311.7v2M109.3 311.7v2M117.9 311.7v2M37.1 311.7v3.2M61.5 311.7v3.2M86.0 311.7v3.2M110.5 311.7v3.2" stroke="#555" stroke-width="0.7" fill="none"/>
<text x="37.9" y="320.0" font-size="4.2" font-weight="normal" text-anchor="middle" fill="#333" >10<tspan font-size="3" dy="-1.9">2</tspan></text>
<text x="62.3" y="320.0" font-size="4.2" font-weight="normal" text-anchor="middle" fill="#333" >10<tspan font-size="3" dy="-1.9">3</tspan></text>
<text x="86.8" y="320.0" font-size="4.2" font-weight="normal" text-anchor="middle" fill="#333" >10<tspan font-size="3" dy="-1.9">4</tspan></text>
<text x="111.3" y="320.0" font-size="4.2" font-weight="normal" text-anchor="middle" fill="#333" >10<tspan font-size="3" dy="-1.9">5</tspan></text>
<line x1="48.8" y1="238.8" x2="48.8" y2="311.7" stroke="#999" stroke-width="1.2"/>
<line x1="22.4" y1="283.5" x2="121.5" y2="283.5" stroke="#999" stroke-width="1.1"/>
<clipPath id="cp2612"><rect x="23.9" y="238.8" width="97.6" height="72.39999999999998"/></clipPath><g clip-path="url(#cp2612)">
<rect x="44" y="289.5" width="26" height="24.5" rx="6" fill="#000" fill-opacity="0.85" filter="url(#b2)"/>
<path d="M63.5 303.5h.9M45.0 292.5h.9M47.4 306.4h.9M41.9 293.8h.9M58.1 300.1h.9M56.4 296.0h.9M59.9 299.8h.9M55.4 301.6h.9M55.0 299.4h.9M66.7 304.1h.9M57.6 301.1h.9M68.7 293.2h.9M40.4 300.5h.9M42.2 294.7h.9M58.9 301.4h.9M54.0 296.3h.9M44.4 296.5h.9M49.9 300.2h.9M64.9 298.8h.9M47.3 302.6h.9M67.4 302.0h.9M53.1 298.3h.9M54.2 294.8h.9M64.8 298.7h.9M73.5 306.8h.9M52.9 296.2h.9M41.7 300.4h.9M60.3 298.4h.9M56.0 302.8h.9M50.2 300.1h.9M54.7 308.4h.9M62.7 299.8h.9M48.2 299.6h.9M50.1 298.4h.9M59.9 304.7h.9M65.6 297.3h.9M58.5 300.2h.9M65.6 305.2h.9M59.0 303.1h.9M40.0 302.2h.9M55.7 300.1h.9M59.3 294.0h.9M53.7 304.8h.9M63.0 301.4h.9M61.6 296.2h.9M69.8 289.4h.9M54.0 296.4h.9M53.0 301.6h.9M57.9 305.6h.9M73.2 303.1h.9M49.1 300.5h.9M50.4 296.2h.9M53.5 305.4h.9M50.2 302.2h.9M50.6 305.0h.9M66.8 292.8h.9M63.3 295.8h.9M59.8 299.9h.9M64.2 293.8h.9M73.2 302.3h.9M51.5 307.1h.9M68.6 303.2h.9M52.7 296.2h.9M49.4 309.0h.9M57.5 300.3h.9M53.9 306.9h.9M54.0 305.0h.9M41.8 296.3h.9M59.8 295.4h.9M73.3 289.6h.9M60.3 303.3h.9M60.8 300.1h.9M59.3 297.2h.9M34.0 310.3h.9M56.8 310.0h.9M56.8 306.3h.9M68.6 297.5h.9M37.4 306.7h.9M73.4 292.5h.9M52.7 300.0h.9M54.8 303.7h.9M56.0 303.6h.9M50.1 292.1h.9M72.5 301.8h.9M60.4 294.3h.9M60.9 300.2h.9M61.1 301.1h.9M65.9 307.9h.9M54.0 298.5h.9M63.2 292.8h.9M51.0 298.5h.9M39.2 310.6h.9M54.7 299.3h.9M47.0 303.4h.9M53.2 294.2h.9M59.9 308.6h.9M44.4 300.3h.9M75.5 299.4h.9M51.0 309.0h.9M59.0 305.4h.9M71.0 303.9h.9M59.8 310.7h.9M44.3 294.5h.9M55.1 297.2h.9M55.6 290.5h.9M43.3 304.3h.9M55.3 302.7h.9M53.7 300.4h.9M44.2 309.9h.9M65.9 293.4h.9M53.2 302.4h.9M53.4 300.2h.9M58.8 290.7h.9M63.4 303.0h.9M48.8 299.5h.9M56.2 299.1h.9M57.4 292.4h.9M57.5 302.7h.9M60.3 302.9h.9M52.2 301.2h.9M65.2 300.9h.9M58.9 300.8h.9M61.5 293.7h.9M56.5 305.0h.9M49.4 303.5h.9M53.1 298.2h.9M47.5 295.7h.9M67.0 292.8h.9M58.2 293.2h.9M74.1 304.2h.9M50.3 294.4h.9M54.7 302.3h.9M71.1 308.2h.9M48.7 301.8h.9M64.9 296.7h.9M53.0 305.4h.9M45.3 300.7h.9M56.4 299.0h.9M57.2 291.8h.9M64.0 298.1h.9M53.1 310.8h.9M69.0 296.2h.9M54.8 306.9h.9M50.8 298.6h.9M35.7 293.0h.9M47.1 296.7h.9M50.8 301.9h.9M59.2 298.5h.9M45.4 301.8h.9M62.2 300.2h.9M68.7 298.1h.9M64.1 301.9h.9M68.2 309.2h.9M47.1 290.9h.9M65.7 302.2h.9M59.9 298.1h.9M50.7 306.9h.9M61.0 297.6h.9M57.4 302.1h.9M45.9 297.1h.9M61.3 301.3h.9M45.3 302.2h.9M73.9 303.8h.9M45.8 298.1h.9M51.8 296.4h.9M50.0 297.4h.9M56.3 293.9h.9M64.8 302.2h.9M73.5 305.0h.9M65.1 303.3h.9M56.1 294.8h.9M62.7 301.0h.9M51.5 302.7h.9M59.8 297.1h.9M69.3 298.0h.9M58.1 306.2h.9M52.6 298.9h.9M60.9 298.8h.9M52.8 294.6h.9M59.0 298.5h.9M64.0 305.9h.9M56.8 304.7h.9M51.1 309.1h.9M52.3 299.9h.9M53.9 297.9h.9M63.7 300.5h.9M49.5 304.7h.9M57.3 303.6h.9M58.8 298.1h.9M41.8 299.0h.9M49.5 307.0h.9M55.2 308.4h.9M76.4 306.7h.9M77.2 295.6h.9M52.8 295.1h.9M45.7 293.8h.9M64.5 296.4h.9M54.3 303.6h.9M53.6 308.8h.9M67.1 304.4h.9M71.1 303.4h.9M58.6 306.4h.9M65.9 293.4h.9M66.4 306.0h.9M58.4 308.1h.9M47.1 301.7h.9M51.2 296.2h.9M59.4 293.0h.9M56.8 304.3h.9M50.7 294.8h.9M61.8 305.5h.9M64.8 297.8h.9M53.6 307.9h.9M64.4 302.3h.9M59.0 299.8h.9M62.2 304.3h.9M57.4 302.0h.9M45.4 299.9h.9M70.4 301.8h.9M45.5 298.2h.9M57.8 308.3h.9M75.1 300.4h.9M55.8 301.3h.9M47.7 307.6h.9M47.0 304.5h.9M53.2 295.2h.9M59.8 309.5h.9M46.9 301.8h.9M51.2 306.3h.9M44.7 293.9h.9M53.8 293.8h.9M65.3 292.8h.9M57.6 298.0h.9M65.4 297.9h.9M55.4 309.6h.9M62.5 307.3h.9M69.0 303.3h.9M59.7 291.8h.9M42.5 298.5h.9M59.5 306.5h.9M50.6 298.9h.9M74.5 294.8h.9M55.5 300.1h.9M51.2 308.5h.9M43.6 299.1h.9M42.9 296.9h.9M70.1 290.1h.9M42.9 300.7h.9M60.1 296.8h.9M60.7 299.6h.9M53.8 301.1h.9M67.3 294.4h.9M64.3 302.1h.9M55.3 296.8h.9M59.9 304.9h.9M49.1 304.5h.9M57.3 305.0h.9M59.3 299.6h.9M58.8 304.1h.9M44.8 300.7h.9M36.6 301.7h.9M53.0 300.8h.9M65.4 305.6h.9M69.0 305.6h.9M55.2 296.5h.9M78.8 297.1h.9M54.0 302.9h.9M50.1 301.5h.9M58.8 297.8h.9M48.3 300.8h.9M60.6 295.4h.9M58.2 301.2h.9M49.5 302.8h.9M45.5 305.4h.9M51.0 306.0h.9M57.9 301.0h.9M45.7 304.6h.9M60.7 301.7h.9M57.3 304.3h.9M60.9 302.7h.9M64.4 299.9h.9M70.6 292.7h.9M43.2 303.7h.9M56.8 292.7h.9M46.9 296.9h.9M67.7 304.1h.9M43.1 293.5h.9M58.2 294.1h.9M51.8 297.6h.9M57.4 303.7h.9M51.1 297.9h.9M59.3 309.2h.9M60.5 298.7h.9M64.9 299.9h.9M45.5 304.1h.9M70.8 294.7h.9M63.5 294.2h.9M56.3 300.0h.9M54.1 300.1h.9M62.7 298.0h.9M55.1 299.0h.9M59.3 297.2h.9M63.6 302.2h.9M52.0 293.9h.9M54.8 306.0h.9M62.4 300.7h.9M74.1 308.8h.9M61.4 308.0h.9M54.9 298.7h.9M59.0 290.7h.9M57.3 298.0h.9M68.4 303.6h.9M70.2 298.3h.9M69.5 301.4h.9M61.5 302.8h.9M46.4 305.4h.9M53.2 304.0h.9M56.6 295.4h.9M54.4 302.2h.9M54.5 309.6h.9M67.3 301.1h.9M54.0 308.3h.9M57.4 306.8h.9M45.6 290.1h.9M63.5 305.5h.9M55.7 299.7h.9M61.0 303.4h.9M56.4 300.7h.9M59.0 306.3h.9M63.1 286.9h.9M60.1 299.0h.9M66.2 304.4h.9M52.6 300.2h.9M37.4 299.9h.9M47.9 301.3h.9M51.0 307.2h.9M68.0 298.7h.9M49.6 307.5h.9M45.7 298.8h.9M53.9 301.9h.9M57.5 295.8h.9M64.4 302.6h.9M59.8 309.0h.9M72.9 302.0h.9M53.6 299.2h.9M56.1 294.9h.9M51.1 297.9h.9M61.5 304.5h.9M36.3 292.1h.9M51.9 294.9h.9M56.8 291.3h.9M55.1 301.7h.9M60.4 298.3h.9M60.6 304.6h.9M54.1 295.0h.9M52.7 302.1h.9M59.4 291.6h.9M44.4 292.1h.9M72.3 302.8h.9M58.6 294.3h.9M62.3 287.5h.9M70.6 302.6h.9M56.7 302.0h.9M64.6 290.0h.9M59.4 293.8h.9M53.6 299.5h.9M53.4 296.6h.9M58.5 298.4h.9M59.3 304.6h.9M49.8 299.6h.9M49.8 304.9h.9M63.2 306.0h.9M66.0 301.2h.9M48.6 296.6h.9M67.3 301.2h.9M63.8 297.5h.9M55.1 310.8h.9M65.3 292.2h.9M51.2 301.3h.9M65.9 305.7h.9M64.2 307.1h.9M62.9 305.1h.9M49.6 294.2h.9M52.7 307.3h.9M68.5 294.9h.9M54.7 301.0h.9M61.9 302.3h.9M69.6 302.0h.9M55.2 299.3h.9M66.2 299.2h.9M61.5 298.4h.9M47.2 289.2h.9M54.6 296.3h.9M63.9 298.6h.9M49.2 304.4h.9M53.2 301.0h.9M50.5 308.7h.9M59.5 299.4h.9M56.2 289.6h.9M67.6 300.6h.9M66.9 296.1h.9M69.2 297.1h.9M52.8 300.7h.9M55.7 301.2h.9M58.3 299.8h.9M60.7 298.3h.9M68.2 304.2h.9M47.4 297.8h.9M54.3 305.6h.9M40.7 306.4h.9M40.5 297.3h.9M49.8 298.7h.9M63.7 305.5h.9M56.1 299.5h.9M48.8 306.8h.9M43.8 297.0h.9M62.8 310.2h.9M54.4 302.9h.9M51.8 301.7h.9M39.2 304.0h.9M52.5 302.8h.9M55.9 295.4h.9M43.9 295.3h.9M56.6 304.4h.9M66.5 305.7h.9M74.4 305.8h.9M72.2 304.8h.9M59.7 291.5h.9M65.2 299.8h.9M53.7 293.5h.9M67.7 300.5h.9M53.4 296.4h.9M56.3 302.9h.9M62.1 301.2h.9M58.8 300.9h.9M53.5 306.7h.9M55.9 297.5h.9M71.5 295.6h.9M53.2 301.2h.9M55.5 300.1h.9M65.1 305.9h.9M45.7 310.5h.9M47.1 295.1h.9M62.8 295.2h.9M46.9 305.0h.9M61.3 302.6h.9M68.9 306.1h.9M53.1 298.1h.9M60.5 298.4h.9M59.2 305.2h.9M59.2 293.1h.9M70.9 300.2h.9M60.0 291.9h.9M56.7 293.8h.9M70.4 298.1h.9M45.3 299.9h.9M49.2 300.9h.9M49.1 291.5h.9M55.4 299.0h.9M50.2 304.2h.9M64.1 300.1h.9M56.3 302.5h.9M64.8 301.5h.9M47.5 303.9h.9M77.1 303.9h.9M59.7 297.6h.9M44.1 303.3h.9M61.9 302.9h.9M58.3 307.3h.9M56.1 290.6h.9M55.8 301.5h.9M63.6 303.6h.9M62.9 303.0h.9M59.5 294.4h.9M54.3 305.9h.9M70.8 286.5h.9M55.8 298.3h.9M64.2 290.2h.9M52.2 301.5h.9M50.2 291.4h.9M72.7 299.2h.9M57.5 303.8h.9M73.0 296.8h.9M55.7 298.8h.9M65.0 305.5h.9M70.4 298.2h.9M46.8 297.2h.9M40.9 302.4h.9M39.6 302.8h.9M48.1 302.8h.9M69.5 299.9h.9M55.8 300.8h.9M51.6 302.4h.9M54.8 301.4h.9M50.1 303.4h.9M59.8 296.0h.9M56.4 293.2h.9M45.0 294.7h.9M60.4 298.5h.9M56.5 302.0h.9M54.5 299.6h.9M50.0 303.8h.9M54.8 310.1h.9M47.2 300.1h.9M60.2 298.0h.9M74.9 301.9h.9M60.4 291.7h.9M60.5 294.2h.9M61.6 302.5h.9M55.9 297.6h.9M50.0 297.2h.9M70.0 296.3h.9M54.3 302.7h.9M45.4 298.3h.9M66.5 301.9h.9M61.6 304.3h.9M56.6 288.1h.9M63.3 303.5h.9M36.8 299.4h.9M68.9 294.4h.9M64.9 308.2h.9M55.9 299.1h.9M48.3 303.9h.9M58.9 303.5h.9M56.4 300.8h.9M51.8 306.2h.9M55.7 307.1h.9M64.4 296.7h.9M47.4 306.0h.9M60.2 298.6h.9M65.7 289.9h.9M61.7 298.7h.9M63.1 297.5h.9M52.9 304.1h.9M60.0 293.0h.9M61.3 304.2h.9M43.0 295.5h.9M47.2 295.4h.9M51.0 310.5h.9M48.4 295.5h.9M54.7 307.5h.9M53.4 305.5h.9M65.6 298.4h.9M60.2 305.8h.9M58.8 309.1h.9M60.2 308.9h.9M48.4 301.8h.9M36.6 293.0h.9M52.2 298.4h.9M55.0 303.3h.9M44.6 291.5h.9M63.2 302.1h.9M64.9 304.9h.9M59.5 297.8h.9M61.1 295.6h.9M45.8 298.8h.9M75.7 295.5h.9M68.2 299.6h.9M71.4 297.9h.9M46.9 297.1h.9M55.2 303.5h.9M50.7 301.6h.9M76.7 300.7h.9M50.4 300.5h.9M54.0 301.9h.9M50.1 298.9h.9M63.0 300.6h.9M40.5 306.5h.9M60.0 310.6h.9M49.7 302.4h.9M49.1 304.7h.9M52.0 307.3h.9M57.7 289.0h.9M47.2 304.0h.9M63.1 305.8h.9M61.1 298.1h.9M57.9 300.8h.9M56.9 305.8h.9M48.9 298.9h.9M67.9 299.8h.9M61.5 297.7h.9M57.3 307.3h.9M70.3 300.7h.9M51.4 308.4h.9M40.8 299.5h.9M65.7 299.8h.9M56.2 300.2h.9M48.7 298.4h.9M59.5 291.6h.9M50.0 284.9h.9M64.7 301.1h.9M42.8 292.7h.9M50.8 309.2h.9M60.8 294.6h.9M52.5 291.9h.9M48.7 291.4h.9M72.0 304.2h.9M67.7 302.9h.9M50.4 305.7h.9M60.8 296.7h.9M42.8 300.3h.9M46.4 299.0h.9M39.4 290.8h.9M64.9 303.4h.9M57.9 299.1h.9M58.4 295.4h.9M63.3 308.9h.9M51.6 292.3h.9M56.8 291.4h.9M73.5 299.9h.9M60.3 301.4h.9M52.4 296.5h.9M57.4 306.2h.9M69.5 298.9h.9M52.4 298.3h.9M59.9 295.2h.9M64.9 299.1h.9M50.2 304.2h.9M68.9 295.7h.9M55.1 299.5h.9M61.2 304.6h.9M55.7 295.5h.9M51.6 305.1h.9M72.5 301.4h.9M66.5 296.6h.9M45.9 295.5h.9M82.0 307.1h.9M48.2 296.3h.9M53.6 293.5h.9M61.7 294.6h.9M54.7 303.5h.9M54.6 305.7h.9M52.3 306.7h.9M51.1 297.3h.9M44.2 302.2h.9M62.6 300.5h.9M69.0 303.9h.9M59.7 291.6h.9M55.2 302.3h.9M46.5 308.3h.9M59.5 308.5h.9M46.1 310.0h.9M68.5 301.2h.9M53.8 309.1h.9M48.3 299.3h.9M66.4 300.0h.9M49.8 294.2h.9M52.5 307.2h.9M80.2 295.2h.9M46.3 303.8h.9M55.2 298.1h.9M55.5 307.6h.9M63.4 296.3h.9M61.1 293.8h.9M66.4 289.5h.9M53.0 305.3h.9M71.5 303.2h.9M39.8 299.4h.9M64.7 303.9h.9M60.1 297.4h.9M40.2 297.8h.9M58.1 296.8h.9M49.4 302.5h.9M53.9 301.4h.9M65.9 296.6h.9M65.3 294.3h.9M64.3 302.6h.9M61.0 304.3h.9M58.6 291.0h.9M71.2 301.6h.9M58.5 300.7h.9M60.1 299.2h.9M45.2 294.0h.9M72.0 303.7h.9M47.5 309.1h.9M59.2 294.4h.9M50.1 296.8h.9M66.6 304.5h.9M54.6 299.1h.9M50.6 301.0h.9M47.8 305.2h.9M55.9 305.5h.9M70.3 302.1h.9M64.3 283.9h.9M48.8 301.8h.9M49.2 306.3h.9M53.9 299.4h.9M38.6 304.1h.9M52.4 307.5h.9M61.2 300.1h.9M64.3 299.0h.9M49.7 300.2h.9M54.8 306.3h.9M50.8 294.6h.9M68.5 305.3h.9M53.6 301.1h.9M42.8 309.4h.9M52.1 288.7h.9M55.7 303.2h.9M62.5 301.7h.9M58.9 299.5h.9M56.1 299.1h.9M78.3 300.8h.9M58.0 289.2h.9M56.5 303.5h.9M62.9 292.0h.9M56.2 309.0h.9M55.1 299.4h.9M62.0 299.9h.9M52.2 296.9h.9M41.9 301.4h.9M61.7 303.7h.9M50.3 302.7h.9M47.8 291.5h.9M62.3 293.5h.9M44.8 298.7h.9M54.0 308.8h.9M58.4 291.5h.9M45.8 301.9h.9M45.0 302.8h.9M65.8 303.7h.9M42.2 306.5h.9M71.7 306.1h.9M77.2 296.0h.9M55.7 305.1h.9M65.5 308.6h.9M55.5 296.7h.9M55.1 296.5h.9M57.6 298.6h.9M63.5 296.6h.9M64.8 296.2h.9M67.4 307.1h.9M56.6 299.2h.9M59.9 302.9h.9M48.0 304.3h.9M40.8 294.0h.9M46.5 301.5h.9M49.6 287.5h.9M66.2 297.3h.9M54.0 302.3h.9M59.9 303.6h.9M45.7 302.2h.9M65.2 304.5h.9M69.6 292.5h.9M67.3 292.5h.9M47.2 301.5h.9M77.1 307.0h.9M55.7 300.9h.9M66.3 293.7h.9M53.8 297.2h.9M67.2 303.5h.9M59.6 307.1h.9M54.7 295.5h.9M64.8 290.4h.9M59.3 300.3h.9M43.0 301.5h.9M49.4 307.9h.9M63.5 305.4h.9M65.4 300.4h.9M66.5 303.8h.9M61.8 306.3h.9M74.0 291.2h.9M53.0 292.4h.9M46.1 304.3h.9M48.5 299.3h.9M52.1 305.8h.9M70.8 301.1h.9M51.0 297.3h.9M55.3 291.6h.9M46.4 301.5h.9M59.1 301.4h.9M59.9 296.4h.9M56.0 294.9h.9M59.0 289.5h.9M61.4 301.8h.9M53.4 301.3h.9M65.8 300.8h.9M73.6 307.1h.9M58.0 299.4h.9M46.8 294.6h.9M58.7 301.1h.9M60.0 309.6h.9M60.6 302.6h.9M55.0 294.5h.9M53.1 300.0h.9M63.1 304.2h.9M48.3 299.9h.9M63.5 292.7h.9M54.9 292.5h.9M51.1 306.8h.9M48.2 305.5h.9M55.6 291.8h.9M58.7 301.7h.9M54.7 307.1h.9M54.3 304.5h.9M57.0 297.6h.9M60.3 306.3h.9M69.4 307.0h.9M42.5 293.2h.9M54.8 307.0h.9M40.8 301.3h.9M46.9 304.8h.9M65.9 299.0h.9M68.7 304.6h.9M55.7 308.4h.9M75.3 300.0h.9M59.2 302.3h.9M64.1 298.3h.9M55.2 307.0h.9M56.1 307.8h.9M59.4 309.9h.9M69.8 294.2h.9M63.1 299.2h.9M52.0 305.3h.9M66.2 303.4h.9M66.6 309.4h.9M60.2 303.9h.9M61.3 308.8h.9M49.7 300.2h.9M46.9 297.5h.9M60.2 298.6h.9M50.8 299.3h.9M58.3 296.6h.9M58.9 297.2h.9M60.0 304.3h.9M73.7 296.5h.9M56.1 296.0h.9M66.4 295.4h.9M68.3 310.4h.9M42.7 306.6h.9M76.8 301.2h.9M55.4 300.1h.9M49.5 304.2h.9M68.5 296.4h.9M64.3 303.4h.9M70.6 300.1h.9M50.7 301.9h.9M61.2 299.2h.9M49.3 304.1h.9M43.7 294.3h.9M56.3 293.2h.9M61.6 291.8h.9M55.6 302.9h.9M68.8 296.1h.9M59.7 307.2h.9M50.4 302.7h.9M66.9 306.7h.9M56.7 302.6h.9M51.2 303.6h.9M60.9 297.8h.9M77.7 304.2h.9M50.2 300.8h.9M61.5 294.9h.9M49.6 304.7h.9M56.7 300.3h.9M66.2 299.2h.9M44.6 294.5h.9M56.0 299.6h.9M54.0 295.8h.9M42.3 299.3h.9M60.9 302.2h.9M47.3 297.3h.9M58.7 287.4h.9M63.2 300.1h.9M84.4 300.1h.9M56.4 300.7h.9M55.3 297.0h.9M66.6 302.5h.9M60.0 299.2h.9M41.1 298.1h.9M38.0 297.2h.9M60.3 299.2h.9M57.9 309.3h.9M62.0 306.1h.9M54.5 298.8h.9M45.3 308.7h.9M66.9 300.2h.9M61.2 302.0h.9M68.9 303.4h.9M56.4 294.9h.9M36.3 287.8h.9M55.1 307.2h.9M51.1 299.3h.9M62.5 309.5h.9M37.1 299.8h.9M53.0 305.1h.9M53.8 291.0h.9M37.0 291.4h.9M53.6 294.7h.9M44.2 298.9h.9M67.5 300.6h.9M39.8 300.7h.9M56.9 308.0h.9M50.1 292.1h.9M53.7 294.4h.9M58.8 304.1h.9M56.5 300.3h.9M46.6 292.9h.9M59.7 308.3h.9M48.5 288.8h.9M56.6 302.0h.9M49.8 290.1h.9M68.7 290.1h.9M61.4 305.2h.9M68.4 300.2h.9M65.1 299.2h.9M63.4 307.9h.9M56.8 291.0h.9M60.7 284.0h.9M69.0 297.1h.9M52.3 306.0h.9M64.6 303.3h.9M52.1 304.5h.9M58.3 298.6h.9M50.2 303.2h.9M50.5 307.7h.9M41.6 295.0h.9M58.6 291.1h.9M73.1 292.8h.9M51.7 298.2h.9M58.5 308.2h.9M53.3 297.7h.9M68.2 300.4h.9M63.8 300.8h.9M52.6 297.1h.9M48.5 296.1h.9M58.5 300.3h.9M63.8 301.1h.9M60.6 295.7h.9M42.9 306.1h.9M72.5 298.9h.9M64.5 295.6h.9M49.2 302.7h.9M64.4 303.7h.9M66.6 301.0h.9M55.8 301.0h.9M49.4 298.5h.9M42.6 294.0h.9M63.7 297.5h.9M37.3 294.2h.9M63.8 300.1h.9M56.3 303.7h.9M67.0 298.8h.9M62.2 297.5h.9M49.8 298.0h.9M67.0 289.2h.9M62.5 298.2h.9M62.5 301.6h.9M43.3 297.8h.9M39.8 299.7h.9M50.4 305.5h.9M41.2 302.1h.9M48.5 297.7h.9M42.3 310.7h.9M55.0 300.9h.9M76.8 290.9h.9M56.1 295.4h.9M54.6 298.2h.9M61.4 304.6h.9M57.6 307.0h.9M54.2 293.4h.9M42.2 305.2h.9M53.9 303.1h.9M63.2 295.5h.9M68.2 304.6h.9M71.2 304.4h.9M47.1 303.7h.9M58.1 292.6h.9M64.6 299.1h.9M60.5 309.6h.9M68.3 298.2h.9M63.3 306.2h.9M58.4 306.5h.9M62.0 298.1h.9M69.2 299.2h.9M52.9 298.4h.9M41.5 306.4h.9M46.5 290.4h.9M59.9 288.4h.9M54.5 304.6h.9M60.0 302.6h.9M54.5 295.2h.9M59.5 304.8h.9M56.5 305.9h.9M36.1 295.4h.9M34.2 298.1h.9M58.4 293.5h.9M52.3 300.0h.9M49.9 299.2h.9M65.3 300.5h.9M66.1 302.9h.9M52.5 300.9h.9M65.0 297.4h.9M51.3 307.3h.9M64.3 304.1h.9M52.4 299.5h.9M60.4 302.8h.9M64.6 294.4h.9M64.7 295.0h.9M48.7 297.8h.9" stroke="#000" stroke-opacity="0.5" stroke-width="0.9" fill="none"/>
<path d="M30.2 306.8h.9M29.1 301.9h.9M43.4 291.5h.9M41.0 296.9h.9M33.4 301.8h.9M29.2 295.3h.9M42.3 296.2h.9M41.6 295.1h.9M28.4 288.4h.9M29.4 298.9h.9M40.1 293.0h.9M34.0 307.3h.9M39.8 309.2h.9M33.1 292.6h.9M34.1 303.9h.9M26.7 299.3h.9M29.3 296.6h.9M32.7 297.5h.9M34.4 298.1h.9M25.2 297.1h.9M43.9 300.4h.9M35.5 304.8h.9M36.3 296.1h.9M27.8 305.5h.9M32.2 303.4h.9M31.2 305.9h.9M33.0 302.4h.9M38.1 289.8h.9M40.5 308.4h.9M30.6 292.0h.9M36.8 296.1h.9M27.0 309.7h.9M33.2 295.0h.9M24.8 303.2h.9M36.4 303.2h.9M25.9 297.2h.9M33.9 298.8h.9M34.5 299.1h.9M33.7 302.0h.9M38.6 308.1h.9M33.7 289.7h.9M44.2 292.6h.9M35.8 307.6h.9M38.5 308.3h.9M37.8 291.9h.9M39.2 299.2h.9M41.7 297.1h.9M40.1 293.8h.9M32.1 300.4h.9M42.2 296.5h.9M36.4 307.2h.9M33.4 302.2h.9M47.9 300.7h.9M39.2 308.0h.9M44.5 307.8h.9M29.7 303.1h.9M23.8 294.2h.9M31.9 299.3h.9M30.0 296.7h.9M46.1 293.7h.9M37.8 294.0h.9M36.3 296.3h.9M42.4 307.9h.9M32.0 300.0h.9M36.5 292.4h.9M30.8 291.8h.9M29.9 301.0h.9M31.8 310.7h.9M38.5 297.8h.9M35.7 298.5h.9M28.5 309.5h.9M32.8 297.8h.9M44.1 299.4h.9M41.2 286.3h.9M38.9 294.7h.9M31.3 306.0h.9M46.5 288.2h.9M43.5 299.3h.9M30.6 306.8h.9M33.1 297.8h.9M32.4 299.7h.9M30.4 307.0h.9M45.8 295.9h.9M29.3 300.2h.9M28.6 301.5h.9M35.1 300.9h.9M28.8 302.7h.9M25.0 298.8h.9M32.9 301.2h.9M39.9 299.9h.9M26.9 303.3h.9M33.0 305.3h.9M45.7 309.5h.9M33.8 295.5h.9M35.6 299.9h.9M28.7 292.4h.9M42.2 295.5h.9M41.3 306.9h.9M27.4 303.2h.9M33.4 292.8h.9M29.6 301.7h.9M40.8 296.9h.9M32.5 306.8h.9M31.1 297.2h.9M29.0 295.5h.9M30.7 296.8h.9M54.6 297.8h.9M39.4 293.8h.9M40.0 302.9h.9M27.2 294.8h.9M28.9 300.6h.9M39.5 300.5h.9M28.5 295.5h.9M45.5 298.4h.9M46.3 300.4h.9M31.4 298.8h.9M37.5 305.4h.9M31.4 303.8h.9M24.9 291.8h.9M29.2 304.9h.9M31.5 298.5h.9M31.8 292.7h.9M38.0 292.9h.9M25.3 302.9h.9M30.6 297.7h.9M39.4 294.9h.9M24.9 303.4h.9M27.1 301.7h.9M46.8 292.9h.9M33.5 300.3h.9M34.9 300.1h.9M39.1 297.1h.9M27.3 302.0h.9M35.5 290.8h.9M39.2 298.8h.9M40.8 300.9h.9M25.1 298.8h.9M38.8 306.7h.9M32.7 304.5h.9M43.2 302.6h.9M44.1 304.6h.9M27.2 294.0h.9M28.1 310.5h.9M42.2 295.9h.9M28.2 301.0h.9M31.5 305.7h.9M35.3 307.4h.9M37.0 303.1h.9M27.3 302.5h.9M36.2 301.2h.9M35.1 301.4h.9M31.2 304.6h.9M33.9 296.0h.9M40.3 305.2h.9M42.0 298.7h.9M40.6 309.5h.9M38.6 303.3h.9M33.7 292.3h.9M26.8 300.7h.9M41.4 304.0h.9M30.2 302.2h.9M33.2 297.0h.9M33.8 305.8h.9M26.0 298.7h.9M33.7 295.4h.9M27.5 303.5h.9M49.1 301.5h.9M30.4 309.9h.9M35.1 290.5h.9M30.2 290.2h.9M31.8 309.2h.9M41.0 299.2h.9M29.5 298.9h.9M26.5 295.9h.9M36.5 301.8h.9M35.4 300.2h.9M23.6 304.2h.9M34.2 305.6h.9M35.1 295.5h.9M40.7 305.5h.9M32.2 305.1h.9M37.2 298.4h.9M35.6 296.9h.9M43.5 298.6h.9M34.5 304.9h.9M44.4 290.6h.9M49.0 304.5h.9M25.6 302.0h.9M49.1 301.7h.9M43.7 307.1h.9M29.6 303.2h.9M46.3 296.8h.9M34.8 298.1h.9M30.4 300.0h.9M30.1 306.9h.9M26.4 306.0h.9M31.2 296.8h.9M33.5 305.6h.9M29.8 289.6h.9M37.9 308.6h.9M34.3 301.9h.9M37.5 302.6h.9M52.1 300.6h.9M37.7 306.2h.9M37.8 291.7h.9M36.9 299.3h.9M27.1 306.4h.9M29.5 303.4h.9M29.2 304.5h.9M43.4 296.4h.9M28.6 306.4h.9M27.8 307.1h.9M36.8 296.1h.9M30.2 308.6h.9M40.0 302.0h.9M35.6 307.3h.9M29.8 303.1h.9M37.3 308.6h.9M31.5 300.2h.9M36.0 300.0h.9M32.3 304.3h.9M30.7 299.7h.9M35.9 301.9h.9M31.5 300.8h.9M25.7 297.1h.9M29.1 295.2h.9M32.4 300.7h.9M33.1 299.2h.9M30.2 306.3h.9M37.8 294.1h.9M35.6 296.6h.9M38.5 297.0h.9M36.2 297.1h.9M32.8 303.3h.9M38.9 293.6h.9M30.2 296.7h.9M32.5 299.6h.9M27.9 286.7h.9M31.6 302.8h.9M26.5 300.5h.9M34.5 296.0h.9M26.4 295.3h.9M30.3 307.0h.9M34.7 297.8h.9M30.6 305.5h.9M29.3 296.2h.9M39.4 301.2h.9M43.2 299.8h.9M31.9 303.5h.9M35.4 301.4h.9M27.4 297.5h.9M28.7 298.4h.9M43.0 296.2h.9M37.3 303.6h.9M35.6 303.2h.9M35.4 306.7h.9M36.7 297.6h.9M29.7 296.4h.9M28.6 296.4h.9M35.6 306.5h.9M32.6 306.8h.9M41.9 304.9h.9M41.5 303.9h.9M24.2 297.1h.9M35.6 301.0h.9M25.0 300.8h.9M23.7 299.8h.9M38.3 302.6h.9M30.0 304.6h.9M47.5 299.6h.9M34.9 293.2h.9M39.5 292.2h.9M32.5 306.2h.9M38.1 283.1h.9M28.4 287.7h.9M31.9 293.0h.9M49.6 307.7h.9M27.1 299.4h.9M34.4 306.5h.9M43.7 304.8h.9M25.1 283.6h.9M39.4 293.7h.9M43.0 305.5h.9M34.5 305.7h.9M29.0 306.9h.9M34.7 297.8h.9M28.5 289.5h.9M31.7 304.0h.9M31.2 298.6h.9M24.5 308.0h.9M33.8 301.0h.9M28.2 299.6h.9M36.1 303.4h.9M30.0 298.1h.9M38.5 309.4h.9M31.0 303.9h.9M39.2 303.1h.9M27.6 301.2h.9M34.6 294.9h.9M34.4 301.0h.9M29.1 310.2h.9M36.2 296.3h.9M42.4 299.5h.9M27.0 294.4h.9M41.5 294.5h.9M36.3 303.7h.9M30.0 305.2h.9M41.3 300.7h.9M34.0 304.8h.9M34.6 308.4h.9M39.4 301.6h.9M35.6 298.9h.9M38.7 297.0h.9M33.8 294.1h.9M50.7 302.7h.9M34.4 303.7h.9M31.3 305.2h.9M38.6 302.5h.9M41.1 299.3h.9M35.8 299.3h.9M29.3 295.0h.9M36.7 310.6h.9M28.1 298.3h.9M29.2 303.3h.9M28.9 295.5h.9M35.8 302.2h.9M36.1 307.9h.9M24.2 307.3h.9M43.7 303.9h.9M44.8 305.7h.9M33.5 294.2h.9M34.4 292.9h.9M28.5 298.8h.9M37.0 297.5h.9M33.6 300.9h.9M35.9 304.5h.9M37.4 299.5h.9M35.2 297.6h.9M25.5 297.8h.9M33.9 289.7h.9M39.5 303.1h.9M27.8 288.3h.9M43.9 309.8h.9M37.5 307.6h.9M43.4 295.6h.9M45.1 296.6h.9M31.6 286.3h.9M31.7 291.4h.9M50.0 303.1h.9M40.3 298.3h.9M40.7 304.1h.9M31.3 304.1h.9M31.1 293.8h.9M30.7 297.6h.9M43.3 300.2h.9M36.4 301.1h.9M36.3 301.6h.9M32.0 293.5h.9M35.0 299.4h.9M26.9 299.7h.9M41.8 295.9h.9M39.6 292.2h.9M47.7 305.2h.9M29.0 303.3h.9M27.1 293.9h.9M31.2 296.5h.9M36.3 293.8h.9M36.8 303.6h.9M39.8 304.7h.9M39.0 307.0h.9M43.0 307.1h.9M42.4 293.5h.9M32.2 309.3h.9M29.7 305.2h.9M41.6 308.7h.9M29.7 302.4h.9M33.1 304.7h.9M42.4 300.9h.9M41.3 309.1h.9M35.1 298.6h.9M30.0 294.2h.9M30.9 299.9h.9M40.9 297.1h.9M29.1 300.7h.9M32.5 308.3h.9M34.2 309.1h.9M34.7 286.1h.9M32.8 294.7h.9M34.1 295.7h.9M40.6 299.4h.9M31.7 298.4h.9M31.6 305.2h.9M35.8 301.2h.9M42.4 297.6h.9M39.3 305.8h.9M36.3 298.2h.9M33.1 307.4h.9M27.4 306.4h.9M37.9 303.5h.9M37.8 298.3h.9M45.7 301.4h.9M40.0 299.9h.9M31.8 307.2h.9M27.1 300.8h.9M28.1 291.9h.9M41.1 301.2h.9M50.8 307.1h.9M32.5 303.1h.9M32.1 302.4h.9M33.2 302.1h.9M30.8 305.9h.9M25.6 291.2h.9M34.9 304.3h.9M39.7 292.3h.9M46.8 304.6h.9M33.1 306.9h.9M45.9 306.7h.9M35.6 299.3h.9M30.2 298.5h.9M25.5 303.1h.9M41.5 299.4h.9M39.7 304.9h.9M33.2 300.7h.9M44.8 296.7h.9M29.2 298.7h.9M28.7 304.3h.9M38.4 299.5h.9M38.7 290.8h.9M41.0 295.2h.9M40.4 297.3h.9M38.5 305.0h.9M24.2 298.5h.9M39.0 304.6h.9M35.7 299.2h.9M39.9 303.2h.9M31.8 307.5h.9M45.3 297.7h.9M31.3 295.1h.9M25.6 302.1h.9M41.1 292.9h.9M32.5 303.0h.9M30.0 306.1h.9M38.5 300.8h.9M42.6 303.1h.9M42.1 304.6h.9M32.4 309.8h.9M29.3 303.3h.9M31.9 296.4h.9M25.0 307.8h.9M43.8 307.4h.9M35.0 304.6h.9M36.1 304.6h.9M37.5 307.4h.9M35.3 298.1h.9M34.0 300.4h.9M24.1 308.1h.9M32.1 300.4h.9M34.7 303.8h.9M33.0 301.0h.9M34.3 300.4h.9M42.0 296.1h.9M28.7 304.0h.9M32.8 306.4h.9M41.4 295.8h.9M41.8 296.3h.9M36.4 299.0h.9M24.3 305.8h.9M38.2 299.3h.9M28.1 296.7h.9M33.1 307.4h.9M31.0 300.8h.9M31.3 294.1h.9M31.4 297.5h.9M42.6 302.1h.9M43.3 300.7h.9M35.3 309.1h.9M37.4 301.6h.9M37.6 303.1h.9M42.2 297.7h.9M30.9 296.0h.9M42.8 304.8h.9M32.0 304.3h.9M47.8 305.6h.9M33.6 295.7h.9M42.6 299.4h.9M28.2 298.8h.9M49.6 298.8h.9M46.3 287.7h.9M39.8 299.7h.9M35.4 297.6h.9M36.3 304.8h.9M32.0 305.7h.9M39.5 294.5h.9M46.9 302.0h.9M40.3 309.2h.9M27.8 295.1h.9M45.6 305.8h.9M27.3 298.9h.9M32.7 301.7h.9M26.1 301.3h.9M30.8 303.7h.9M27.3 298.0h.9M35.1 304.9h.9M34.7 302.1h.9M33.1 297.6h.9M31.1 296.2h.9M37.9 303.3h.9M33.0 296.2h.9M31.3 300.1h.9M41.4 299.1h.9M35.6 297.3h.9M38.7 299.5h.9M28.1 290.2h.9M31.7 299.0h.9M42.3 293.9h.9M29.8 294.1h.9M39.6 302.6h.9M31.5 304.5h.9M35.2 298.3h.9M33.7 304.4h.9M36.1 301.4h.9M34.7 296.4h.9M32.9 304.2h.9M31.3 299.3h.9M25.0 304.4h.9M41.5 301.0h.9M35.3 302.1h.9M34.4 299.8h.9M41.2 302.7h.9M31.5 294.1h.9M41.3 299.9h.9M38.1 298.1h.9M25.5 304.4h.9M42.2 291.8h.9M35.3 300.4h.9M30.6 304.0h.9M27.7 298.8h.9M36.0 305.0h.9M34.0 307.4h.9M42.1 303.3h.9M24.5 295.7h.9M40.4 310.1h.9M35.5 305.9h.9M31.4 299.4h.9M39.2 291.8h.9M32.7 296.2h.9M35.9 304.3h.9M35.5 308.7h.9M34.7 308.1h.9M35.7 289.7h.9M33.9 296.1h.9M31.5 287.7h.9M32.3 299.1h.9M26.2 299.7h.9M39.8 301.4h.9M38.8 296.1h.9M46.1 295.9h.9M25.4 302.1h.9M38.2 308.3h.9M39.3 306.4h.9M29.8 289.0h.9M44.5 294.4h.9M38.6 305.7h.9M31.9 295.5h.9M43.3 301.0h.9M35.2 301.8h.9M36.4 304.5h.9M35.3 306.5h.9M33.8 293.5h.9M28.5 304.1h.9M27.8 302.3h.9M39.3 297.4h.9M33.8 294.0h.9M25.3 303.8h.9M35.5 294.9h.9M31.0 297.2h.9M31.7 297.5h.9M30.5 293.6h.9M31.2 307.8h.9M32.5 304.7h.9M31.7 298.7h.9M44.1 302.5h.9M30.0 304.9h.9M24.3 292.7h.9M32.0 298.6h.9M34.6 294.1h.9M37.0 299.9h.9M32.2 302.8h.9M31.5 306.8h.9M27.9 302.7h.9M32.9 288.3h.9M27.1 298.2h.9M37.0 293.8h.9M30.0 298.2h.9M23.9 298.0h.9M40.6 306.2h.9M26.7 296.7h.9M28.9 289.0h.9M49.5 296.8h.9M36.0 298.2h.9M31.8 292.4h.9M26.4 300.0h.9M29.1 304.7h.9M30.1 303.1h.9M37.4 294.2h.9M42.3 299.8h.9M51.0 297.8h.9M41.0 304.9h.9M23.6 305.5h.9M33.9 306.2h.9M26.2 305.2h.9M33.6 304.3h.9M38.2 301.6h.9M43.4 293.1h.9M31.2 306.6h.9M26.6 305.0h.9M34.1 302.6h.9M38.6 294.3h.9M39.3 304.9h.9M25.9 295.0h.9M43.9 298.3h.9M39.2 301.3h.9M24.2 294.2h.9M32.1 309.4h.9M44.5 295.7h.9M39.5 296.7h.9M34.6 306.0h.9M43.8 301.4h.9M35.8 304.1h.9M28.8 305.1h.9M34.4 296.7h.9M33.1 299.4h.9M30.5 304.9h.9M39.3 306.3h.9M30.7 304.7h.9M31.9 310.4h.9M26.3 306.7h.9M30.0 291.4h.9M39.0 293.6h.9M27.7 300.6h.9M36.7 300.3h.9M36.6 302.5h.9M43.8 297.7h.9M38.7 299.4h.9M28.0 299.4h.9M38.5 306.6h.9M37.1 302.3h.9M29.3 306.4h.9M47.0 303.0h.9M46.0 301.7h.9M32.1 306.0h.9M34.7 299.7h.9M30.0 301.7h.9M33.6 292.1h.9M37.2 310.5h.9M36.3 303.6h.9M37.5 306.0h.9M39.2 299.2h.9M26.0 303.6h.9M36.8 298.0h.9M32.0 303.6h.9M44.8 297.7h.9M27.4 301.0h.9M28.3 298.3h.9M27.3 307.5h.9M37.0 302.0h.9M38.0 305.8h.9M27.3 304.3h.9M29.7 292.8h.9M36.7 297.9h.9M43.9 299.6h.9M32.0 296.3h.9M32.8 300.6h.9M38.3 296.9h.9M28.9 295.2h.9M29.2 298.8h.9M32.8 297.4h.9M40.1 297.0h.9M35.6 300.3h.9M36.5 301.5h.9M31.0 301.0h.9M30.3 300.3h.9M41.8 305.7h.9M43.2 296.5h.9M42.1 303.5h.9M38.4 299.6h.9M46.0 296.2h.9M35.6 293.7h.9M32.0 303.2h.9M35.6 302.6h.9M42.9 295.4h.9M23.6 299.3h.9M49.9 305.1h.9M33.0 306.2h.9M28.2 305.1h.9M31.2 297.3h.9M27.2 297.8h.9M40.4 306.2h.9M33.0 310.4h.9M33.3 309.0h.9M25.5 304.4h.9M26.7 299.3h.9M32.6 291.1h.9M36.6 301.5h.9M33.1 292.4h.9M29.4 306.7h.9M31.0 300.0h.9M33.1 299.9h.9M26.5 300.3h.9M31.8 293.8h.9M23.6 302.2h.9M30.8 297.6h.9M30.1 302.3h.9M40.9 298.7h.9M27.5 303.4h.9M41.5 303.0h.9M28.1 306.2h.9M30.9 294.6h.9M33.7 297.3h.9M39.0 296.8h.9M41.7 304.9h.9M24.9 298.8h.9M31.4 296.7h.9M36.4 299.8h.9M45.5 302.5h.9M40.3 306.3h.9M36.9 305.5h.9M29.2 306.5h.9M40.6 306.9h.9M30.1 298.0h.9M41.8 300.7h.9M51.3 303.8h.9M26.1 304.5h.9M35.6 290.8h.9M29.9 289.1h.9M51.9 294.7h.9M28.3 299.2h.9M28.5 307.7h.9M32.2 293.4h.9M39.1 302.9h.9M24.3 306.1h.9M24.8 296.2h.9M43.9 298.3h.9M34.3 296.5h.9M31.9 290.0h.9M31.8 296.8h.9M40.2 298.6h.9M28.2 298.4h.9M35.7 299.3h.9M47.8 293.5h.9M36.2 310.7h.9M29.6 293.9h.9M28.6 305.5h.9M38.5 301.7h.9M39.5 299.5h.9M38.3 299.6h.9M32.8 295.1h.9M33.6 300.5h.9M27.8 297.1h.9M31.3 308.6h.9M37.2 304.6h.9M42.9 304.8h.9M45.3 308.7h.9M38.9 300.5h.9M34.9 300.6h.9M28.9 292.7h.9M36.8 293.7h.9M38.7 310.5h.9M34.7 296.0h.9M29.6 304.3h.9M33.3 298.7h.9M35.8 294.7h.9M27.0 303.1h.9M29.0 304.4h.9M30.7 301.4h.9M32.9 307.9h.9M32.1 301.5h.9M26.3 301.8h.9M32.9 302.7h.9M34.5 302.7h.9M36.6 306.5h.9M27.4 298.2h.9M35.6 293.0h.9M49.0 290.2h.9M37.6 298.4h.9M38.3 309.1h.9M46.8 297.2h.9M34.4 296.9h.9M24.7 301.7h.9M29.8 294.3h.9M31.7 297.8h.9M26.3 302.1h.9M37.6 303.0h.9M29.3 296.2h.9M40.6 296.3h.9M24.7 294.6h.9M43.5 300.0h.9M31.0 301.4h.9M34.0 299.3h.9M32.8 304.5h.9" stroke="#000" stroke-opacity="0.5" stroke-width="0.9" fill="none"/>
<path d="M57.8 293.6h.9M43.1 298.7h.9M47.4 310.7h.9M54.2 302.6h.9M43.6 301.7h.9M61.4 305.0h.9M33.8 299.9h.9M49.8 293.8h.9M40.3 296.8h.9M57.0 299.2h.9M72.0 301.7h.9M39.1 300.3h.9M46.3 295.1h.9M50.0 292.3h.9M47.6 296.7h.9M46.3 295.6h.9M68.5 295.8h.9M55.7 299.4h.9M60.8 295.7h.9M27.8 302.4h.9M59.1 302.2h.9M64.8 299.2h.9M32.8 301.5h.9M53.3 305.7h.9M39.6 298.0h.9M26.5 298.4h.9M35.5 299.1h.9M34.8 301.2h.9M43.6 295.7h.9M52.8 301.6h.9M41.5 298.1h.9M56.0 301.5h.9M42.8 308.5h.9M38.4 292.8h.9M36.2 300.1h.9M57.4 294.4h.9M50.1 292.9h.9M44.5 297.9h.9M65.9 290.1h.9M38.1 289.9h.9M38.4 297.5h.9M44.9 304.0h.9M32.6 296.4h.9M64.8 299.2h.9M31.8 299.1h.9M30.0 294.8h.9M37.7 291.7h.9M69.3 297.1h.9M48.0 297.8h.9M43.5 295.1h.9M50.6 296.9h.9M33.5 303.4h.9M65.4 301.1h.9M51.9 297.5h.9M46.5 302.5h.9M45.4 305.4h.9M64.2 300.2h.9M48.0 295.0h.9M39.0 295.9h.9M40.2 294.7h.9M50.1 300.6h.9M42.8 306.8h.9M48.4 298.7h.9M47.5 296.2h.9M55.2 294.7h.9M44.4 308.5h.9M48.7 293.9h.9M29.7 304.5h.9M62.8 296.8h.9M48.5 296.8h.9M32.2 301.1h.9M35.7 301.9h.9M49.3 296.1h.9M46.0 299.2h.9M42.7 297.9h.9M61.5 295.5h.9M47.0 303.9h.9M50.3 297.1h.9M29.5 297.7h.9M44.6 305.3h.9M53.5 304.0h.9M51.2 300.2h.9M23.4 296.3h.9M41.8 298.6h.9M28.1 291.7h.9M47.4 297.7h.9M45.0 297.9h.9M41.7 293.5h.9M56.6 300.9h.9M44.5 307.2h.9M35.2 302.9h.9M44.1 299.1h.9M56.6 299.0h.9M44.6 293.3h.9M48.7 300.9h.9M39.1 293.4h.9M58.0 299.7h.9M60.6 298.7h.9M79.6 293.3h.9M54.7 299.7h.9M48.2 298.0h.9M52.5 303.0h.9M46.2 294.2h.9M58.0 303.7h.9M29.2 300.2h.9M65.5 301.9h.9M38.2 300.4h.9M49.6 293.9h.9M41.2 297.5h.9M40.4 305.3h.9M35.3 305.0h.9M43.8 297.8h.9M42.0 306.4h.9M71.1 300.1h.9M31.9 297.7h.9M42.2 304.3h.9M37.1 295.5h.9M59.2 288.9h.9M30.6 298.6h.9M59.0 307.9h.9M67.1 300.3h.9M25.5 295.1h.9M51.8 299.1h.9M34.1 298.6h.9M46.9 309.6h.9M40.6 301.7h.9M48.9 302.6h.9M35.7 306.0h.9M63.1 301.4h.9M30.3 294.0h.9M42.2 298.5h.9M33.1 298.5h.9M23.9 298.2h.9M26.8 300.3h.9M39.1 292.2h.9M38.9 298.1h.9M62.4 302.2h.9M39.3 302.8h.9M44.0 302.8h.9M39.0 300.3h.9M40.4 303.5h.9M68.4 306.5h.9M63.8 298.3h.9M66.3 297.7h.9M44.6 294.9h.9M57.5 291.4h.9M43.7 302.3h.9M29.7 301.3h.9M30.3 297.5h.9M49.5 305.6h.9M72.9 294.4h.9M47.8 298.5h.9M27.3 294.9h.9M47.7 299.2h.9M72.1 293.5h.9M28.2 304.1h.9M37.8 299.6h.9M61.3 296.4h.9M41.4 299.1h.9M45.3 307.0h.9M64.2 296.0h.9M62.0 291.9h.9M35.6 295.6h.9M36.3 299.7h.9M48.4 294.8h.9M50.0 295.9h.9M51.9 300.3h.9M29.6 294.7h.9M57.9 298.6h.9M48.7 297.4h.9M65.7 301.1h.9M35.3 300.0h.9M30.1 297.0h.9M39.9 294.2h.9M33.1 303.9h.9M32.7 297.9h.9M28.2 304.8h.9M31.9 302.4h.9M53.3 301.5h.9M38.1 288.7h.9M32.7 297.9h.9M25.2 293.5h.9M49.1 298.9h.9M58.8 301.0h.9M62.0 300.2h.9M42.8 299.8h.9M56.6 303.4h.9M53.6 296.7h.9M30.7 303.6h.9M58.9 294.2h.9M45.3 294.4h.9M46.0 308.9h.9M40.1 297.0h.9M44.0 296.8h.9M50.0 291.6h.9M54.9 295.4h.9M45.3 310.6h.9M61.4 299.9h.9M42.9 301.3h.9M71.5 305.8h.9" stroke="#000" stroke-opacity="0.3" stroke-width="0.9" fill="none"/>
<path d="M28.1 280.2h.9M34.3 273.0h.9M32.5 270.0h.9M41.4 273.1h.9M43.1 269.1h.9M27.5 269.7h.9M33.4 274.0h.9M53.6 272.8h.9M33.5 286.1h.9M53.5 277.1h.9M45.5 262.0h.9M32.5 271.8h.9M36.0 261.0h.9M38.7 282.2h.9M49.3 273.6h.9M41.1 272.0h.9M45.1 263.9h.9M58.5 276.4h.9M41.0 280.1h.9M26.7 271.5h.9M40.6 284.9h.9M43.3 269.7h.9M32.7 271.7h.9M31.0 270.1h.9M37.3 268.6h.9M28.0 270.7h.9M35.4 266.4h.9M36.1 279.1h.9M30.5 271.9h.9M34.0 268.4h.9M27.0 269.0h.9M39.3 264.9h.9M28.8 269.4h.9M41.7 278.6h.9M41.6 275.9h.9M48.1 275.8h.9M37.9 275.0h.9M45.3 272.9h.9M45.7 268.9h.9M25.1 271.7h.9M41.2 283.5h.9M34.0 266.1h.9M32.5 269.6h.9M39.1 272.1h.9M30.0 286.0h.9" stroke="#000" stroke-opacity="0.25" stroke-width="0.9" fill="none"/>
</g>
<text x="25.0" y="247.5" font-size="4.6" font-weight="normal" text-anchor="start" fill="#444" >Q1-1</text>
<text x="90.5" y="247.5" font-size="4.6" font-weight="normal" text-anchor="start" fill="#444" >Q2-1</text>
<text x="25.5" y="307.0" font-size="4.6" font-weight="normal" text-anchor="start" fill="#444" >Q3</text>
<text x="94.0" y="306.5" font-size="4.6" font-weight="normal" text-anchor="start" fill="#444" >Q4-1</text>
<text x="32.3" y="256.8" font-size="6.8" font-weight="bold" text-anchor="start" fill="#000"  stroke="#000" stroke-width="0.3">1.1%</text>
<text x="73.8" y="256.8" font-size="6.8" font-weight="bold" text-anchor="start" fill="#000"  stroke="#000" stroke-width="0.3">0.1%</text>
<text x="69.0" y="328.5" font-size="6.9" font-weight="bold" text-anchor="middle" fill="#000"  stroke="#000" stroke-width="0.3">IL-7R (CD127) - PE</text>
<text x="8.2" y="275.2" font-size="6.9" font-weight="bold" text-anchor="middle" stroke="#000" stroke-width="0.3" transform="rotate(-90 8.2 275.2)">IFN-g - APC</text>
<text x="193.3" y="237.5" font-size="6.9" font-weight="bold" text-anchor="middle" fill="#000"  stroke="#000" stroke-width="0.3">PHI CD3+CD4+CD8- + CMV</text>
<path d="M145.9 309.3h3M145.9 307.5h3M145.9 306.1h3M145.9 304.9h3M145.9 303.8h3M145.9 302.8h3M145.9 296.5h3M145.9 293.2h3M145.9 290.9h3M145.9 289.1h3M145.9 287.7h3M145.9 286.5h3M145.9 285.4h3M145.9 284.4h3M145.9 278.1h3M145.9 274.8h3M145.9 272.5h3M145.9 270.7h3M145.9 269.3h3M145.9 268.1h3M145.9 267.0h3M145.9 266.0h3M145.9 259.7h3M145.9 256.4h3M145.9 254.1h3M145.9 252.3h3M145.9 250.9h3M145.9 249.7h3M145.9 248.6h3M145.9 247.6h3M145.9 241.3h3M144.4 302.0h4.5M144.4 283.6h4.5M144.4 265.2h4.5M144.4 246.8h4.5" stroke="#555" stroke-width="0.8" fill="none"/>
<text x="143.2" y="302.2" font-size="3.8" font-weight="normal" text-anchor="end" fill="#333" >10<tspan font-size="2.8" dy="-1.7">1</tspan></text>
<text x="143.2" y="283.8" font-size="3.8" font-weight="normal" text-anchor="end" fill="#333" >10<tspan font-size="2.8" dy="-1.7">2</tspan></text>
<text x="143.2" y="265.4" font-size="3.8" font-weight="normal" text-anchor="end" fill="#333" >10<tspan font-size="2.8" dy="-1.7">3</tspan></text>
<text x="143.2" y="247.0" font-size="3.8" font-weight="normal" text-anchor="end" fill="#333" >10<tspan font-size="2.8" dy="-1.7">4</tspan></text>
<line x1="147.4" y1="312" x2="250.4" y2="312" stroke="#222" stroke-width="0.9"/>
<path d="M148.6 312.0v2M151.7 312.0v2M154.1 312.0v2M156.0 312.0v2M157.7 312.0v2M159.1 312.0v2M160.4 312.0v2M168.9 312.0v2M173.3 312.0v2M176.4 312.0v2M178.8 312.0v2M180.7 312.0v2M182.4 312.0v2M183.8 312.0v2M185.1 312.0v2M193.6 312.0v2M198.0 312.0v2M201.1 312.0v2M203.5 312.0v2M205.4 312.0v2M207.1 312.0v2M208.5 312.0v2M209.8 312.0v2M218.3 312.0v2M222.7 312.0v2M225.8 312.0v2M228.2 312.0v2M230.1 312.0v2M231.8 312.0v2M233.2 312.0v2M234.5 312.0v2M243.0 312.0v2M247.4 312.0v2M161.5 312.0v3.2M186.2 312.0v3.2M210.9 312.0v3.2M235.6 312.0v3.2" stroke="#555" stroke-width="0.7" fill="none"/>
<text x="162.3" y="320.3" font-size="4.2" font-weight="normal" text-anchor="middle" fill="#333" >10<tspan font-size="3" dy="-1.9">2</tspan></text>
<text x="187.0" y="320.3" font-size="4.2" font-weight="normal" text-anchor="middle" fill="#333" >10<tspan font-size="3" dy="-1.9">3</tspan></text>
<text x="211.7" y="320.3" font-size="4.2" font-weight="normal" text-anchor="middle" fill="#333" >10<tspan font-size="3" dy="-1.9">4</tspan></text>
<text x="236.4" y="320.3" font-size="4.2" font-weight="normal" text-anchor="middle" fill="#333" >10<tspan font-size="3" dy="-1.9">5</tspan></text>
<line x1="184.9" y1="238.8" x2="184.9" y2="312" stroke="#999" stroke-width="1.2"/>
<line x1="147.4" y1="284.1" x2="248.4" y2="284.1" stroke="#999" stroke-width="1.1"/>
<clipPath id="cp3862"><rect x="148.9" y="238.8" width="99.5" height="72.69999999999999"/></clipPath><g clip-path="url(#cp3862)">
<rect x="146" y="290.5" width="24.5" height="23.5" rx="5" fill="#000" fill-opacity="0.85" filter="url(#b2)"/>
<path d="M153.6 298.3h.9M161.3 289.4h.9M155.8 295.2h.9M159.5 303.6h.9M157.9 305.7h.9M153.9 302.0h.9M150.1 289.9h.9M149.3 298.1h.9M163.4 311.2h.9M162.6 303.7h.9M150.9 310.3h.9M152.9 299.1h.9M176.5 305.6h.9M178.9 296.3h.9M162.5 292.4h.9M162.3 296.0h.9M171.0 303.2h.9M151.6 300.5h.9M168.3 292.5h.9M156.7 304.0h.9M150.5 297.3h.9M152.6 306.3h.9M165.8 293.0h.9M168.7 309.9h.9M155.8 302.0h.9M164.3 304.2h.9M179.1 300.6h.9M156.1 301.3h.9M158.0 288.7h.9M166.8 301.7h.9M151.1 294.6h.9M161.5 300.9h.9M167.7 298.4h.9M173.3 308.3h.9M150.3 296.5h.9M159.5 294.4h.9M162.7 287.7h.9M161.0 293.9h.9M152.2 301.6h.9M157.9 296.7h.9M159.0 295.4h.9M170.9 302.0h.9M161.7 308.5h.9M176.1 290.7h.9M160.2 292.4h.9M164.8 296.4h.9M152.6 298.3h.9M169.5 294.0h.9M162.3 298.2h.9M155.9 300.7h.9M175.2 297.3h.9M160.8 302.3h.9M163.9 302.2h.9M159.8 293.8h.9M155.6 303.5h.9M152.2 305.7h.9M162.6 309.8h.9M177.0 304.4h.9M162.3 293.4h.9M159.2 302.9h.9M171.1 287.5h.9M158.1 292.7h.9M179.0 309.7h.9M159.3 298.0h.9M172.4 310.1h.9M155.1 305.7h.9M161.8 301.3h.9M158.1 293.4h.9M161.5 305.8h.9M160.0 291.4h.9M157.1 295.0h.9M148.9 300.9h.9M152.3 301.9h.9M160.2 296.8h.9M150.7 298.3h.9M168.5 306.5h.9M170.0 294.7h.9M150.8 301.3h.9M158.6 304.0h.9M162.8 291.1h.9M161.0 309.2h.9M157.9 299.6h.9M159.5 290.2h.9M165.4 302.5h.9M166.7 296.6h.9M152.4 293.4h.9M157.6 299.7h.9M164.2 294.0h.9M152.1 292.7h.9M154.3 305.2h.9M167.1 300.1h.9M169.2 302.6h.9M154.8 304.0h.9M160.8 300.0h.9M152.9 297.9h.9M149.0 295.1h.9M183.9 303.6h.9M167.8 307.4h.9M152.1 291.1h.9M153.8 300.6h.9M168.8 306.7h.9M160.3 307.6h.9M157.0 298.2h.9M163.7 298.5h.9M150.3 297.1h.9M157.0 296.9h.9M153.6 300.7h.9M164.0 297.3h.9M164.4 295.1h.9M153.6 301.9h.9M155.1 304.2h.9M166.4 296.0h.9M178.5 304.1h.9M153.3 292.5h.9M157.4 300.1h.9M164.8 301.9h.9M164.7 290.6h.9M153.5 299.4h.9M166.0 299.0h.9M161.1 293.6h.9M169.5 300.3h.9M156.6 300.8h.9M176.8 292.4h.9M171.1 292.2h.9M158.0 292.8h.9M158.3 306.6h.9M174.7 305.4h.9M157.6 305.0h.9M152.3 286.7h.9M156.1 291.8h.9M169.8 294.2h.9M169.8 298.3h.9M168.6 303.7h.9M171.5 294.2h.9M180.8 307.4h.9M159.6 306.5h.9M158.7 301.1h.9M170.3 301.8h.9M157.8 300.5h.9M169.8 307.9h.9M173.1 302.8h.9M149.9 305.3h.9M156.2 294.9h.9M158.0 295.4h.9M150.4 305.3h.9M162.0 292.1h.9M163.0 302.3h.9M155.3 298.1h.9M165.6 286.4h.9M154.0 304.2h.9M162.5 308.8h.9M164.2 300.3h.9M169.7 298.9h.9M166.3 283.8h.9M169.0 303.1h.9M168.5 289.1h.9M163.1 291.6h.9M154.1 294.9h.9M168.9 294.8h.9M167.9 304.6h.9M162.2 302.4h.9M170.2 301.3h.9M165.7 303.0h.9M164.0 299.4h.9M164.9 294.0h.9M157.5 292.6h.9M157.8 306.6h.9M163.9 295.8h.9M183.2 294.4h.9M169.7 300.1h.9M163.3 306.4h.9M177.2 308.4h.9M165.4 299.2h.9M166.5 305.3h.9M158.6 294.5h.9M150.6 291.0h.9M162.5 306.7h.9M164.2 298.5h.9M148.9 302.7h.9M185.1 309.7h.9M158.5 308.8h.9M159.3 299.9h.9M160.2 291.6h.9M174.0 297.1h.9M160.3 301.5h.9M164.7 295.0h.9M152.8 298.2h.9M150.4 294.6h.9M166.1 298.1h.9M165.0 298.2h.9M162.6 295.8h.9M173.3 296.2h.9M173.4 295.7h.9M152.9 301.5h.9M161.8 307.9h.9M155.2 303.6h.9M157.6 296.3h.9M172.7 309.2h.9M165.0 302.0h.9M150.9 307.2h.9M153.5 303.9h.9M160.7 297.7h.9M157.4 301.4h.9M155.2 295.6h.9M172.1 295.1h.9M160.3 292.9h.9M179.5 301.1h.9M166.2 305.3h.9M149.9 294.1h.9M158.5 306.3h.9M160.8 292.5h.9M158.5 289.9h.9M161.9 291.5h.9M150.7 288.3h.9M151.8 296.1h.9M167.0 297.2h.9M156.9 296.6h.9M159.9 297.4h.9M164.6 289.6h.9M157.8 294.5h.9M169.0 295.9h.9M165.5 299.1h.9M168.4 297.8h.9M166.6 303.5h.9M174.3 305.6h.9M160.3 304.7h.9M157.3 293.4h.9M156.1 297.1h.9M170.3 300.5h.9M164.2 294.9h.9M166.2 296.4h.9M161.4 308.8h.9M174.9 299.9h.9M159.5 291.5h.9M171.6 303.1h.9M173.1 306.8h.9M168.7 309.5h.9M164.1 295.4h.9M161.2 300.1h.9M153.5 299.2h.9M156.9 285.6h.9M160.9 295.8h.9M182.1 308.9h.9M167.8 298.6h.9M155.7 306.0h.9M170.5 303.5h.9M149.7 298.9h.9M162.7 306.6h.9M154.8 298.2h.9M157.5 292.6h.9M153.4 304.4h.9M155.0 296.5h.9M152.1 294.6h.9M165.9 301.7h.9M163.0 301.0h.9M159.6 304.0h.9M152.4 297.6h.9M148.4 307.7h.9M166.1 300.4h.9M163.1 304.3h.9M165.9 303.7h.9M159.2 299.2h.9M168.4 304.4h.9M162.8 307.1h.9M151.9 300.1h.9M148.8 306.9h.9M165.5 300.2h.9M155.0 299.1h.9M165.1 303.4h.9M151.6 297.5h.9M154.5 299.4h.9M152.9 294.2h.9M176.4 295.7h.9M161.2 302.5h.9M171.1 307.8h.9M156.0 303.9h.9M167.4 302.2h.9M152.2 310.8h.9M168.5 299.0h.9M160.1 301.5h.9M159.1 304.5h.9M151.8 297.0h.9M157.0 291.7h.9M168.6 302.9h.9M148.9 301.9h.9M160.0 291.0h.9M169.6 302.6h.9M165.4 286.4h.9M150.4 310.4h.9M163.1 296.2h.9M151.6 294.2h.9M154.6 284.9h.9M160.8 300.2h.9M153.3 298.8h.9M153.9 306.9h.9M151.6 298.9h.9M172.8 308.9h.9M152.7 288.5h.9M176.3 294.4h.9M155.7 300.0h.9M166.3 296.7h.9M155.5 297.1h.9M154.6 300.9h.9M152.3 305.2h.9M177.1 295.6h.9M159.4 299.6h.9M172.8 296.4h.9M169.6 301.7h.9M167.4 296.6h.9M151.7 297.9h.9M167.4 299.1h.9M166.4 309.8h.9M153.3 295.5h.9M163.9 292.7h.9M150.7 299.0h.9M158.4 300.4h.9M158.6 289.7h.9M153.8 302.8h.9M161.7 302.4h.9M149.7 303.9h.9M155.8 307.1h.9M178.9 301.6h.9M162.8 292.0h.9M153.9 284.4h.9M164.8 308.1h.9M156.7 298.0h.9M160.2 296.9h.9M163.5 303.9h.9M156.6 298.5h.9M171.5 303.2h.9M149.7 306.1h.9M161.9 302.1h.9M166.9 303.7h.9M183.1 290.9h.9M160.1 305.2h.9M166.0 282.9h.9M168.9 296.7h.9M149.1 310.9h.9M157.2 304.7h.9M164.2 303.6h.9M168.8 302.0h.9M170.8 299.9h.9M150.3 309.0h.9M159.4 304.7h.9M160.0 301.5h.9M173.1 291.7h.9M150.7 301.5h.9M170.1 301.6h.9M163.7 305.2h.9M179.0 309.2h.9M156.2 289.6h.9M150.1 300.6h.9M157.2 285.1h.9M168.0 303.8h.9M150.7 291.4h.9M172.4 301.5h.9M156.4 293.5h.9M152.3 309.8h.9M151.9 299.7h.9M155.0 298.7h.9M159.6 304.9h.9M149.4 298.6h.9M177.6 299.5h.9M154.6 290.8h.9M152.5 303.3h.9M154.4 295.7h.9M169.2 310.2h.9M155.1 297.2h.9M160.2 302.9h.9M156.0 292.3h.9M160.0 302.2h.9M166.2 292.2h.9M159.2 296.0h.9M169.0 293.8h.9M163.8 291.7h.9M165.0 290.9h.9M168.5 299.3h.9M169.1 297.1h.9M149.1 301.4h.9M152.5 303.3h.9M157.4 296.6h.9M153.6 298.0h.9M163.2 308.2h.9M154.0 300.0h.9M168.3 308.7h.9M150.3 292.1h.9M153.2 307.7h.9M154.4 305.9h.9M157.1 303.6h.9M162.8 299.0h.9M152.5 300.3h.9M181.1 293.4h.9M166.1 298.3h.9M166.9 291.8h.9M169.3 295.4h.9M160.2 307.4h.9M167.3 286.9h.9M169.3 309.9h.9M162.4 299.1h.9M150.5 304.4h.9M177.0 305.0h.9M151.1 299.4h.9M169.2 301.7h.9M163.9 296.1h.9M176.2 297.3h.9M160.9 288.1h.9M172.0 293.3h.9M160.1 301.0h.9M162.2 296.2h.9M163.3 301.0h.9M174.7 301.6h.9M152.8 307.9h.9M169.7 295.4h.9M157.3 302.1h.9M153.1 308.4h.9M156.6 310.2h.9M162.2 307.2h.9M166.3 306.9h.9M165.6 301.1h.9M173.8 305.3h.9M152.8 305.7h.9M164.8 301.3h.9M164.6 298.3h.9M155.3 289.7h.9M155.0 309.0h.9M164.8 304.2h.9M161.2 307.0h.9M159.8 295.8h.9M164.4 300.8h.9M161.6 299.5h.9M154.7 299.9h.9M159.7 304.6h.9M148.4 296.8h.9M164.8 297.2h.9M150.2 291.9h.9M158.2 304.1h.9M160.3 301.0h.9M164.6 299.5h.9M157.5 291.4h.9M156.3 298.4h.9M157.9 297.9h.9M181.0 302.0h.9M157.3 299.8h.9M158.6 306.9h.9M158.8 306.0h.9M149.8 301.5h.9M157.9 301.2h.9M170.8 299.8h.9M169.1 289.7h.9M155.7 300.7h.9M154.3 301.7h.9M163.0 302.4h.9M167.3 306.7h.9M156.7 300.6h.9M160.7 292.8h.9M160.2 302.3h.9M175.2 288.0h.9M161.0 298.6h.9M157.7 308.9h.9M157.9 290.9h.9M169.6 296.2h.9M159.8 301.4h.9M169.6 297.6h.9M167.4 289.4h.9M151.0 305.1h.9M149.3 300.8h.9M163.7 296.7h.9M148.5 299.4h.9M158.1 302.5h.9M159.5 289.1h.9M169.1 303.1h.9M157.4 296.6h.9M170.6 299.7h.9M158.6 290.0h.9M148.9 302.6h.9M176.4 302.5h.9M157.2 297.7h.9M155.8 294.6h.9M168.7 289.6h.9M156.0 307.8h.9M173.8 295.6h.9M161.3 303.2h.9M160.4 299.6h.9M160.7 301.3h.9M157.1 298.8h.9M158.9 307.0h.9M150.3 309.4h.9M168.9 301.0h.9M182.2 305.3h.9M176.6 294.5h.9M159.4 296.0h.9M149.0 303.6h.9M166.9 307.2h.9M158.5 297.4h.9M171.8 291.7h.9M157.8 297.0h.9M152.3 291.9h.9M155.0 303.1h.9M156.2 302.1h.9M152.3 293.5h.9M166.5 299.3h.9M156.4 303.4h.9M168.1 296.5h.9M159.5 298.6h.9M171.7 291.6h.9M151.9 299.6h.9M163.4 307.1h.9M174.5 298.1h.9M163.9 300.4h.9M151.5 301.6h.9M158.3 308.2h.9M156.4 291.1h.9M161.2 296.2h.9M160.0 302.6h.9M162.1 305.3h.9M153.1 299.7h.9M163.4 296.3h.9M157.9 296.8h.9M168.5 299.9h.9M149.5 301.5h.9M151.8 298.0h.9M166.3 304.5h.9M164.4 294.6h.9M158.5 299.8h.9M156.4 298.2h.9M151.7 300.9h.9M160.5 293.0h.9M152.9 302.3h.9M158.4 303.4h.9M149.1 299.5h.9M149.7 300.1h.9M152.5 296.8h.9M164.3 307.1h.9M158.1 301.6h.9M149.7 296.9h.9M154.7 302.6h.9M175.1 288.3h.9M169.7 308.8h.9M164.3 297.9h.9M165.9 290.8h.9M153.1 304.7h.9M150.3 288.4h.9M157.2 303.7h.9M159.7 302.7h.9M166.4 301.8h.9M152.3 291.7h.9M164.7 298.3h.9M167.5 307.7h.9M153.0 296.5h.9M170.8 301.3h.9M155.0 307.9h.9M166.5 305.4h.9M160.9 296.8h.9M150.0 283.7h.9M165.2 301.8h.9M159.4 291.9h.9M154.7 307.7h.9M181.0 291.4h.9M151.5 305.3h.9M168.0 305.1h.9M157.5 296.8h.9M154.6 291.4h.9M152.2 295.1h.9M169.6 309.0h.9M161.5 290.1h.9M157.1 296.7h.9M170.3 293.7h.9M162.7 299.7h.9M166.8 296.4h.9M174.4 302.2h.9M157.2 298.7h.9M154.4 307.0h.9M166.5 298.5h.9M185.5 303.1h.9M167.8 310.2h.9M169.4 303.0h.9M149.6 294.3h.9M166.3 299.5h.9M156.2 308.0h.9M165.7 309.3h.9M156.1 293.8h.9M157.8 305.7h.9M148.7 299.8h.9M164.7 301.5h.9M163.3 284.3h.9M163.8 306.3h.9M150.2 302.1h.9M158.7 299.9h.9M190.3 298.1h.9M152.4 300.4h.9M162.7 296.9h.9M181.8 303.1h.9M159.2 297.7h.9M161.0 294.5h.9M157.1 296.6h.9M166.3 295.1h.9M169.3 302.5h.9M154.9 299.4h.9M151.3 294.8h.9M161.8 295.7h.9M150.6 297.8h.9M159.3 303.5h.9M154.2 301.3h.9M162.8 311.1h.9M160.1 286.0h.9M161.8 293.4h.9M162.3 300.9h.9M148.8 285.1h.9M163.7 294.8h.9M168.8 291.0h.9M161.2 309.4h.9M160.7 292.3h.9M164.3 290.7h.9M159.3 309.6h.9M158.1 290.7h.9M158.7 302.2h.9M159.4 285.4h.9M163.6 293.2h.9M154.3 307.3h.9M164.9 296.4h.9M173.4 296.5h.9M176.1 298.3h.9M155.9 293.7h.9M162.7 300.4h.9M169.8 293.0h.9M165.9 293.3h.9M154.3 306.0h.9M153.5 303.1h.9M154.5 306.0h.9M161.9 303.0h.9M174.6 292.5h.9M166.1 301.3h.9M148.9 299.6h.9M162.0 292.7h.9M154.2 308.1h.9M155.6 291.2h.9M181.6 310.8h.9M154.3 302.6h.9M155.9 302.5h.9M161.0 295.4h.9M162.0 298.7h.9M175.0 295.3h.9M159.8 309.8h.9M149.4 306.2h.9M161.2 295.1h.9M159.3 303.7h.9M161.9 296.8h.9M162.4 301.8h.9M148.8 291.4h.9M151.5 299.4h.9M158.1 304.7h.9M156.3 299.5h.9M170.3 292.0h.9M168.5 294.8h.9M170.8 302.1h.9M152.4 310.7h.9M160.0 304.9h.9M159.9 306.1h.9M148.7 298.4h.9M172.4 298.0h.9M153.6 296.2h.9M158.9 298.4h.9M173.5 308.4h.9M157.9 305.9h.9M152.1 304.0h.9M168.5 297.0h.9M156.5 301.9h.9M169.4 296.9h.9M165.8 299.8h.9M153.2 307.3h.9M172.9 292.1h.9M160.7 297.9h.9M158.4 296.1h.9M169.4 300.4h.9M174.7 299.5h.9M158.0 297.4h.9M155.9 299.8h.9M165.6 310.0h.9M163.2 298.6h.9M153.8 289.9h.9M172.6 297.7h.9M157.7 291.1h.9M162.8 299.5h.9M151.4 303.0h.9M181.3 298.2h.9M157.0 303.8h.9M152.4 298.0h.9M173.5 298.3h.9M160.6 294.1h.9M157.8 292.3h.9M153.9 302.2h.9M160.9 310.8h.9M151.7 292.4h.9M163.0 297.6h.9M164.7 295.2h.9M154.5 303.9h.9M173.9 297.0h.9M165.2 303.3h.9M179.7 292.0h.9M171.2 290.4h.9M152.9 291.9h.9M169.5 306.3h.9M164.2 294.6h.9M163.6 303.0h.9M174.0 291.9h.9M157.6 303.9h.9M157.4 293.5h.9M167.1 307.3h.9M163.3 299.3h.9M155.7 298.5h.9M156.2 298.3h.9M160.0 293.5h.9M172.7 310.2h.9M150.3 292.4h.9M152.2 298.8h.9M149.0 301.2h.9M155.9 304.8h.9M153.2 304.5h.9M154.6 291.9h.9M167.9 300.3h.9M174.1 300.0h.9M150.9 292.2h.9M162.1 291.6h.9M157.7 288.7h.9M172.0 304.2h.9M163.1 295.8h.9M165.3 297.9h.9M153.4 297.9h.9M162.8 299.5h.9M165.3 297.3h.9M166.7 305.1h.9M171.8 299.9h.9M157.2 308.5h.9M157.5 296.2h.9M168.9 297.3h.9M167.4 307.5h.9M151.2 299.8h.9M160.3 299.2h.9M156.3 308.7h.9M160.2 301.2h.9M159.4 296.4h.9M162.4 306.0h.9M149.2 303.2h.9M173.3 305.3h.9M172.5 300.7h.9M154.0 296.8h.9M158.0 294.8h.9M171.6 307.0h.9M163.2 302.9h.9M154.9 292.0h.9M157.7 297.2h.9M156.1 294.2h.9M157.2 302.6h.9M159.8 309.0h.9M157.7 310.1h.9M158.6 300.6h.9M161.2 300.4h.9M150.8 289.1h.9M153.8 298.7h.9M160.0 306.2h.9M163.9 294.4h.9M162.6 295.0h.9M154.5 290.0h.9M156.9 295.2h.9M168.5 291.5h.9M163.0 295.5h.9M152.2 303.7h.9M165.2 293.3h.9M151.2 305.8h.9M150.8 300.4h.9M169.8 304.2h.9M155.2 303.5h.9M150.2 289.0h.9M152.0 288.6h.9M163.4 305.9h.9M159.5 302.5h.9M156.3 296.9h.9M164.7 293.3h.9M155.6 290.7h.9M163.4 292.9h.9M148.9 307.3h.9M166.2 309.3h.9M175.7 309.2h.9M166.4 298.0h.9M151.5 308.5h.9M169.5 297.8h.9M173.5 308.0h.9M149.8 291.6h.9M161.4 297.0h.9M155.0 309.6h.9M164.3 307.4h.9M151.0 299.6h.9M169.9 304.1h.9M171.2 306.9h.9M162.4 297.3h.9M151.6 292.9h.9M152.5 296.8h.9M159.5 297.0h.9M161.2 306.1h.9M154.5 301.3h.9M170.7 293.8h.9M155.5 306.0h.9M162.4 304.2h.9M155.4 299.4h.9M165.6 296.6h.9M174.4 302.5h.9M158.7 288.4h.9M174.2 309.2h.9M165.5 308.0h.9M173.8 299.3h.9M148.5 306.0h.9M159.2 293.6h.9M159.2 290.2h.9M158.5 309.9h.9M153.7 298.3h.9M152.7 286.8h.9M159.8 299.4h.9M175.3 304.5h.9M172.0 299.1h.9M152.6 303.6h.9M157.7 293.5h.9M156.5 298.7h.9M184.5 299.2h.9M156.5 310.7h.9M157.4 298.6h.9M164.8 305.7h.9M152.8 299.1h.9M160.4 295.1h.9M167.8 310.0h.9M164.5 300.0h.9M161.2 290.6h.9M154.6 286.7h.9M153.7 289.0h.9M156.6 293.9h.9M160.9 295.3h.9M165.0 290.8h.9M171.3 310.3h.9M157.4 292.9h.9M162.1 292.9h.9M161.2 298.9h.9M171.8 304.7h.9M153.2 308.9h.9M169.6 299.5h.9M160.7 293.5h.9M163.4 294.9h.9M174.7 303.1h.9M175.2 289.5h.9M155.3 303.1h.9M165.4 302.2h.9M151.2 298.1h.9M150.2 301.2h.9M168.3 310.7h.9M170.4 301.2h.9M148.9 306.6h.9M154.4 298.9h.9M162.9 298.9h.9M167.7 301.8h.9M151.5 292.5h.9M170.3 304.7h.9M154.6 290.4h.9M151.7 296.8h.9M163.3 301.4h.9M166.2 305.5h.9M151.8 293.6h.9M154.9 294.6h.9M164.0 308.0h.9M163.2 294.4h.9M169.7 306.0h.9M151.0 304.3h.9M164.2 297.2h.9M167.4 286.7h.9M173.5 283.5h.9M159.9 297.4h.9M157.2 302.6h.9M156.6 307.1h.9M173.3 297.0h.9M161.5 300.9h.9M167.8 294.7h.9M168.0 292.4h.9M150.1 298.2h.9M158.3 284.4h.9M152.1 299.1h.9M152.4 303.1h.9M163.3 294.9h.9M149.8 298.0h.9M177.9 306.6h.9M151.3 290.9h.9M149.6 301.3h.9M172.8 303.1h.9M151.0 292.4h.9M166.2 305.1h.9M156.8 300.4h.9M170.4 301.5h.9M170.1 306.2h.9M155.0 305.6h.9M149.6 308.3h.9M165.9 291.0h.9M159.4 302.7h.9M154.0 306.3h.9M166.0 299.1h.9M154.7 293.7h.9M182.8 309.9h.9M159.5 303.2h.9M160.8 301.5h.9M157.8 299.3h.9M158.5 295.5h.9M169.5 308.8h.9M176.6 298.4h.9M157.6 303.9h.9M161.0 297.8h.9M150.0 306.6h.9M164.5 292.2h.9M150.7 300.2h.9M154.5 290.0h.9M163.0 293.5h.9M159.9 293.5h.9M166.3 307.3h.9M164.1 301.2h.9M167.9 299.9h.9M182.0 294.5h.9M174.5 294.7h.9M156.2 307.0h.9M152.5 290.8h.9M168.0 296.3h.9M158.5 297.8h.9M164.0 295.7h.9M158.7 298.9h.9M150.0 304.2h.9M177.3 299.1h.9M156.6 301.6h.9M156.4 292.2h.9M158.6 295.6h.9M148.5 301.1h.9M153.6 306.4h.9M167.8 305.9h.9M151.8 293.5h.9M163.2 287.7h.9M152.4 294.5h.9M153.2 304.4h.9M162.1 298.9h.9M164.8 305.0h.9M164.4 308.7h.9M173.0 297.8h.9M150.6 305.1h.9M157.0 294.3h.9M160.6 304.1h.9M171.1 301.4h.9M156.5 296.2h.9M149.5 296.6h.9M162.3 302.7h.9M161.5 285.5h.9M155.6 308.4h.9M153.9 307.1h.9M163.1 304.1h.9M164.7 306.8h.9M149.8 294.3h.9M153.9 308.6h.9M155.9 302.8h.9M151.5 302.3h.9M166.1 290.6h.9M169.4 297.8h.9M160.3 290.6h.9M162.4 301.4h.9M177.0 290.6h.9M156.5 301.6h.9M148.6 307.8h.9M156.7 294.9h.9M164.2 302.1h.9M158.5 304.8h.9M151.6 299.5h.9M160.7 299.2h.9M162.2 293.5h.9M159.0 299.5h.9M182.2 303.0h.9M177.6 304.0h.9M166.1 303.8h.9M171.9 288.8h.9M161.5 298.4h.9M162.0 287.7h.9M169.6 292.6h.9M163.8 307.0h.9M160.3 301.2h.9M161.6 298.2h.9M165.1 293.6h.9M158.6 294.7h.9M157.7 301.5h.9M154.3 309.3h.9M185.9 309.2h.9M172.7 305.9h.9M150.2 297.3h.9M159.5 296.5h.9M171.3 282.2h.9M163.9 291.7h.9M163.3 284.6h.9M158.9 297.7h.9M167.5 291.3h.9M156.2 299.2h.9M159.7 302.3h.9M169.2 301.2h.9M173.5 301.7h.9" stroke="#000" stroke-opacity="0.5" stroke-width="0.9" fill="none"/>
<path d="M197.4 305.0h.9M171.6 289.8h.9M165.7 294.3h.9M185.6 295.7h.9M169.4 301.6h.9M169.2 304.0h.9M162.9 292.2h.9M166.7 305.9h.9M157.9 281.5h.9M170.9 293.7h.9M174.5 296.2h.9M188.4 300.7h.9M164.1 296.0h.9M189.2 293.0h.9M178.8 305.7h.9M157.5 299.6h.9M187.0 303.8h.9M180.0 299.4h.9M178.6 290.4h.9M188.1 309.0h.9M179.5 305.7h.9M155.4 296.8h.9M169.9 303.8h.9M154.7 299.0h.9M184.6 290.9h.9M189.7 302.4h.9M163.8 291.1h.9M189.1 294.2h.9M161.0 297.2h.9M183.1 308.0h.9M165.9 282.2h.9M187.4 298.8h.9M166.2 298.7h.9M150.3 310.6h.9M153.3 290.9h.9M151.6 308.5h.9M162.3 299.6h.9M160.4 288.7h.9M161.7 300.3h.9M164.2 294.5h.9M170.9 293.5h.9M169.2 288.9h.9M151.6 287.5h.9M156.8 303.9h.9M151.3 287.7h.9M200.5 294.5h.9M183.3 290.6h.9M165.1 296.0h.9M164.3 301.9h.9M171.1 306.9h.9M166.5 300.3h.9M159.5 307.2h.9M154.5 286.8h.9M161.0 292.7h.9M149.9 283.9h.9M157.8 299.0h.9M188.7 292.3h.9M158.5 298.7h.9M179.7 308.6h.9M178.6 292.5h.9M179.4 279.9h.9M173.2 311.1h.9M164.2 299.0h.9M168.1 304.6h.9M183.6 297.6h.9M177.5 301.1h.9M172.0 287.2h.9M172.4 304.9h.9M163.1 285.2h.9M181.8 311.0h.9M167.2 306.3h.9M153.5 308.2h.9M166.4 307.4h.9M155.9 300.4h.9M161.9 282.9h.9M150.5 302.4h.9M163.0 304.1h.9M174.7 304.3h.9M165.6 292.9h.9M166.9 301.3h.9M160.2 302.3h.9M170.0 298.2h.9M186.1 305.5h.9M195.7 310.4h.9M172.5 290.8h.9M159.5 300.5h.9M184.7 293.9h.9M177.8 302.2h.9M161.5 305.4h.9M164.3 287.7h.9M161.7 283.0h.9M175.1 287.5h.9M175.0 299.4h.9M172.7 298.9h.9M175.1 305.2h.9M156.5 302.1h.9M152.2 295.5h.9M155.8 308.0h.9M174.5 294.4h.9M166.4 289.7h.9M177.8 291.1h.9M176.8 308.2h.9M180.4 308.6h.9M159.1 284.8h.9M165.6 295.3h.9M171.3 288.4h.9M198.6 303.2h.9M174.9 299.8h.9M162.5 284.6h.9M157.9 295.6h.9M186.5 310.5h.9M158.4 305.1h.9M170.1 304.1h.9M169.9 293.4h.9M153.7 302.0h.9M159.6 291.6h.9M189.7 293.5h.9M191.7 283.9h.9M178.2 299.9h.9M166.9 300.5h.9M155.4 290.8h.9M150.3 288.8h.9M155.0 292.8h.9M170.6 284.3h.9M173.2 297.3h.9M163.3 295.0h.9M178.9 284.5h.9M170.3 295.6h.9M174.4 301.9h.9M193.6 296.5h.9M179.9 287.1h.9M153.1 290.8h.9M165.9 290.5h.9M170.5 308.8h.9M160.4 298.7h.9M186.1 311.2h.9M180.0 295.6h.9M175.0 298.1h.9M160.0 289.1h.9M172.2 285.0h.9M156.8 289.9h.9M180.1 290.6h.9M163.8 290.5h.9M170.8 304.5h.9M197.8 307.3h.9M172.6 289.1h.9M184.6 278.4h.9M189.1 298.0h.9M159.1 303.4h.9M176.4 302.1h.9M165.7 284.1h.9M182.5 300.9h.9M161.5 299.0h.9M188.5 298.7h.9M182.5 306.2h.9M162.5 299.8h.9M162.1 301.7h.9M171.9 303.8h.9M170.9 296.9h.9M170.2 301.7h.9M179.6 281.7h.9M165.3 305.5h.9M160.1 301.6h.9M175.0 302.7h.9M175.9 294.5h.9M185.1 288.2h.9M182.3 291.7h.9M167.3 305.5h.9M165.7 298.2h.9M172.1 290.7h.9M170.4 280.8h.9M161.6 295.6h.9M177.9 295.7h.9M153.7 296.1h.9M189.5 298.5h.9M174.7 297.8h.9M168.4 291.1h.9M169.6 298.7h.9M158.1 305.2h.9M171.8 309.7h.9M170.6 304.8h.9M154.5 301.9h.9M167.8 295.5h.9M156.3 306.5h.9M172.4 305.9h.9M183.0 290.7h.9M166.2 288.4h.9M167.1 294.4h.9M159.7 297.9h.9M162.9 297.9h.9M184.3 303.9h.9M174.4 308.4h.9M170.9 299.0h.9M170.0 284.7h.9M170.2 287.9h.9M188.6 300.3h.9M160.6 305.4h.9M170.6 290.9h.9M182.8 303.5h.9M177.6 308.2h.9M152.9 289.7h.9M166.1 298.8h.9M158.4 293.5h.9M177.8 286.7h.9M182.5 301.2h.9M173.9 293.2h.9M157.9 290.3h.9M192.5 305.5h.9M157.4 297.6h.9M155.3 292.8h.9M151.5 310.4h.9M180.8 287.4h.9M159.1 308.0h.9M194.3 304.6h.9M173.1 302.6h.9M161.8 293.1h.9M158.7 296.2h.9M164.4 299.0h.9M164.2 307.2h.9M155.4 305.1h.9M172.5 307.4h.9M158.4 303.0h.9M173.7 296.3h.9M173.4 297.2h.9M174.3 300.7h.9M153.8 298.0h.9M178.1 290.1h.9M175.6 302.4h.9M181.5 298.3h.9M159.0 293.4h.9M163.2 306.2h.9M183.8 301.7h.9M163.4 306.8h.9M155.3 307.8h.9M165.6 299.1h.9M157.5 305.6h.9M176.7 308.5h.9M175.0 304.0h.9M161.9 299.8h.9M163.2 302.9h.9M172.0 291.5h.9M180.7 285.0h.9M165.5 302.8h.9M190.6 306.3h.9M156.8 297.8h.9M171.4 303.6h.9M173.2 294.0h.9M169.1 297.0h.9M166.7 297.9h.9M161.4 290.7h.9M172.1 303.3h.9M166.6 297.9h.9M174.0 302.6h.9M164.2 294.3h.9M204.5 298.0h.9M150.3 293.2h.9M175.9 298.2h.9M158.0 292.4h.9M197.7 287.9h.9M183.5 299.3h.9M185.9 300.0h.9M181.0 296.3h.9M166.0 307.0h.9M157.6 284.8h.9M176.9 300.0h.9M163.7 301.5h.9M169.9 290.4h.9M166.6 304.7h.9M167.5 289.2h.9M185.3 299.2h.9M170.3 297.5h.9M193.4 299.0h.9M162.6 296.9h.9M177.6 308.5h.9M162.7 292.8h.9M173.9 302.4h.9M167.3 294.6h.9M152.3 304.4h.9M168.1 285.7h.9M180.9 298.5h.9M156.2 304.4h.9M183.8 303.4h.9M200.9 294.9h.9M158.3 301.2h.9M173.9 306.6h.9M168.8 290.1h.9M159.4 308.2h.9M170.1 297.6h.9M181.8 291.7h.9M177.9 285.9h.9M170.5 294.0h.9M180.0 304.9h.9M170.2 298.7h.9M149.8 293.8h.9M169.1 291.2h.9M155.7 295.8h.9M155.5 307.7h.9M165.1 284.8h.9M179.7 301.2h.9M159.7 291.9h.9M187.1 305.5h.9M176.1 287.7h.9M162.5 283.5h.9M156.1 296.8h.9M152.6 300.6h.9M166.6 302.3h.9M164.3 298.8h.9M192.3 300.1h.9M159.6 282.6h.9M163.9 288.4h.9M172.8 302.1h.9M183.9 286.3h.9M159.0 286.1h.9M170.9 290.9h.9M162.4 301.7h.9M178.4 306.8h.9M154.5 308.7h.9M167.8 301.5h.9M183.5 300.3h.9M194.7 295.8h.9M158.6 286.6h.9M190.5 300.3h.9M163.0 294.9h.9M187.8 300.5h.9M182.9 302.0h.9M186.7 300.0h.9M199.1 302.6h.9M170.4 295.4h.9M199.8 299.2h.9M179.8 285.6h.9M168.4 283.1h.9M169.1 301.3h.9M154.2 299.9h.9M182.5 292.6h.9M170.5 299.9h.9M187.4 298.3h.9M182.7 294.3h.9M181.2 289.7h.9M160.3 302.4h.9M177.7 299.9h.9M186.8 302.9h.9M169.8 297.8h.9M167.0 299.0h.9M161.7 293.7h.9M164.3 295.3h.9M185.2 292.1h.9M169.4 282.8h.9M166.5 299.0h.9M155.6 293.1h.9M170.3 287.7h.9M162.1 297.2h.9M172.3 301.4h.9M159.1 308.7h.9M182.0 301.3h.9M165.8 295.9h.9M170.8 293.7h.9M182.9 297.2h.9M163.2 301.7h.9M170.2 308.8h.9M167.4 297.6h.9M178.2 302.1h.9M170.8 285.6h.9M183.8 304.4h.9M172.5 293.4h.9M154.4 297.4h.9M163.1 294.9h.9M164.4 288.4h.9M178.1 296.9h.9M171.4 302.2h.9M163.7 290.9h.9M152.5 294.8h.9M179.2 307.6h.9M184.2 305.9h.9M174.6 294.3h.9M164.4 295.7h.9M168.0 289.8h.9M174.2 304.7h.9M164.0 283.9h.9M165.6 309.7h.9M157.3 305.7h.9M161.8 297.5h.9M171.0 299.0h.9M178.6 295.6h.9M158.6 283.7h.9M154.1 306.9h.9M171.9 309.7h.9M158.2 292.1h.9M172.1 294.7h.9M155.2 306.0h.9M167.7 294.5h.9M167.9 299.4h.9M166.7 298.1h.9M184.5 292.2h.9M173.0 295.2h.9M164.1 300.4h.9M157.4 304.4h.9M185.5 279.0h.9M158.0 309.9h.9M183.1 282.5h.9M184.7 302.1h.9" stroke="#000" stroke-opacity="0.3" stroke-width="0.9" fill="none"/>
<ellipse cx="224" cy="299" rx="6" ry="6" fill="#000" fill-opacity="0.55" filter="url(#b2)"/>
<path d="M226.9 296.8h.9M218.2 305.0h.9M218.0 305.7h.9M225.0 300.5h.9M226.7 300.4h.9M218.7 298.0h.9M215.5 308.4h.9M220.7 286.8h.9M227.4 296.7h.9M226.8 305.3h.9M224.1 295.8h.9M221.3 300.6h.9M225.3 294.9h.9M214.1 301.8h.9M229.1 300.8h.9M216.7 308.9h.9M231.0 302.5h.9M218.8 297.7h.9M230.8 288.2h.9M214.6 295.4h.9M219.4 301.0h.9M231.6 301.0h.9M216.6 300.7h.9M211.7 301.5h.9M227.6 308.8h.9M217.3 299.0h.9M214.8 305.1h.9M217.1 297.5h.9M223.3 305.1h.9M217.9 296.1h.9M217.2 302.9h.9M213.6 299.9h.9M221.8 304.1h.9M222.9 301.1h.9M224.2 293.9h.9M233.1 306.3h.9M223.0 301.9h.9M214.1 290.0h.9M220.2 299.7h.9M222.6 293.9h.9M223.9 289.1h.9M228.6 299.1h.9M227.0 289.8h.9M222.3 309.8h.9M219.5 305.2h.9M218.5 298.8h.9M218.7 298.6h.9M215.6 304.7h.9M220.3 305.0h.9M220.8 298.1h.9M219.3 293.7h.9M222.6 296.7h.9M222.8 302.3h.9M218.8 309.5h.9M224.4 295.1h.9M221.2 302.9h.9M224.0 298.1h.9M215.8 286.7h.9M218.0 307.6h.9M220.1 303.1h.9M221.2 302.0h.9M222.1 299.3h.9M229.7 291.2h.9M227.2 296.1h.9M221.3 298.7h.9M222.6 308.0h.9M225.8 295.4h.9M227.2 291.1h.9M225.4 296.1h.9M208.5 295.4h.9M227.2 296.3h.9M224.3 299.2h.9M223.7 304.6h.9M221.3 287.1h.9M220.5 306.2h.9M210.4 301.3h.9M223.5 306.7h.9M216.5 291.0h.9M225.0 289.4h.9M228.5 303.8h.9M223.9 305.1h.9M232.4 304.8h.9M220.4 306.1h.9M219.4 290.3h.9M220.2 297.7h.9M219.6 310.1h.9M211.7 289.8h.9M215.4 302.3h.9M232.9 303.6h.9M231.0 294.3h.9M226.3 300.3h.9M206.5 296.2h.9M224.7 303.6h.9M224.0 292.5h.9M227.8 298.4h.9M219.7 288.4h.9M212.7 302.9h.9M222.6 301.6h.9M213.5 301.8h.9M227.6 288.1h.9M227.5 290.1h.9M228.3 295.7h.9M225.0 290.4h.9M227.4 302.5h.9M229.5 307.5h.9M227.1 298.5h.9M222.3 298.5h.9M217.6 298.8h.9M219.1 294.5h.9M225.5 302.9h.9M226.6 295.5h.9M226.8 296.5h.9M224.9 298.1h.9M213.0 307.3h.9M224.8 309.4h.9M231.2 299.4h.9M222.5 297.3h.9M232.3 290.6h.9M219.4 293.7h.9M221.2 293.4h.9M222.1 299.9h.9M216.7 304.0h.9M221.3 298.3h.9M217.9 304.6h.9M233.2 298.7h.9M224.0 289.4h.9M234.5 298.4h.9M226.1 298.7h.9M210.8 293.7h.9M217.9 296.7h.9M236.2 302.6h.9M222.3 293.4h.9M227.6 295.0h.9M213.8 300.1h.9M225.5 299.1h.9M217.6 299.4h.9M225.1 287.4h.9M231.9 300.8h.9M226.4 295.8h.9M214.9 300.2h.9M231.3 298.0h.9M214.0 301.2h.9M226.6 299.9h.9M222.4 304.0h.9M222.2 308.4h.9M220.3 288.0h.9M224.0 301.8h.9M235.2 291.2h.9M221.8 301.6h.9M215.6 297.0h.9M215.6 311.1h.9M216.2 293.1h.9M222.0 293.4h.9M224.7 300.5h.9M229.1 301.4h.9M223.6 298.8h.9M215.6 296.7h.9M215.3 299.2h.9M228.5 303.2h.9M232.2 299.3h.9M221.2 305.5h.9M214.3 302.5h.9M219.5 297.2h.9M227.3 305.2h.9M215.4 296.0h.9M226.4 289.0h.9M218.8 299.6h.9M217.9 311.1h.9M234.4 303.6h.9M216.5 299.0h.9M216.9 298.6h.9M218.6 295.6h.9M223.0 302.6h.9M217.8 307.3h.9M220.3 299.4h.9M218.8 290.0h.9M227.6 303.7h.9M222.6 298.1h.9M225.0 295.3h.9M213.8 308.2h.9M226.6 302.7h.9M226.7 298.0h.9M213.6 297.7h.9M224.7 295.1h.9M229.0 302.5h.9M226.6 301.7h.9M219.5 298.5h.9M225.3 287.2h.9M227.2 307.4h.9M224.8 294.4h.9M222.3 306.6h.9M227.0 299.4h.9M235.7 304.6h.9M220.5 307.4h.9M221.2 301.5h.9M218.1 294.4h.9M228.6 299.6h.9M223.5 292.9h.9M220.0 297.3h.9M226.8 291.0h.9M220.9 303.6h.9M225.4 295.6h.9M226.3 298.9h.9M221.2 306.6h.9M213.4 294.2h.9M229.9 304.7h.9M225.7 295.2h.9M224.4 302.2h.9M226.8 307.3h.9M213.0 299.3h.9M230.9 299.5h.9M228.9 302.6h.9M232.6 304.2h.9M229.6 290.9h.9M214.7 300.6h.9M220.2 303.1h.9M223.6 294.9h.9M223.9 295.5h.9M218.6 300.8h.9M225.9 305.7h.9M225.6 300.4h.9M224.3 296.9h.9M226.3 287.5h.9M227.4 310.9h.9M230.4 293.3h.9M227.8 300.9h.9M232.7 298.4h.9M217.1 291.5h.9M228.3 308.0h.9M216.9 299.3h.9M240.4 297.6h.9M224.4 305.3h.9M215.4 299.0h.9M216.4 297.3h.9M225.8 291.8h.9M225.0 305.3h.9M223.7 299.0h.9M217.8 297.9h.9M229.8 301.6h.9M233.7 293.0h.9M219.0 300.1h.9M225.6 295.5h.9M220.5 295.9h.9M226.6 296.0h.9M218.4 305.8h.9M226.5 294.9h.9M208.7 297.1h.9M218.0 294.1h.9M227.2 294.2h.9M225.9 294.4h.9M227.2 295.6h.9M234.1 296.7h.9M222.0 302.4h.9M223.9 296.4h.9M219.6 297.4h.9M213.8 297.9h.9M228.4 300.3h.9M222.6 309.1h.9M221.9 294.8h.9M221.5 297.4h.9M231.6 301.9h.9M217.4 299.3h.9M223.1 306.3h.9M227.1 297.0h.9M229.6 303.8h.9M226.7 300.8h.9M225.3 299.8h.9M222.9 295.4h.9M227.4 296.8h.9M217.6 306.2h.9M222.8 296.1h.9M219.7 298.9h.9M223.2 295.7h.9M232.0 296.0h.9M218.1 307.9h.9M228.1 301.3h.9M224.7 298.8h.9M221.7 294.4h.9M214.1 304.5h.9M218.5 290.5h.9M222.3 284.7h.9M218.7 304.0h.9M220.4 295.8h.9M235.5 303.0h.9M227.7 298.4h.9M223.1 309.0h.9M225.9 300.9h.9M223.9 304.0h.9M226.5 299.6h.9M219.3 296.1h.9M226.3 300.8h.9M227.2 294.0h.9M208.4 291.5h.9M220.1 297.0h.9M215.3 301.9h.9M222.7 294.1h.9M228.7 299.4h.9M221.4 297.8h.9M221.5 302.6h.9M210.4 303.1h.9M227.6 300.6h.9M238.4 300.1h.9M226.2 302.4h.9M228.1 291.2h.9M214.2 293.4h.9M231.2 301.4h.9M208.4 304.7h.9M231.5 303.7h.9M214.4 300.0h.9M228.0 305.5h.9M218.5 307.7h.9M229.1 297.9h.9M219.5 297.6h.9M223.8 291.8h.9M226.4 303.6h.9M227.4 301.1h.9M240.8 300.8h.9M221.7 305.0h.9M224.0 299.9h.9M235.2 310.7h.9M217.8 306.5h.9M220.4 308.2h.9M219.1 296.3h.9M222.7 301.7h.9M223.1 307.4h.9M230.1 295.3h.9M227.0 297.2h.9M216.9 294.0h.9M222.3 303.1h.9M222.7 300.0h.9M218.4 287.2h.9M228.6 310.5h.9M216.5 293.6h.9M228.7 302.8h.9M229.3 305.0h.9M215.8 297.4h.9M222.1 305.5h.9M219.8 288.1h.9M231.3 295.6h.9M220.3 295.5h.9M217.3 303.4h.9M224.2 299.6h.9M226.0 294.6h.9M216.9 306.8h.9M221.8 295.2h.9M215.7 295.9h.9M209.8 303.6h.9M220.9 306.6h.9M225.9 298.0h.9M217.0 298.0h.9M205.9 304.3h.9M221.4 295.8h.9M234.6 295.4h.9M232.5 303.9h.9M221.4 299.1h.9M233.3 284.9h.9M228.8 295.0h.9M229.8 300.6h.9M215.1 297.7h.9M215.0 285.6h.9M213.7 296.3h.9M210.9 293.4h.9M227.5 308.6h.9M230.3 309.7h.9M220.9 303.6h.9M214.5 298.2h.9M204.6 293.8h.9M222.7 303.8h.9M215.5 306.9h.9M228.0 301.8h.9M220.6 300.1h.9M224.1 307.0h.9M217.5 297.3h.9M215.0 301.9h.9M224.4 294.7h.9M231.9 305.9h.9M227.8 302.9h.9M232.3 308.5h.9M226.1 295.5h.9M219.0 294.7h.9M225.7 300.8h.9M222.1 295.4h.9M221.6 305.0h.9M216.5 298.9h.9M226.1 295.5h.9M220.7 301.3h.9M226.3 306.1h.9M221.0 303.9h.9M226.8 300.4h.9M211.4 290.0h.9M218.9 294.8h.9M227.2 296.0h.9M224.3 297.8h.9M208.5 297.5h.9M218.0 303.5h.9M220.9 300.7h.9M216.9 299.1h.9M224.1 295.6h.9M235.5 303.0h.9M232.1 308.0h.9" stroke="#000" stroke-opacity="0.45" stroke-width="0.9" fill="none"/>
<path d="M200.2 299.7h.9M189.6 298.1h.9M201.6 288.3h.9M205.3 301.4h.9M207.6 298.3h.9M209.3 305.1h.9M194.1 306.9h.9M193.2 297.0h.9M190.9 297.9h.9M185.6 300.1h.9M190.1 289.6h.9M203.8 300.4h.9M199.2 292.2h.9M208.4 288.5h.9M187.6 296.8h.9M191.6 296.8h.9M209.8 308.8h.9M191.0 292.6h.9M194.2 294.6h.9M187.6 303.2h.9M187.7 297.0h.9M188.0 306.3h.9M194.1 290.7h.9M204.4 292.8h.9M192.6 296.3h.9M192.5 298.6h.9M189.0 294.1h.9M201.0 297.8h.9M187.8 301.4h.9M202.9 301.9h.9M196.4 299.7h.9M193.8 307.7h.9M197.4 303.7h.9M203.6 297.6h.9M189.2 296.6h.9M204.4 296.1h.9M188.9 297.7h.9M204.4 308.9h.9M205.7 291.9h.9M191.6 302.6h.9M192.5 295.3h.9M208.2 309.5h.9M208.2 304.7h.9M199.5 292.9h.9M194.9 294.1h.9M200.3 292.4h.9M209.1 296.3h.9M198.4 308.9h.9M203.4 303.4h.9M186.1 308.3h.9M197.5 288.6h.9M197.0 309.7h.9M195.6 300.6h.9M196.5 309.4h.9M205.8 299.5h.9M191.2 292.3h.9M192.5 308.0h.9M193.6 305.1h.9M208.9 302.5h.9M198.2 305.8h.9M210.2 302.5h.9M204.1 306.2h.9M186.0 295.9h.9M205.6 298.3h.9M198.6 293.9h.9M206.8 304.7h.9M186.7 294.2h.9M196.2 297.8h.9M206.1 305.4h.9M206.9 291.2h.9M190.3 295.0h.9M206.1 290.1h.9M209.8 290.1h.9M190.5 295.5h.9M211.0 294.3h.9M190.7 291.7h.9M202.9 288.5h.9M188.7 308.7h.9M202.4 297.4h.9M204.7 307.7h.9M186.7 306.2h.9M186.8 308.0h.9M200.5 308.9h.9M211.8 296.3h.9M187.8 292.9h.9M203.0 305.5h.9M211.9 291.4h.9M186.7 298.5h.9M200.0 305.7h.9M196.4 290.9h.9M202.9 309.5h.9M207.1 303.2h.9M190.2 298.8h.9M188.2 300.1h.9M208.0 306.0h.9M195.3 294.5h.9M210.8 303.5h.9M199.4 302.7h.9M186.2 304.5h.9M200.2 305.0h.9M189.6 298.9h.9M190.0 305.4h.9M190.2 291.4h.9M190.5 298.2h.9M191.8 296.1h.9M209.4 295.4h.9M185.5 290.9h.9M209.9 288.2h.9M188.7 289.4h.9M201.1 304.1h.9M205.5 294.0h.9M194.6 309.4h.9M204.7 301.2h.9M186.2 295.4h.9M185.7 290.2h.9M194.5 290.9h.9M197.4 302.9h.9M188.1 300.4h.9M185.7 292.9h.9M187.6 302.5h.9M199.7 307.6h.9M200.0 302.9h.9M210.5 306.9h.9M208.2 301.6h.9M201.0 306.7h.9M203.8 292.7h.9M199.8 309.0h.9M205.3 289.9h.9M202.4 307.4h.9M195.0 297.8h.9M189.8 309.1h.9M204.4 292.5h.9M195.9 301.1h.9M201.2 292.9h.9M198.7 301.5h.9M207.8 297.9h.9M209.0 290.9h.9M207.3 298.0h.9M202.4 298.6h.9M204.9 291.3h.9M199.1 301.1h.9M188.0 299.0h.9M205.4 288.8h.9M209.1 304.2h.9M186.6 309.3h.9M188.5 291.0h.9M209.0 308.4h.9M198.0 295.0h.9M193.2 294.0h.9M206.9 296.0h.9M194.5 307.3h.9M202.6 302.9h.9M200.7 296.5h.9M210.9 291.5h.9M195.0 308.3h.9M185.1 303.4h.9M197.4 305.4h.9M210.4 290.1h.9M189.5 307.0h.9M201.3 288.7h.9M188.3 289.0h.9M192.2 303.9h.9M188.7 304.5h.9M196.7 302.3h.9M204.4 305.3h.9M208.6 307.7h.9M203.1 309.2h.9M197.2 299.9h.9M187.5 305.6h.9M190.3 296.5h.9" stroke="#000" stroke-opacity="0.35" stroke-width="0.9" fill="none"/>
<path d="M218.4 272.7h.9M220.0 268.7h.9M230.5 265.7h.9M222.4 273.6h.9M209.8 266.7h.9M223.8 269.0h.9M222.0 270.9h.9M221.0 270.6h.9M219.5 277.2h.9M209.8 268.2h.9M224.0 275.0h.9M226.1 274.2h.9M204.4 278.1h.9M215.8 272.5h.9M211.6 276.5h.9M222.1 267.4h.9M224.9 278.0h.9M225.6 263.5h.9M226.2 275.9h.9M237.7 276.6h.9M233.8 274.2h.9M208.3 263.7h.9M229.5 275.9h.9M222.4 279.8h.9M220.5 273.8h.9M223.3 273.3h.9M217.5 272.9h.9M224.4 279.3h.9M221.2 275.0h.9M225.1 268.6h.9M214.1 273.5h.9M218.7 268.2h.9M217.1 264.8h.9M228.9 275.4h.9M229.6 261.8h.9M220.7 274.3h.9M215.8 277.3h.9M220.8 275.1h.9M220.7 271.6h.9M217.7 273.2h.9M230.5 272.4h.9M215.7 269.9h.9M227.1 280.0h.9M225.5 275.1h.9M226.3 267.9h.9M217.9 275.5h.9M223.6 282.5h.9M217.5 277.3h.9M232.4 268.5h.9M220.1 276.3h.9M224.0 274.7h.9M231.9 279.1h.9M214.3 269.6h.9M214.8 272.0h.9M226.4 274.0h.9M227.7 276.0h.9M216.9 263.4h.9M217.4 267.1h.9M211.7 271.3h.9M234.7 270.5h.9M226.5 276.2h.9M221.4 268.7h.9M234.4 273.0h.9M235.2 274.4h.9M220.4 273.1h.9M217.8 269.7h.9M225.4 269.2h.9M226.0 267.7h.9M208.5 271.6h.9M228.9 269.4h.9M234.9 278.9h.9M220.2 279.0h.9M219.1 272.8h.9M224.2 272.7h.9M229.8 267.5h.9M213.7 265.3h.9M218.9 271.9h.9M213.2 276.0h.9M211.0 268.2h.9M231.9 270.0h.9M222.6 259.3h.9M221.3 273.3h.9M219.9 276.2h.9M219.3 273.2h.9M215.9 272.2h.9M220.8 277.6h.9M216.3 267.8h.9M218.4 270.1h.9M219.1 279.2h.9M217.9 281.9h.9M229.5 273.1h.9M220.3 273.6h.9M215.1 275.7h.9M224.6 271.5h.9M217.7 275.5h.9M211.7 270.2h.9M214.2 264.7h.9M214.0 275.8h.9M230.0 268.5h.9M217.1 275.8h.9M222.2 269.7h.9M216.4 278.2h.9M208.4 266.2h.9M221.0 274.6h.9M214.9 268.3h.9M229.0 273.8h.9M212.5 274.7h.9M219.2 278.6h.9M227.5 268.5h.9M215.9 272.9h.9M217.7 275.6h.9M219.2 281.5h.9M213.8 266.0h.9M217.2 270.4h.9M217.3 269.9h.9M214.7 275.1h.9M220.5 271.4h.9M210.8 275.6h.9M230.7 272.1h.9M221.0 278.6h.9M220.5 277.1h.9M218.0 269.2h.9M231.0 266.2h.9M226.1 279.1h.9M222.2 273.2h.9M228.1 268.1h.9M220.3 274.6h.9M222.1 265.1h.9M222.7 270.8h.9M230.6 282.8h.9M210.8 274.4h.9M218.5 261.4h.9M225.4 284.6h.9M217.9 281.3h.9M231.6 275.5h.9M222.3 281.5h.9M208.6 272.0h.9M214.3 275.3h.9M221.6 274.7h.9M224.6 283.4h.9M231.5 273.6h.9M219.3 279.5h.9M223.9 278.0h.9M202.5 278.7h.9M228.7 260.6h.9M221.6 274.9h.9M208.9 278.7h.9M223.7 268.3h.9M215.0 272.7h.9M221.5 270.7h.9M223.3 279.3h.9M222.1 272.7h.9M234.6 278.4h.9M218.4 273.0h.9M217.0 272.4h.9M218.4 268.9h.9M225.9 271.2h.9M215.1 270.4h.9M213.9 272.4h.9M219.6 268.8h.9M227.7 274.1h.9M226.9 273.6h.9M225.3 265.7h.9M218.9 277.7h.9M217.3 274.7h.9M210.7 264.5h.9M210.7 282.5h.9M225.2 269.0h.9M223.8 272.5h.9M223.7 270.9h.9" stroke="#000" stroke-opacity="0.35" stroke-width="0.9" fill="none"/>
</g>
<text x="155.0" y="248.0" font-size="4.6" font-weight="normal" text-anchor="start" fill="#444" >Q1</text>
<text x="232.0" y="248.0" font-size="4.6" font-weight="normal" text-anchor="start" fill="#444" >Q2</text>
<text x="232.7" y="304.0" font-size="4.6" font-weight="normal" text-anchor="start" fill="#444" >Q4</text>
<text x="157.9" y="256.8" font-size="6.8" font-weight="bold" text-anchor="start" fill="#000"  stroke="#000" stroke-width="0.3">0.1%</text>
<text x="209.2" y="256.8" font-size="6.8" font-weight="bold" text-anchor="start" fill="#000"  stroke="#000" stroke-width="0.3">1.1%</text>
<text x="189.0" y="328.5" font-size="6.9" font-weight="bold" text-anchor="middle" fill="#000"  stroke="#000" stroke-width="0.3">CD57-FITC</text>
<line x1="284.2" y1="126.4" x2="287.2" y2="126.4" stroke="#000" stroke-width="0.8"/>
<text x="283.7" y="128.8" font-size="6.8" font-weight="bold" text-anchor="end" fill="#000"  stroke="#000" stroke-width="0.3">0</text>
<line x1="284.2" y1="103.3" x2="287.2" y2="103.3" stroke="#000" stroke-width="0.8"/>
<text x="283.7" y="105.7" font-size="6.8" font-weight="bold" text-anchor="end" fill="#000"  stroke="#000" stroke-width="0.3">20</text>
<line x1="284.2" y1="80.2" x2="287.2" y2="80.2" stroke="#000" stroke-width="0.8"/>
<text x="283.7" y="82.6" font-size="6.8" font-weight="bold" text-anchor="end" fill="#000"  stroke="#000" stroke-width="0.3">40</text>
<line x1="284.2" y1="57.0" x2="287.2" y2="57.0" stroke="#000" stroke-width="0.8"/>
<text x="283.7" y="59.4" font-size="6.8" font-weight="bold" text-anchor="end" fill="#000"  stroke="#000" stroke-width="0.3">60</text>
<line x1="284.2" y1="33.9" x2="287.2" y2="33.9" stroke="#000" stroke-width="0.8"/>
<text x="283.7" y="36.3" font-size="6.8" font-weight="bold" text-anchor="end" fill="#000"  stroke="#000" stroke-width="0.3">80</text>
<line x1="284.2" y1="10.8" x2="287.2" y2="10.8" stroke="#000" stroke-width="0.8"/>
<text x="283.7" y="13.2" font-size="6.8" font-weight="bold" text-anchor="end" fill="#000"  stroke="#000" stroke-width="0.3">100</text>
<path d="M293.4 18.0V14.8M292.0 14.8h2.8" stroke="#333" stroke-width="0.8"/>
<rect x="289.4" y="18.0" width="8.0" height="108.4" fill="#3b3b3b" stroke="#1a1a1a" stroke-width="0.8"/>
<path d="M322.3 35.4V28.0M320.9 28.0h2.8" stroke="#333" stroke-width="0.8"/>
<rect x="318.3" y="35.4" width="8.0" height="91.0" fill="#3b3b3b" stroke="#1a1a1a" stroke-width="0.8"/>
<path d="M351.1 49.8V37.2M349.7 37.2h2.8" stroke="#333" stroke-width="0.8"/>
<rect x="347.1" y="49.8" width="8.0" height="76.6" fill="#3b3b3b" stroke="#1a1a1a" stroke-width="0.8"/>
<path d="M380.0 62.5V49.3M378.6 49.3h2.8" stroke="#333" stroke-width="0.8"/>
<rect x="376.0" y="62.5" width="8.0" height="63.9" fill="#3b3b3b" stroke="#1a1a1a" stroke-width="0.8"/>
<path d="M408.8 106.9V101.8M407.4 101.8h2.8" stroke="#333" stroke-width="0.8"/>
<rect x="404.8" y="106.9" width="8.0" height="19.5" fill="#3b3b3b" stroke="#1a1a1a" stroke-width="0.8"/>
<path d="M437.7 44.0V32.8M436.3 32.8h2.8" stroke="#333" stroke-width="0.8"/>
<rect x="433.7" y="44.0" width="8.0" height="82.4" fill="#3b3b3b" stroke="#1a1a1a" stroke-width="0.8"/>
<path d="M466.6 102.7V96.8M465.2 96.8h2.8" stroke="#333" stroke-width="0.8"/>
<rect x="462.6" y="102.7" width="8.0" height="23.7" fill="#3b3b3b" stroke="#1a1a1a" stroke-width="0.8"/>
<path d="M495.4 115.6V113.8M494.0 113.8h2.8" stroke="#333" stroke-width="0.8"/>
<rect x="491.4" y="115.6" width="8.0" height="10.8" fill="#3b3b3b" stroke="#1a1a1a" stroke-width="0.8"/>
<path d="M287.2 10.2H518.5V126.4H287.2Z" fill="none" stroke="#333" stroke-width="1"/>
<line x1="287.2" y1="10.2" x2="287.2" y2="126.4" stroke="#000" stroke-width="1"/>
<line x1="301.7" y1="126.4" x2="301.7" y2="128.4" stroke="#000" stroke-width="0.7"/>
<line x1="330.6" y1="126.4" x2="330.6" y2="128.4" stroke="#000" stroke-width="0.7"/>
<line x1="359.5" y1="126.4" x2="359.5" y2="128.4" stroke="#000" stroke-width="0.7"/>
<line x1="388.4" y1="126.4" x2="388.4" y2="128.4" stroke="#000" stroke-width="0.7"/>
<line x1="417.3" y1="126.4" x2="417.3" y2="128.4" stroke="#000" stroke-width="0.7"/>
<line x1="446.2" y1="126.4" x2="446.2" y2="128.4" stroke="#000" stroke-width="0.7"/>
<line x1="475.1" y1="126.4" x2="475.1" y2="128.4" stroke="#000" stroke-width="0.7"/>
<line x1="504.0" y1="126.4" x2="504.0" y2="128.4" stroke="#000" stroke-width="0.7"/>
<text x="289.6" y="137.0" font-size="7.2" font-weight="bold" text-anchor="start" fill="#000"  stroke="#000" stroke-width="0.3">CD38</text>
<text x="289.6" y="144.6" font-size="7.2" font-weight="bold" text-anchor="start" fill="#000"  stroke="#000" stroke-width="0.3">high</text>
<text x="320.4" y="137.0" font-size="7.2" font-weight="bold" text-anchor="start" fill="#000"  stroke="#000" stroke-width="0.3">Bcl-2</text>
<text x="320.4" y="144.6" font-size="7.2" font-weight="bold" text-anchor="start" fill="#000"  stroke="#000" stroke-width="0.3">low</text>
<text x="344.8" y="137.0" font-size="7.2" font-weight="bold" text-anchor="start" fill="#000"  stroke="#000" stroke-width="0.3">Ki-67+</text>
<text x="372.5" y="137.0" font-size="7.2" font-weight="bold" text-anchor="start" fill="#000"  stroke="#000" stroke-width="0.3">TIA-1+</text>
<text x="401.5" y="137.0" font-size="7.2" font-weight="bold" text-anchor="start" fill="#000"  stroke="#000" stroke-width="0.3">IL-2+</text>
<text x="426.3" y="137.0" font-size="7.2" font-weight="bold" text-anchor="start" fill="#000"  stroke="#000" stroke-width="0.3">CD40L+</text>
<text x="458.0" y="137.0" font-size="7.2" font-weight="bold" text-anchor="start" fill="#000"  stroke="#000" stroke-width="0.3">CD127+</text>
<text x="491.7" y="137.0" font-size="7.2" font-weight="bold" text-anchor="start" fill="#000"  stroke="#000" stroke-width="0.3">CD57+</text>
<text x="268.4" y="62.8" font-size="7.6" font-weight="bold" text-anchor="middle" stroke="#000" stroke-width="0.25" transform="rotate(-90 268.4 62.8)">% of HIV-1 GAG IFN+ CD4+</text>
<line x1="284.0" y1="278.0" x2="286.0" y2="278.0" stroke="#000" stroke-width="0.7"/>
<line x1="284.0" y1="254.5" x2="286.0" y2="254.5" stroke="#000" stroke-width="0.7"/>
<line x1="284.0" y1="231.0" x2="286.0" y2="231.0" stroke="#000" stroke-width="0.7"/>
<line x1="284.0" y1="207.5" x2="286.0" y2="207.5" stroke="#000" stroke-width="0.7"/>
<line x1="284.0" y1="184.0" x2="286.0" y2="184.0" stroke="#000" stroke-width="0.7"/>
<line x1="283.0" y1="289.7" x2="286.0" y2="289.7" stroke="#000" stroke-width="0.8"/>
<text x="282.5" y="292.1" font-size="6.8" font-weight="bold" text-anchor="end" fill="#000"  stroke="#000" stroke-width="0.3">0</text>
<line x1="283.0" y1="266.2" x2="286.0" y2="266.2" stroke="#000" stroke-width="0.8"/>
<text x="282.5" y="268.6" font-size="6.8" font-weight="bold" text-anchor="end" fill="#000"  stroke="#000" stroke-width="0.3">20</text>
<line x1="283.0" y1="242.7" x2="286.0" y2="242.7" stroke="#000" stroke-width="0.8"/>
<text x="282.5" y="245.1" font-size="6.8" font-weight="bold" text-anchor="end" fill="#000"  stroke="#000" stroke-width="0.3">40</text>
<line x1="283.0" y1="219.3" x2="286.0" y2="219.3" stroke="#000" stroke-width="0.8"/>
<text x="282.5" y="221.7" font-size="6.8" font-weight="bold" text-anchor="end" fill="#000"  stroke="#000" stroke-width="0.3">60</text>
<line x1="283.0" y1="195.8" x2="286.0" y2="195.8" stroke="#000" stroke-width="0.8"/>
<text x="282.5" y="198.2" font-size="6.8" font-weight="bold" text-anchor="end" fill="#000"  stroke="#000" stroke-width="0.3">80</text>
<line x1="283.0" y1="172.3" x2="286.0" y2="172.3" stroke="#000" stroke-width="0.8"/>
<text x="282.5" y="174.7" font-size="6.8" font-weight="bold" text-anchor="end" fill="#000"  stroke="#000" stroke-width="0.3">100</text>
<rect x="287.6" y="288.5" width="8.0" height="1.2" fill="#3b3b3b" stroke="#1a1a1a" stroke-width="0.8"/>
<path d="M300.3 279.7V274.7M298.9 274.7h2.8" stroke="#333" stroke-width="0.8"/>
<rect x="296.3" y="279.7" width="8.0" height="10.0" fill="#c4c4c4" stroke="#555" stroke-width="0.8"/>
<path d="M309.1 282.7V279.8M307.7 279.8h2.8" stroke="#333" stroke-width="0.8"/>
<rect x="305.1" y="282.7" width="8.0" height="7.0" fill="#f0f0f0" stroke="#555" stroke-width="0.8"/>
<path d="M320.5 279.7V277.0M319.1 277.0h2.8" stroke="#333" stroke-width="0.8"/>
<rect x="316.5" y="279.7" width="8.0" height="10.0" fill="#3b3b3b" stroke="#1a1a1a" stroke-width="0.8"/>
<path d="M329.3 266.8V258.2M327.9 258.2h2.8" stroke="#333" stroke-width="0.8"/>
<rect x="325.3" y="266.8" width="8.0" height="22.9" fill="#c4c4c4" stroke="#555" stroke-width="0.8"/>
<path d="M338.0 273.3V270.7M336.6 270.7h2.8" stroke="#333" stroke-width="0.8"/>
<rect x="334.0" y="273.3" width="8.0" height="16.4" fill="#f0f0f0" stroke="#555" stroke-width="0.8"/>
<path d="M349.4 286.2V284.7M348.0 284.7h2.8" stroke="#333" stroke-width="0.8"/>
<rect x="345.5" y="286.2" width="8.0" height="3.5" fill="#3b3b3b" stroke="#1a1a1a" stroke-width="0.8"/>
<path d="M358.2 283.2V281.5M356.8 281.5h2.8" stroke="#333" stroke-width="0.8"/>
<rect x="354.2" y="283.2" width="8.0" height="6.5" fill="#c4c4c4" stroke="#555" stroke-width="0.8"/>
<path d="M366.9 287.4V286.4M365.5 286.4h2.8" stroke="#333" stroke-width="0.8"/>
<rect x="363.0" y="287.4" width="8.0" height="2.3" fill="#f0f0f0" stroke="#555" stroke-width="0.8"/>
<path d="M378.4 178.8V176.2M377.0 176.2h2.8" stroke="#333" stroke-width="0.8"/>
<rect x="374.4" y="178.8" width="8.0" height="110.9" fill="#3b3b3b" stroke="#1a1a1a" stroke-width="0.8"/>
<path d="M387.1 204.0V193.2M385.7 193.2h2.8" stroke="#333" stroke-width="0.8"/>
<rect x="383.1" y="204.0" width="8.0" height="85.7" fill="#c4c4c4" stroke="#555" stroke-width="0.8"/>
<path d="M395.9 208.1V193.2M394.5 193.2h2.8" stroke="#333" stroke-width="0.8"/>
<rect x="391.9" y="208.1" width="8.0" height="81.6" fill="#f0f0f0" stroke="#555" stroke-width="0.8"/>
<path d="M407.3 280.9V279.1M405.9 279.1h2.8" stroke="#333" stroke-width="0.8"/>
<rect x="403.3" y="280.9" width="8.0" height="8.8" fill="#3b3b3b" stroke="#1a1a1a" stroke-width="0.8"/>
<path d="M416.0 282.7V281.1M414.6 281.1h2.8" stroke="#333" stroke-width="0.8"/>
<rect x="412.1" y="282.7" width="8.0" height="7.0" fill="#c4c4c4" stroke="#555" stroke-width="0.8"/>
<path d="M424.8 248.6V242.2M423.4 242.2h2.8" stroke="#333" stroke-width="0.8"/>
<rect x="420.8" y="248.6" width="8.0" height="41.1" fill="#f0f0f0" stroke="#555" stroke-width="0.8"/>
<path d="M436.2 226.9V218.4M434.8 218.4h2.8" stroke="#333" stroke-width="0.8"/>
<rect x="432.2" y="226.9" width="8.0" height="62.8" fill="#3b3b3b" stroke="#1a1a1a" stroke-width="0.8"/>
<path d="M445.0 222.2V210.6M443.6 210.6h2.8" stroke="#333" stroke-width="0.8"/>
<rect x="441.0" y="222.2" width="8.0" height="67.5" fill="#c4c4c4" stroke="#555" stroke-width="0.8"/>
<path d="M453.7 211.6V204.0M452.3 204.0h2.8" stroke="#333" stroke-width="0.8"/>
<rect x="449.8" y="211.6" width="8.0" height="78.1" fill="#f0f0f0" stroke="#555" stroke-width="0.8"/>
<path d="M465.2 260.4V254.6M463.8 254.6h2.8" stroke="#333" stroke-width="0.8"/>
<rect x="461.2" y="260.4" width="8.0" height="29.3" fill="#3b3b3b" stroke="#1a1a1a" stroke-width="0.8"/>
<path d="M473.9 256.2V249.8M472.5 249.8h2.8" stroke="#333" stroke-width="0.8"/>
<rect x="469.9" y="256.2" width="8.0" height="33.5" fill="#c4c4c4" stroke="#555" stroke-width="0.8"/>
<path d="M482.7 225.7V222.3M481.3 222.3h2.8" stroke="#333" stroke-width="0.8"/>
<rect x="478.7" y="225.7" width="8.0" height="64.0" fill="#f0f0f0" stroke="#555" stroke-width="0.8"/>
<path d="M494.1 200.5V192.3M492.7 192.3h2.8" stroke="#333" stroke-width="0.8"/>
<rect x="490.1" y="200.5" width="8.0" height="89.2" fill="#3b3b3b" stroke="#1a1a1a" stroke-width="0.8"/>
<path d="M502.8 217.5V208.1M501.4 208.1h2.8" stroke="#333" stroke-width="0.8"/>
<rect x="498.9" y="217.5" width="8.0" height="72.2" fill="#c4c4c4" stroke="#555" stroke-width="0.8"/>
<path d="M511.6 252.7V248.8M510.2 248.8h2.8" stroke="#333" stroke-width="0.8"/>
<rect x="507.6" y="252.7" width="8.0" height="37.0" fill="#f0f0f0" stroke="#555" stroke-width="0.8"/>
<path d="M286.0 172.3H518.5V289.7H286.0Z" fill="none" stroke="#333" stroke-width="1"/>
<line x1="286.0" y1="172.3" x2="286.0" y2="289.7" stroke="#000" stroke-width="1"/>
<line x1="300.5" y1="289.7" x2="300.5" y2="291.7" stroke="#000" stroke-width="0.7"/>
<line x1="329.6" y1="289.7" x2="329.6" y2="291.7" stroke="#000" stroke-width="0.7"/>
<line x1="358.7" y1="289.7" x2="358.7" y2="291.7" stroke="#000" stroke-width="0.7"/>
<line x1="387.7" y1="289.7" x2="387.7" y2="291.7" stroke="#000" stroke-width="0.7"/>
<line x1="416.8" y1="289.7" x2="416.8" y2="291.7" stroke="#000" stroke-width="0.7"/>
<line x1="445.8" y1="289.7" x2="445.8" y2="291.7" stroke="#000" stroke-width="0.7"/>
<line x1="474.9" y1="289.7" x2="474.9" y2="291.7" stroke="#000" stroke-width="0.7"/>
<line x1="504.0" y1="289.7" x2="504.0" y2="291.7" stroke="#000" stroke-width="0.7"/>
<text x="290.3" y="302.0" font-size="7.2" font-weight="bold" text-anchor="start" fill="#000"  stroke="#000" stroke-width="0.3">CD38</text>
<text x="290.3" y="309.2" font-size="7.2" font-weight="bold" text-anchor="start" fill="#000"  stroke="#000" stroke-width="0.3">high</text>
<text x="321.4" y="302.0" font-size="7.2" font-weight="bold" text-anchor="start" fill="#000"  stroke="#000" stroke-width="0.3">Bcl-2</text>
<text x="321.4" y="309.2" font-size="7.2" font-weight="bold" text-anchor="start" fill="#000"  stroke="#000" stroke-width="0.3">low</text>
<text x="346.6" y="302.0" font-size="7.2" font-weight="bold" text-anchor="start" fill="#000"  stroke="#000" stroke-width="0.3">Ki-67+</text>
<text x="374.4" y="302.0" font-size="7.2" font-weight="bold" text-anchor="start" fill="#000"  stroke="#000" stroke-width="0.3">TIA-1+</text>
<text x="405.6" y="302.0" font-size="7.2" font-weight="bold" text-anchor="start" fill="#000"  stroke="#000" stroke-width="0.3">IL-2+</text>
<text x="432.5" y="302.0" font-size="7.2" font-weight="bold" text-anchor="start" fill="#000"  stroke="#000" stroke-width="0.3">CD40L+</text>
<text x="462.1" y="302.0" font-size="7.2" font-weight="bold" text-anchor="start" fill="#000"  stroke="#000" stroke-width="0.3">CD127+</text>
<text x="493.1" y="302.0" font-size="7.2" font-weight="bold" text-anchor="start" fill="#000"  stroke="#000" stroke-width="0.3">CD57+</text>
<text x="268.3" y="233.1" font-size="7.35" font-weight="bold" text-anchor="middle" stroke="#000" stroke-width="0.25" transform="rotate(-90 268.3 233.1)">% of CMV IFN+ CD4+</text>
<rect x="298.3" y="320.4" width="8" height="6" fill="#3b3b3b" stroke="#222" stroke-width="0.8"/>
<rect x="366.6" y="320.4" width="8" height="6" fill="#c4c4c4" stroke="#555" stroke-width="0.8"/>
<rect x="438.7" y="320.4" width="8" height="6" fill="#f0f0f0" stroke="#555" stroke-width="0.8"/>
<text x="329.2" y="323.1" font-size="7.2" font-weight="bold" text-anchor="middle" fill="#000"  stroke="#000" stroke-width="0.3">Early PHI</text>
<text x="329.5" y="330.3" font-size="7.2" font-weight="bold" text-anchor="middle" fill="#000"  stroke="#000" stroke-width="0.3">N = 6</text>
<text x="397.2" y="323.1" font-size="7.2" font-weight="bold" text-anchor="middle" fill="#000"  stroke="#000" stroke-width="0.3">Late PHI</text>
<text x="397.2" y="330.3" font-size="7.2" font-weight="bold" text-anchor="middle" fill="#000"  stroke="#000" stroke-width="0.3">N = 6</text>
<text x="476.5" y="323.1" font-size="7.2" font-weight="bold" text-anchor="middle" fill="#000"  stroke="#000" stroke-width="0.3">HIV-negative</text>
<text x="476.5" y="330.3" font-size="7.2" font-weight="bold" text-anchor="middle" fill="#000"  stroke="#000" stroke-width="0.3">controls N = 5</text>
<text x="0.5" y="13.9" font-size="18" font-weight="bold" text-anchor="start" fill="#000"  stroke="#000" stroke-width="0.3">A</text>
<text x="0.5" y="127.5" font-size="18" font-weight="bold" text-anchor="start" fill="#000"  stroke="#000" stroke-width="0.3">B</text>
<text x="0.3" y="237.5" font-size="18" font-weight="bold" text-anchor="start" fill="#000"  stroke="#000" stroke-width="0.3">C</text>
<text x="256.4" y="13.3" font-size="18" font-weight="bold" text-anchor="start" fill="#000"  stroke="#000" stroke-width="0.3">D</text>
<text x="258.0" y="175.4" font-size="18" font-weight="bold" text-anchor="start" fill="#000"  stroke="#000" stroke-width="0.3">E</text>
</g>
</svg>
</body></html>
